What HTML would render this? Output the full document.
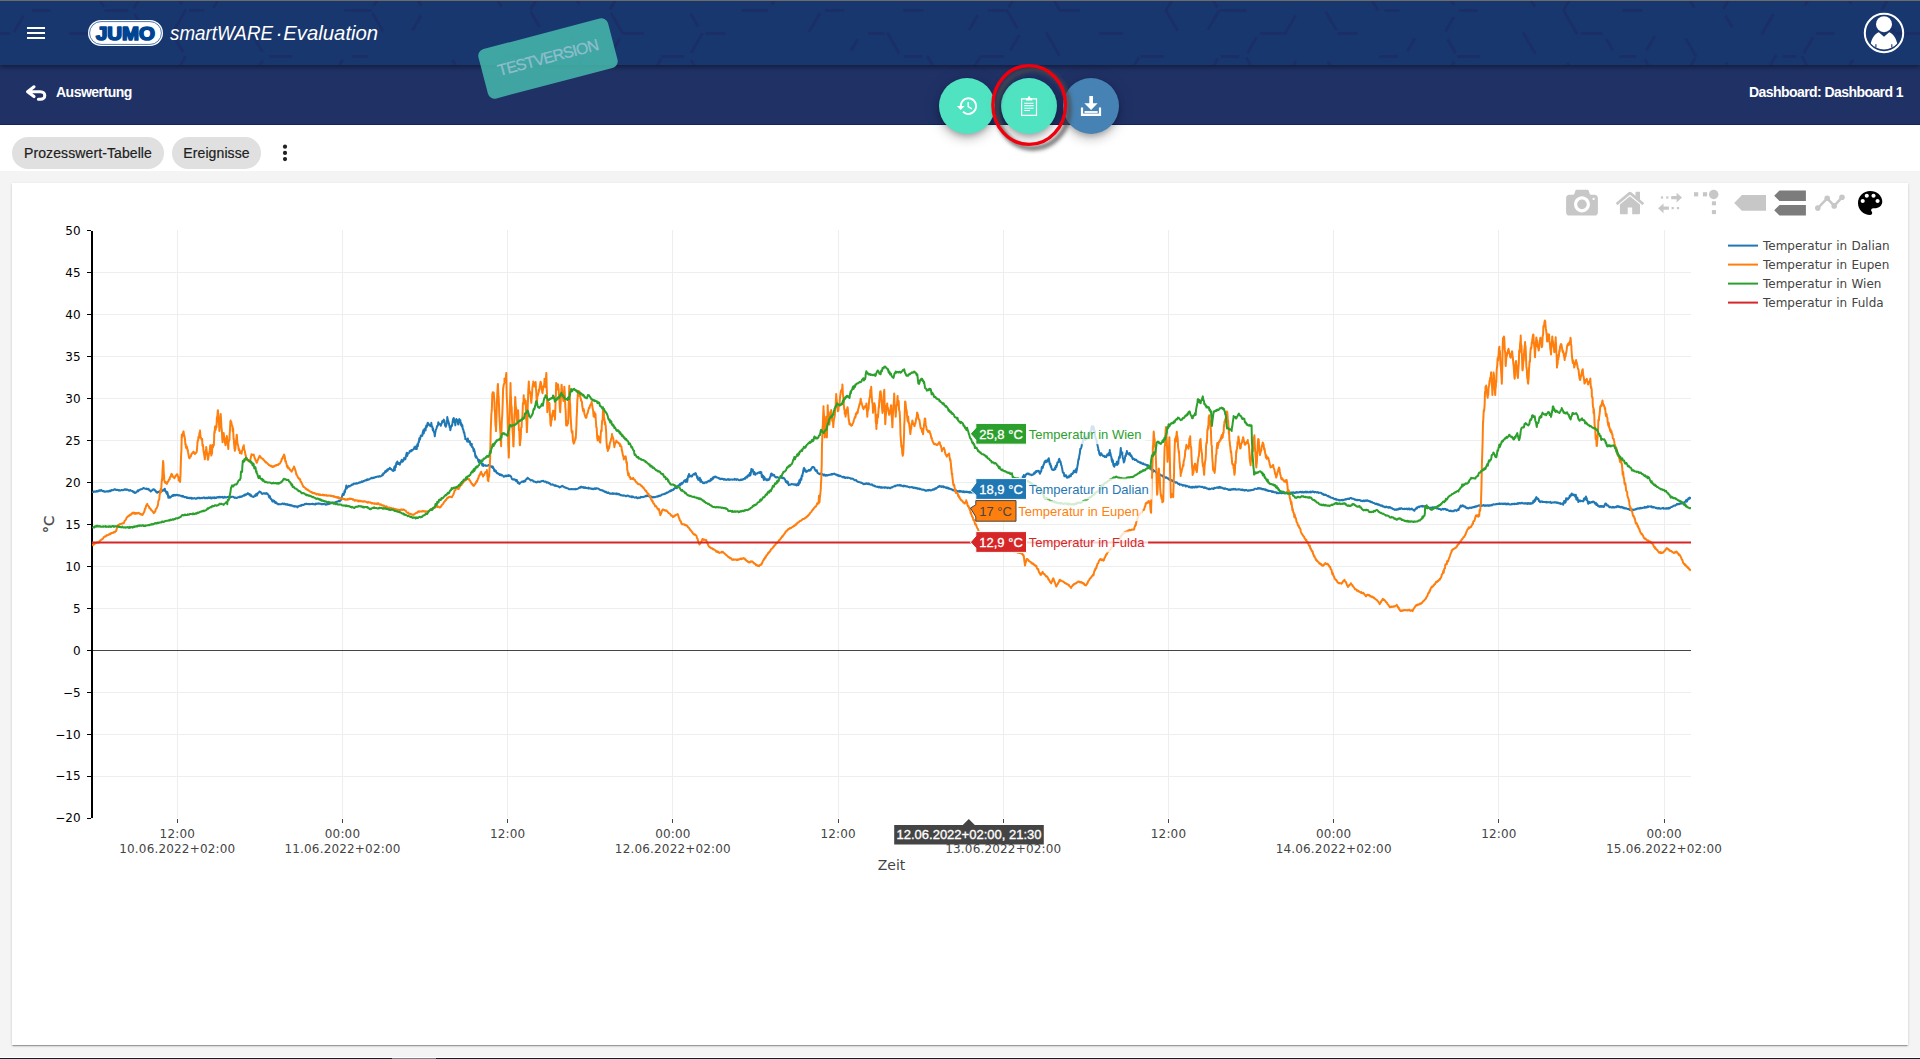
<!DOCTYPE html><html lang="de"><head><meta charset="utf-8"><title>JUMO smartWARE Evaluation</title><style>
*{box-sizing:border-box;margin:0;padding:0}
html,body{width:1920px;height:1059px;overflow:hidden;background:#f4f4f4;font-family:"Liberation Sans",sans-serif}
.abs{position:absolute}
#hdr{left:0;top:0;width:1920px;height:65px;background:#18376f;box-shadow:0 2px 5px rgba(0,0,0,.45);z-index:3}
#topline{left:0;top:0;width:1920px;height:1px;background:#6d6a6a;z-index:6}
#sub{left:0;top:65px;width:1920px;height:60px;background:#203166;border-bottom:1px solid #12255c;z-index:2}
#strip{left:0;top:125px;width:1920px;height:46px;background:#fff;z-index:1}
#card{left:12px;top:183px;width:1896px;height:862px;background:#fff;box-shadow:0 2px 1px -1px rgba(0,0,0,.2),0 1px 1px 0 rgba(0,0,0,.14),0 1px 3px 0 rgba(0,0,0,.12);z-index:1}
#bottom{left:0;top:1057px;width:1920px;height:2px;background:linear-gradient(#fff 0 1px,#0b1f2e 1px 2px);z-index:5}
#bseg{left:392px;top:1058px;width:44px;height:1px;background:#6f8288;z-index:6}
.chip{top:137px;height:32px;border-radius:16px;background:#e0e0e0;color:#212121;font-size:14px;line-height:32px;text-align:center;z-index:2;white-space:nowrap;letter-spacing:.1px;-webkit-text-stroke:.2px #212121}
.chart{position:absolute;left:0;top:0;z-index:2}
.ui{position:absolute;left:0;top:0;z-index:7}
.fab{width:56px;height:56px;border-radius:50%;top:78px;z-index:4;box-shadow:0 3px 5px -1px rgba(0,0,0,.2),0 6px 10px 0 rgba(0,0,0,.14),0 1px 18px 0 rgba(0,0,0,.12)}
#stamp{left:480.6px;top:33.2px;width:134px;height:51px;border-radius:7px;background:rgba(72,190,176,.82);transform:rotate(-14.7deg);z-index:5;color:rgba(186,204,224,.6);-webkit-text-stroke:.3px rgba(186,204,224,.6);font-size:16px;letter-spacing:-.9px;text-align:center;line-height:50px}
.t{position:absolute;color:#fff;white-space:nowrap;z-index:7}
</style></head><body>
<div class="abs" id="hdr"></div><svg class="abs" style="left:0;top:1px;z-index:3" width="1920" height="64" viewBox="0 1 1920 64"><path d="M-51.6,-35.4L-29.7,-35.4M-24.0,-31.1L-16.2,-17.5M-15.6,-8.4L-22.0,2.8M-52.4,10.5L-34.9,10.5M-22.7,17.1L-17.3,26.4M-16.2,38.5L-26.3,56.0M-22.0,64.2L-17.7,71.7M-51.7,102.3L-34.7,102.3M-22.7,108.9L-17.0,118.7M15.8,-53.9L22.2,-42.9M25.5,-33.7L14.7,-15.0M-10.3,-12.4L9.4,-12.4M22.8,16.9L14.6,31.0M-7.9,33.4L8.8,33.4M-4.2,79.3L5.1,79.3M16.8,85.4L22.6,95.5M32.7,-35.4L50.8,-35.4M32.9,10.5L49.2,10.5M56.3,107.9L64.6,122.4M94.5,-55.3L104.5,-38.1M103.9,-31.7L96.6,-19.1M66.8,-12.4L90.6,-12.4M93.9,-10.5L103.2,5.6M70.4,33.4L88.6,33.4M94.7,82.7L103.0,97.1M133.3,-34.0L142.2,-18.6M143.5,-8.6L134.4,7.2M106.0,10.5L127.1,10.5M135.1,15.0L145.5,33.1M114.3,102.3L130.5,102.3M149.5,-58.3L163.9,-58.3M185.2,-34.9L175.9,-18.8M148.9,-12.4L163.5,-12.4M173.0,-11.2L181.3,3.3M185.4,10.7L172.8,32.4M173.4,35.5L182.5,51.2M184.9,57.4L173.0,78.1M186.4,-35.4L205.9,-35.4M215.8,-28.7L221.4,-19.2M220.8,-4.8L214.2,6.7M190.5,10.5L203.0,10.5M223.5,82.3L215.9,95.6M227.3,-58.3L250.0,-58.3M230.1,33.4L245.8,33.4M251.9,33.7L261.7,50.6M261.8,62.0L252.0,79.0M233.9,79.3L251.6,79.3M264.0,104.1L255.3,119.0M266.9,-35.4L288.0,-35.4M271.1,56.4L290.7,56.4M295.2,108.6L301.7,119.9M333.1,-55.1L344.3,-35.8M305.9,-12.4L323.4,-12.4M312.4,33.4L331.1,33.4M342.0,60.8L335.3,72.4M313.8,79.3L328.0,79.3M352.6,-35.4L369.4,-35.4M372.2,-33.4L381.0,-18.1M381.5,-7.7L374.4,4.6M345.7,10.5L370.2,10.5M373.1,14.2L382.3,30.1M353.0,56.4L366.4,56.4M348.6,102.3L363.4,102.3M374.7,108.7L380.4,118.6M421.6,-31.2L412.8,-16.0M413.3,-7.9L420.5,4.5M420.4,16.7L413.0,29.5M389.9,79.3L406.2,79.3M453.1,60.9L463.5,78.9M425.1,102.3L445.3,102.3M451.6,104.2L459.5,117.8M500.2,-29.6L491.8,-15.2M471.9,-12.4L489.9,-12.4M494.7,-4.8L500.7,5.7M501.5,59.9L492.5,75.5M465.6,79.3L483.9,79.3M500.9,106.7L492.8,120.8M506.6,-35.4L526.5,-35.4M538.7,-4.5L531.0,8.8M531.2,12.6L538.8,25.7M504.7,56.4L524.6,56.4M504.9,102.3L529.3,102.3M543.8,-58.3L566.9,-58.3M570.1,-57.8L582.7,-35.9M573.7,-5.6L578.7,3.0M572.3,37.9L582.7,55.8M582.4,57.4L571.9,75.5M544.3,79.3L562.0,79.3M570.7,81.0L579.8,96.8M579.5,108.4L573.0,119.5M611.1,-32.6L618.2,-20.3M622.7,-12.3L610.7,8.4M611.7,14.3L622.4,32.9M619.0,40.0L612.1,51.8M620.4,83.4L610.9,99.8M613.4,109.0L621.4,122.9M626.0,-58.3L640.5,-58.3M649.6,-57.8L661.3,-37.5M661.7,-34.1L653.5,-19.8M625.0,33.4L642.7,33.4M660.4,60.0L652.7,73.4M671.5,-35.4L682.6,-35.4M689.0,-35.4L699.4,-17.4M691.3,14.6L697.6,25.5M701.8,34.2L691.8,51.6M662.7,56.4L682.5,56.4M691.7,61.1L700.1,75.6M705.3,-58.3L728.6,-58.3M732.1,-52.5L740.3,-38.3M738.1,-28.7L729.3,-13.3M707.1,33.4L724.2,33.4M781.6,-12.2L772.5,3.5M743.0,10.5L767.0,10.5M749.4,102.3L766.2,102.3M811.7,-52.4L818.0,-41.4M820.3,-33.3L809.5,-14.6M788.6,-12.4L808.0,-12.4M819.3,14.3L809.7,30.9M783.1,79.3L801.3,79.3M818.9,106.9L812.8,117.3M824.0,-35.4L845.0,-35.4M826.3,10.5L843.0,10.5M857.1,40.6L851.7,50.0M859.1,83.0L848.8,100.9M849.2,104.5L857.6,118.9M866.6,-58.3L879.8,-58.3M868.9,-12.4L883.2,-12.4M869.6,33.4L883.0,33.4M887.8,33.5L898.6,52.3M862.6,79.3L881.7,79.3M891.6,86.1L896.4,94.3M931.8,-28.0L939.4,-14.8M904.5,10.5L921.9,10.5M905.0,56.4L920.8,56.4M928.0,57.2L940.0,78.0M936.4,86.9L931.0,96.3M905.7,102.3L920.0,102.3M931.9,110.0L940.2,124.3M977.1,16.4L969.8,29.0M980.3,56.8L967.6,78.8M945.1,79.3L961.2,79.3M970.7,85.3L980.4,102.1M977.5,107.6L970.5,119.6M1007.8,-34.1L1016.4,-19.2M1016.0,-5.2L1009.3,6.5M988.9,10.5L1007.0,10.5M1007.6,11.6L1016.5,27.0M1018.7,36.2L1011.2,49.1M982.9,56.4L1003.0,56.4M984.3,102.3L1002.6,102.3M1008.6,105.0L1015.9,117.7M1015.8,133.0L1011.1,141.2M1022.8,-12.4L1039.8,-12.4M1048.8,-8.9L1059.8,10.1M1046.9,33.7L1058.7,54.1M1058.2,105.4L1047.1,124.7M1061.0,10.5L1078.7,10.5M1107.0,-58.3L1119.1,-58.3M1100.9,-12.4L1119.3,-12.4M1100.4,33.4L1121.8,33.4M1138.5,58.2L1128.1,76.1M1102.5,79.3L1121.2,79.3M1178.1,-10.5L1166.2,10.2M1166.1,10.7L1176.9,29.4M1141.9,56.4L1162.9,56.4M1179.1,79.6L1169.1,97.0M1145.8,102.3L1158.6,102.3M1210.2,-50.6L1215.8,-40.9M1181.3,-12.4L1203.5,-12.4M1210.2,-4.8L1216.7,6.4M1218.0,12.3L1208.5,28.8M1217.2,59.6L1209.4,73.0M1206.0,79.8L1214.6,94.7M1214.8,109.5L1206.3,124.3M1220.7,10.5L1244.9,10.5M1255.7,38.8L1248.4,51.4M1222.1,56.4L1237.8,56.4M1246.8,58.6L1255.7,74.1M1227.9,102.3L1238.1,102.3M1249.3,108.9L1257.9,123.8M1258.5,125.6L1247.9,144.0M1267.3,-58.3L1277.8,-58.3M1289.4,-51.1L1294.0,-43.2M1294.7,-28.9L1286.3,-14.3M1259.1,-12.4L1276.6,-12.4M1295.0,16.5L1285.7,32.6M1261.3,33.4L1284.9,33.4M1295.2,62.2L1288.4,73.9M1258.8,79.3L1283.0,79.3M1326.1,-33.5L1335.8,-16.7M1326.2,12.5L1335.6,28.9M1328.7,62.8L1337.0,77.2M1336.8,127.8L1328.0,143.1M1365.7,-56.8L1376.9,-37.4M1377.7,-34.9L1369.2,-20.2M1369.3,-4.6L1377.5,9.6M1339.0,33.4L1356.4,33.4M1340.4,79.3L1359.3,79.3M1385.8,10.5L1397.9,10.5M1414.3,39.4L1408.2,50.0M1380.3,56.4L1396.6,56.4M1381.7,102.3L1404.4,102.3M1414.0,131.7L1406.1,145.4M1446.5,-54.5L1456.7,-36.9M1445.6,-10.1L1453.4,3.4M1453.0,18.3L1446.2,30.1M1448.3,40.4L1454.9,52.0M1453.9,62.6L1444.5,78.9M1423.3,79.3L1440.7,79.3M1446.0,82.3L1453.5,95.4M1456.3,104.3L1446.1,122.0M1484.1,-35.3L1494.1,-17.9M1460.4,10.5L1476.6,10.5M1458.4,56.4L1478.4,56.4M1459.0,102.3L1481.2,102.3M1485.3,104.6L1494.0,119.7M1502.5,-58.3L1517.8,-58.3M1527.8,-51.4L1537.0,-35.4M1536.1,-33.8L1525.0,-14.6M1497.3,-12.4L1522.8,-12.4M1527.6,-5.9L1534.2,5.7M1523.8,33.6L1534.9,52.8M1526.6,84.3L1534.1,97.2M1539.6,-35.4L1559.1,-35.4M1574.5,-8.5L1564.4,8.9M1564.1,11.5L1576.5,33.0M1567.8,63.8L1573.9,74.4M1573.1,131.6L1567.1,141.9M1584.6,-58.3L1601.7,-58.3M1604.3,-56.6L1613.7,-40.2M1577.9,-12.4L1596.3,-12.4M1582.0,33.4L1601.0,33.4M1607.1,40.2L1612.4,49.3M1614.6,105.7L1605.2,121.9M1622.6,-35.4L1637.9,-35.4M1643.1,-35.2L1654.5,-15.5M1623.6,10.5L1641.0,10.5M1654.1,37.3L1647.1,49.2M1620.5,56.4L1634.6,56.4M1645.4,60.5L1651.8,71.6M1623.3,102.3L1640.9,102.3M1653.9,129.3L1645.9,143.2M1686.7,-51.5L1696.0,-35.4M1687.3,-4.6L1693.6,6.4M1686.4,39.8L1695.7,55.8M1694.4,59.2L1683.9,77.4M1664.6,79.3L1676.0,79.3M1693.7,106.3L1683.1,124.6M1698.4,-35.4L1717.9,-35.4M1722.7,-35.1L1732.0,-19.0M1731.4,-4.9L1724.0,7.9M1726.1,16.8L1731.6,26.3M1726.5,63.4L1733.7,75.8M1727.1,110.3L1734.0,122.3M1732.1,131.7L1725.9,142.3M1772.0,-29.3L1764.8,-16.9M1742.6,-12.4L1753.4,-12.4M1772.5,15.6L1762.3,33.3M1775.5,56.4L1766.7,71.6M1741.5,79.3L1757.0,79.3M1777.6,-35.4L1798.8,-35.4M1802.0,-35.4L1812.3,-17.6M1813.6,-9.6L1805.6,4.3M1812.4,38.5L1804.4,52.2M1784.2,56.4L1795.0,56.4M1802.4,57.2L1813.6,76.4M1803.2,104.4L1810.7,117.3M1844.7,-53.2L1852.4,-39.9M1845.9,-5.2L1850.6,2.8M1817.5,33.4L1833.0,33.4M1852.4,60.8L1842.0,78.9M1817.1,79.3L1838.1,79.3M1882.9,-32.9L1891.5,-18.1M1890.6,-5.3L1882.5,8.8M1885.4,17.3L1893.6,31.4M1894.3,80.2L1885.1,96.1M1858.1,102.3L1879.2,102.3M1923.8,-53.9L1931.9,-39.9M1924.2,-7.3L1934.3,10.2M1930.4,17.6L1925.8,25.5M1896.9,33.4L1918.9,33.4M1902.9,79.3L1915.0,79.3M1925.5,86.6L1932.8,99.3M1941.2,56.4L1957.0,56.4M1962.0,58.1L1972.5,76.3M1970.0,86.7L1965.0,95.4M1935.5,102.3L1960.3,102.3M1961.7,103.4L1969.7,117.4M1971.0,130.8L1962.7,145.3" stroke="#23215a" stroke-opacity="0.4" stroke-width="2.6" stroke-linecap="square" fill="none"/></svg><div class="abs" id="topline"></div><div class="abs" id="sub"></div><div class="abs" id="strip"></div>
<div class="abs" id="card"></div><div class="abs" id="bottom"></div><div class="abs" id="bseg"></div>
<div class="abs chip" style="left:12px;width:152px">Prozesswert-Tabelle</div>
<div class="abs chip" style="left:172px;width:89px">Ereignisse</div>
<div class="abs fab" style="left:938.6px;background:#50e3c2"></div>
<div class="abs fab" style="left:1001px;background:#50e3c2"></div>
<div class="abs fab" style="left:1062.6px;background:#4682b4"></div>
<div class="abs" id="stamp">TESTVERSION</div>
<div class="t" style="left:56px;top:84px;font-size:14px;font-weight:bold;letter-spacing:-.5px;line-height:16px">Auswertung</div>
<div class="t" style="right:17px;top:84px;font-size:14px;font-weight:bold;letter-spacing:-.57px;line-height:16px">Dashboard: Dashboard 1</div>
<svg class="chart" width="1920" height="1059" viewBox="0 0 1920 1059">
<defs><clipPath id="plotclip"><rect x="92" y="229" width="1599" height="590"/></clipPath></defs>
<path d="M177.5,230.4V818M342.5,230.4V818M507.5,230.4V818M672.5,230.4V818M838.5,230.4V818M1003.5,230.4V818M1168.5,230.4V818M1333.5,230.4V818M1498.5,230.4V818M1664.5,230.4V818M93,272.4H1691M93,314.4H1691M93,356.4H1691M93,398.4H1691M93,440.4H1691M93,482.4H1691M93,524.4H1691M93,566.4H1691M93,608.4H1691M93,692.4H1691M93,734.4H1691M93,776.4H1691" stroke="#eeeeee" stroke-width="1" fill="none" shape-rendering="crispEdges"/>
<path d="M93,650.4H1691" stroke="#444" stroke-width="1" fill="none" shape-rendering="crispEdges"/>
<path d="M92,231V818" stroke="#000" stroke-width="2" fill="none" shape-rendering="crispEdges"/>
<g clip-path="url(#plotclip)" fill="none" stroke-width="2" stroke-linejoin="round" stroke-linecap="butt">
<path d="M92.3,491.5L92.8,492.1L93.3,492.0L93.8,491.5L94.3,491.7L94.8,491.6L95.3,491.7L95.8,491.8L96.3,491.1L96.8,491.0L97.0,491.5L97.3,491.3L97.8,491.4L98.3,490.5L98.8,490.8L99.3,490.9L99.8,490.2L100.3,490.8L100.8,490.5L100.8,490.1L101.3,489.9L101.8,490.6L102.3,491.2L102.8,490.9L103.3,491.0L103.8,491.4L104.3,491.2L104.6,491.8L104.8,491.7L105.3,491.8L105.8,491.4L106.3,491.4L106.8,491.3L107.3,491.5L107.8,491.3L108.3,491.0L108.3,491.5L108.8,491.4L109.3,491.3L109.8,490.6L110.3,491.3L110.8,491.0L111.3,490.1L111.8,490.1L112.3,490.3L112.8,490.1L113.3,490.2L113.8,489.5L114.3,489.7L114.8,489.4L114.9,489.2L115.3,489.4L115.8,489.9L116.3,490.0L116.8,489.8L117.3,490.1L117.8,489.7L118.3,490.1L118.7,490.5L118.8,490.4L119.3,490.1L119.8,490.4L120.3,490.5L120.8,490.4L121.3,490.1L121.8,490.1L122.3,490.1L122.8,490.3L123.3,490.0L123.8,489.8L124.3,489.8L124.8,489.3L125.3,489.2L125.8,489.8L126.3,490.0L126.3,489.6L126.8,489.6L127.3,489.4L127.8,489.9L128.3,490.4L128.8,490.3L129.3,490.2L129.8,490.6L130.3,490.1L130.8,490.5L131.0,490.5L131.3,490.7L131.8,490.9L132.3,491.0L132.8,491.5L133.3,492.2L133.8,491.5L134.3,492.6L134.8,492.9L135.2,492.8L135.3,492.9L135.8,492.7L136.3,492.1L136.8,491.8L137.3,491.3L137.8,490.4L138.3,491.3L138.8,490.5L139.3,489.7L139.5,489.9L139.8,489.8L140.3,489.5L140.8,489.3L141.3,489.3L141.8,489.2L142.3,488.9L142.8,488.6L143.3,488.0L143.8,488.0L144.2,488.1L144.3,488.2L144.8,488.6L145.3,488.7L145.8,488.8L146.3,489.0L146.8,488.6L147.3,489.3L147.8,489.3L148.0,489.1L148.3,488.7L148.8,489.2L149.3,490.5L149.8,490.4L150.3,490.6L150.8,491.5L150.8,491.5L151.3,490.7L151.8,490.4L152.3,490.3L152.8,489.6L153.3,489.3L153.7,489.2L153.8,489.2L154.3,489.6L154.8,490.4L155.3,490.2L155.8,491.4L156.3,492.0L156.5,492.4L156.8,491.9L157.3,492.6L157.8,492.2L158.3,491.8L158.8,492.0L159.3,492.2L159.8,491.3L160.3,491.2L160.8,491.2L161.2,491.5L161.3,491.1L161.8,491.3L162.3,490.9L162.8,490.4L163.3,489.7L163.8,490.5L164.3,490.1L164.4,489.2L164.8,488.8L165.3,491.3L165.8,491.1L166.3,492.9L166.8,492.5L167.3,494.5L167.3,492.1L167.8,493.9L168.3,497.7L168.8,497.6L169.3,496.4L169.7,497.6L169.8,497.1L170.3,497.6L170.8,497.1L171.3,496.5L171.8,496.0L172.3,495.5L172.8,496.0L173.3,494.9L173.5,495.2L173.8,495.7L174.3,495.2L174.8,494.7L175.3,495.4L175.8,495.4L176.3,495.1L176.3,494.9L176.8,494.8L177.3,494.9L177.8,494.9L178.3,495.5L178.8,495.4L179.3,495.2L179.8,495.3L180.3,495.9L180.8,495.7L181.3,496.0L181.8,495.9L182.0,496.2L182.3,496.7L182.8,495.9L183.3,496.2L183.8,496.5L184.3,497.3L184.8,497.2L185.3,496.9L185.8,496.9L186.3,497.5L186.7,497.5L186.8,497.9L187.3,497.4L187.8,498.0L188.3,497.9L188.8,497.8L189.3,498.3L189.8,497.7L190.3,498.2L190.8,497.7L191.3,497.8L191.8,498.6L192.3,498.0L192.8,498.6L193.3,498.5L193.3,498.4L193.8,498.3L194.3,498.2L194.8,498.1L195.3,498.7L195.8,498.4L196.3,498.7L196.8,498.6L197.3,497.8L197.8,498.2L198.3,497.7L198.8,497.7L199.3,497.7L199.8,498.4L200.3,498.3L200.8,498.3L201.3,497.8L201.8,498.1L202.3,498.2L202.8,497.8L202.8,497.9L203.3,497.6L203.8,497.5L204.3,497.6L204.8,498.3L205.3,497.9L205.8,498.3L206.3,497.8L206.8,497.7L207.3,498.2L207.8,498.2L208.3,497.4L208.8,498.0L209.3,497.5L209.8,497.5L210.3,498.3L210.8,497.4L211.3,497.6L211.8,498.4L212.2,497.9L212.3,497.5L212.8,497.5L213.3,497.5L213.8,498.0L214.3,497.3L214.8,498.1L215.3,497.5L215.8,498.1L216.3,498.0L216.8,497.3L217.3,497.2L217.8,497.4L218.3,497.0L218.8,497.5L219.3,496.9L219.8,496.8L219.8,497.3L220.3,497.1L220.8,497.4L221.3,497.2L221.8,497.1L222.3,496.8L222.8,497.6L223.3,497.7L223.8,497.7L224.3,496.8L224.8,496.9L225.3,497.3L225.8,497.6L226.3,497.2L226.8,497.3L227.3,497.3L227.3,497.1L227.8,497.1L228.3,496.9L228.8,496.8L229.3,496.5L229.8,496.7L230.3,497.4L230.8,496.8L231.3,497.0L231.8,496.9L232.1,496.7L232.3,496.7L232.8,496.7L233.3,496.9L233.8,497.0L234.3,497.7L234.8,497.9L235.3,497.4L235.8,497.6L236.3,498.0L236.8,498.1L236.8,498.1L237.3,497.6L237.8,497.3L238.3,497.3L238.8,497.0L239.3,497.3L239.8,496.6L240.3,496.5L240.8,496.9L241.3,496.4L241.8,496.7L242.3,496.2L242.5,496.2L242.8,495.7L243.3,495.8L243.8,495.8L244.3,494.8L244.8,495.5L245.3,494.4L245.8,494.8L246.3,494.7L246.8,494.3L247.3,493.6L247.8,493.1L248.1,493.3L248.3,493.9L248.8,493.7L249.3,494.7L249.8,494.2L250.3,495.7L250.8,494.7L251.0,495.6L251.3,496.3L251.8,496.2L252.3,496.5L252.8,496.7L253.3,496.8L253.8,496.9L253.8,496.7L254.3,496.2L254.8,495.3L255.3,495.9L255.8,495.5L256.3,493.8L256.6,494.0L256.8,495.6L257.3,494.5L257.8,493.3L258.3,492.7L258.8,492.7L259.3,491.6L259.5,491.5L259.8,491.6L260.3,491.9L260.8,492.1L261.3,493.2L261.8,493.4L262.3,494.0L262.3,493.9L262.8,493.7L263.3,493.3L263.8,493.2L264.3,493.3L264.8,493.7L265.1,493.3L265.3,493.3L265.8,493.7L266.3,493.5L266.8,493.1L267.3,494.1L267.8,494.2L268.0,494.4L268.3,494.6L268.8,496.4L269.3,497.5L269.8,496.1L270.3,498.1L270.8,498.9L270.8,498.7L271.3,499.0L271.8,500.0L272.3,501.4L272.8,501.6L273.3,500.4L273.8,501.5L274.3,500.8L274.6,501.7L274.8,502.0L275.3,502.9L275.8,502.0L276.3,503.2L276.8,503.6L277.3,503.3L277.8,504.0L278.3,504.4L278.3,504.1L278.8,504.3L279.3,504.3L279.8,504.1L280.3,504.3L280.8,504.3L281.3,504.3L281.8,503.9L282.3,503.5L282.8,503.5L283.1,503.7L283.3,503.8L283.8,504.1L284.3,503.5L284.8,504.3L285.3,504.4L285.8,504.1L286.3,504.4L286.8,504.1L287.3,504.8L287.8,504.2L287.8,504.7L288.3,505.1L288.8,505.0L289.3,504.7L289.8,505.5L290.3,505.6L290.8,504.9L291.3,505.6L291.8,505.8L292.3,505.7L292.5,505.6L292.8,505.6L293.3,506.3L293.8,506.4L294.3,506.0L294.8,506.6L295.3,506.3L295.8,506.2L296.3,506.5L296.8,506.4L297.2,506.9L297.3,507.4L297.8,506.4L298.3,506.7L298.8,506.3L299.3,505.8L299.8,505.8L300.3,505.6L300.8,505.9L301.3,505.0L301.8,505.0L302.0,505.2L302.3,504.7L302.8,505.1L303.3,504.9L303.8,505.0L304.3,504.2L304.8,504.1L305.3,504.2L305.8,503.8L306.3,503.9L306.7,503.7L306.8,503.9L307.3,504.1L307.8,504.1L308.3,504.3L308.8,503.9L309.3,503.9L309.8,504.3L310.3,504.2L310.8,504.1L311.3,503.9L311.8,503.9L312.3,503.7L312.3,504.1L312.8,503.7L313.3,504.3L313.8,504.1L314.3,504.4L314.8,504.2L315.3,504.4L315.8,503.5L316.3,503.8L316.8,503.9L317.3,503.6L317.8,503.7L318.0,503.7L318.3,503.8L318.8,503.3L319.3,503.8L319.8,503.8L320.3,503.7L320.8,503.8L321.3,504.3L321.8,504.2L322.3,504.0L322.8,504.2L323.3,504.0L323.8,503.9L324.3,503.7L324.8,504.0L325.3,504.4L325.6,504.3L325.8,504.6L326.3,504.2L326.8,504.5L327.3,503.9L327.8,504.2L328.3,503.7L328.8,503.9L329.3,504.0L329.8,503.3L330.3,503.0L330.8,503.4L331.3,503.2L331.8,502.9L332.3,502.5L332.8,502.7L333.1,502.8L333.3,502.6L333.8,502.9L334.3,502.5L334.8,502.5L335.3,502.5L335.8,502.2L336.3,501.7L336.8,501.8L337.3,501.5L337.8,501.5L338.3,501.3L338.8,500.7L338.8,501.0L339.3,500.7L339.8,501.4L340.3,500.4L340.8,500.2L341.3,499.3L341.6,497.9L341.8,497.7L342.3,495.4L342.8,493.9L343.3,495.0L343.8,494.8L344.3,492.1L344.5,491.0L344.8,492.5L345.3,489.7L345.8,488.7L346.3,485.6L346.4,487.7L346.8,488.5L347.3,487.0L347.8,486.6L348.3,487.0L348.8,485.9L349.3,486.2L349.8,486.4L350.1,485.8L350.3,485.6L350.8,485.6L351.3,485.3L351.8,484.7L352.3,484.4L352.8,484.8L353.3,484.0L353.8,483.5L353.9,483.9L354.3,483.8L354.8,483.6L355.3,483.6L355.8,483.8L356.3,483.1L356.8,483.5L357.3,483.4L357.8,483.4L358.3,482.8L358.6,483.0L358.8,482.6L359.3,482.8L359.8,482.2L360.3,482.6L360.8,482.5L361.3,481.7L361.8,481.4L362.3,482.0L362.8,481.5L363.3,481.4L363.4,481.1L363.8,481.3L364.3,480.9L364.8,480.4L365.3,480.3L365.8,480.5L366.3,480.3L366.8,479.6L367.1,479.7L367.3,479.4L367.8,480.0L368.3,479.3L368.8,479.6L369.3,479.3L369.8,479.0L370.3,478.5L370.8,478.6L371.3,478.0L371.8,477.8L372.3,478.2L372.8,477.7L372.8,477.9L373.3,477.5L373.8,477.9L374.3,477.8L374.8,477.3L375.3,477.0L375.8,477.2L376.3,477.1L376.8,476.7L377.3,476.6L377.8,476.4L378.3,476.9L378.5,476.7L378.8,476.3L379.3,476.0L379.8,476.5L380.3,476.4L380.8,476.4L381.3,475.9L381.8,475.3L382.2,475.5L382.3,474.6L382.8,475.3L383.3,473.3L383.8,473.6L384.3,473.3L384.8,472.4L385.3,471.2L385.8,470.9L386.0,471.9L386.3,471.2L386.8,471.1L387.3,469.4L387.8,470.5L388.3,468.9L388.8,469.0L389.3,469.0L389.8,468.4L389.8,467.8L390.3,468.7L390.8,469.3L391.3,469.1L391.8,469.7L392.3,470.4L392.6,470.7L392.8,470.3L393.3,471.0L393.8,470.4L394.3,467.0L394.8,470.3L395.1,467.2L395.3,465.6L395.8,467.1L396.3,462.9L396.8,463.5L397.3,461.4L397.4,462.7L397.8,464.0L398.3,464.1L398.8,462.9L399.3,463.3L399.8,464.6L400.0,464.0L400.3,463.3L400.8,462.0L401.3,461.0L401.8,459.7L402.3,461.8L402.8,461.6L403.3,460.7L403.8,459.6L403.8,459.9L404.3,457.8L404.8,458.3L405.3,459.3L405.8,457.0L406.3,454.4L406.8,452.9L407.3,455.9L407.6,453.9L407.8,453.1L408.3,453.6L408.8,453.1L409.3,452.6L409.8,450.9L410.3,451.3L410.8,451.1L411.3,450.0L411.3,451.2L411.8,450.2L412.3,450.4L412.8,449.9L413.3,449.3L413.8,448.7L414.2,447.8L414.3,447.3L414.8,448.6L415.3,446.5L415.8,449.1L416.3,449.0L416.8,449.0L417.0,446.5L417.3,444.3L417.8,446.4L418.3,443.2L418.8,441.2L418.9,442.2L419.3,438.3L419.8,439.7L420.3,438.1L420.8,435.4L421.3,435.6L421.8,436.0L422.3,435.8L422.7,432.3L422.8,433.0L423.3,430.3L423.8,433.4L424.3,429.3L424.8,428.6L425.3,429.8L425.5,430.5L425.8,428.2L426.3,425.4L426.8,426.9L427.3,425.1L427.4,423.7L427.8,422.7L428.3,423.9L428.8,424.2L429.3,425.5L429.3,425.4L429.8,424.9L430.3,425.7L430.8,426.2L431.2,424.6L431.3,422.8L431.8,426.5L432.3,426.5L432.8,430.2L433.1,428.6L433.3,430.7L433.8,431.8L434.3,432.7L434.8,436.3L434.9,435.4L435.3,432.5L435.8,429.9L436.3,428.9L436.8,427.7L436.8,426.8L437.3,425.7L437.8,425.8L438.3,422.2L438.7,424.0L438.8,424.3L439.3,423.6L439.8,424.0L440.3,424.8L440.6,425.4L440.8,425.8L441.3,424.1L441.8,423.2L442.3,421.0L442.5,422.0L442.8,421.0L443.3,420.7L443.8,419.6L444.3,422.3L444.4,420.7L444.8,424.2L445.3,426.0L445.7,426.1L445.8,426.7L446.3,425.1L446.8,422.9L447.2,419.3L447.3,417.1L447.8,420.0L448.3,421.2L448.7,422.4L448.8,423.3L449.3,425.4L449.8,428.1L450.1,428.1L450.3,430.2L450.8,427.9L451.3,426.0L451.8,425.5L451.9,426.1L452.3,424.3L452.8,420.5L453.3,418.4L453.8,419.1L453.8,418.0L454.3,422.1L454.8,421.0L455.2,424.4L455.3,425.3L455.8,420.3L456.3,419.0L456.7,419.8L456.8,419.4L457.3,420.4L457.8,422.5L458.2,424.6L458.3,424.2L458.8,421.0L459.3,419.1L459.5,420.1L459.8,421.1L460.3,420.1L460.8,424.8L461.0,422.9L461.3,423.3L461.8,426.4L462.3,426.4L462.3,425.1L462.8,429.1L463.3,429.5L463.8,432.7L463.8,431.7L464.3,432.6L464.8,436.0L465.2,436.8L465.3,439.1L465.8,439.0L466.3,439.2L466.8,440.2L467.3,441.6L467.6,439.4L467.8,438.5L468.3,441.3L468.8,441.9L469.3,441.1L469.8,441.3L469.9,441.4L470.3,444.4L470.8,445.2L471.3,445.4L471.8,443.9L471.8,446.7L472.3,447.3L472.8,447.2L473.3,449.0L473.7,451.2L473.8,448.7L474.3,450.3L474.8,452.2L475.3,456.1L475.6,455.1L475.8,457.5L476.3,456.4L476.8,457.5L477.3,458.4L477.4,458.5L477.8,459.0L478.3,460.9L478.8,462.1L479.3,459.9L479.8,461.4L480.3,460.5L480.3,461.1L480.8,462.0L481.3,463.0L481.8,463.5L482.3,465.4L482.8,463.8L483.1,465.2L483.3,466.1L483.8,465.5L484.3,465.3L484.8,465.2L485.3,465.3L485.8,465.9L486.0,465.5L486.3,465.6L486.8,465.8L487.3,465.7L487.8,465.6L488.3,465.1L488.8,465.1L488.8,465.1L489.3,465.4L489.8,466.1L490.3,466.2L490.8,466.3L491.3,466.9L491.8,466.2L492.3,467.3L492.6,467.9L492.8,466.6L493.3,467.7L493.8,468.5L494.3,471.1L494.8,470.8L495.3,470.3L495.4,471.6L495.8,470.7L496.3,472.0L496.8,473.0L497.3,473.2L497.8,473.1L498.2,473.7L498.3,473.6L498.8,474.2L499.3,474.1L499.8,475.0L500.3,474.8L500.8,474.4L501.1,474.9L501.3,475.5L501.8,475.1L502.3,475.1L502.8,475.6L503.3,476.1L503.8,476.8L503.9,476.5L504.3,476.5L504.8,476.5L505.3,475.6L505.8,475.9L506.3,476.2L506.7,475.5L506.8,475.5L507.3,475.4L507.8,476.0L508.3,476.0L508.8,475.1L509.3,475.6L509.6,475.5L509.8,476.0L510.3,475.7L510.8,476.4L511.3,477.0L511.5,477.8L511.8,478.8L512.3,479.3L512.8,479.4L513.3,479.5L513.3,479.2L513.8,479.3L514.3,479.8L514.8,479.4L515.3,479.9L515.8,480.9L516.2,480.1L516.3,481.2L516.8,480.0L517.3,481.3L517.8,483.0L518.3,482.1L518.8,483.4L519.0,483.6L519.3,483.9L519.8,483.6L520.3,482.6L520.8,482.4L521.3,482.1L521.3,482.2L521.8,481.6L522.3,482.0L522.8,481.3L523.3,481.3L523.7,481.1L523.8,481.9L524.3,481.1L524.8,481.4L525.3,481.2L525.6,479.8L525.8,479.8L526.3,479.0L526.8,479.0L527.3,478.4L527.5,477.8L527.8,477.8L528.3,478.6L528.8,478.8L529.3,478.9L529.8,479.4L530.0,479.9L530.3,480.0L530.8,480.5L531.3,480.1L531.8,480.3L532.2,480.2L532.3,480.2L532.8,480.4L533.3,481.3L533.8,481.2L534.1,481.7L534.3,481.6L534.8,481.8L535.3,481.8L535.8,482.2L536.0,482.1L536.3,482.5L536.8,482.2L537.3,482.0L537.8,481.5L538.3,481.7L538.8,482.0L539.3,481.9L539.8,482.1L539.8,481.7L540.3,481.5L540.8,481.6L541.3,481.3L541.8,481.1L542.3,481.0L542.8,481.0L543.3,480.8L543.6,481.2L543.8,481.5L544.3,481.5L544.8,481.8L545.3,481.5L545.8,481.6L546.3,482.2L546.8,482.7L547.3,482.4L547.3,482.5L547.8,482.2L548.3,482.8L548.8,483.3L549.3,483.0L549.8,483.4L550.3,484.1L550.8,484.7L551.1,484.4L551.3,484.5L551.8,484.6L552.3,484.3L552.8,484.7L553.3,484.7L553.8,485.0L554.3,485.7L554.8,485.7L555.3,485.3L555.8,485.5L555.8,485.9L556.3,485.7L556.8,486.1L557.3,486.2L557.8,486.2L558.3,486.4L558.8,486.7L559.3,487.2L559.6,487.4L559.8,487.5L560.3,486.8L560.8,487.0L561.3,486.3L561.8,486.3L562.3,485.8L562.5,485.9L562.8,485.9L563.3,486.6L563.8,486.7L564.3,487.2L564.8,487.2L565.3,487.7L565.8,487.5L566.2,487.8L566.3,487.9L566.8,488.0L567.3,488.3L567.8,488.4L568.3,488.5L568.8,489.2L569.3,489.1L569.8,489.3L570.0,489.3L570.3,489.3L570.8,489.0L571.3,489.0L571.8,489.2L572.3,489.3L572.8,489.0L573.3,489.1L573.8,489.3L574.3,489.3L574.8,489.2L575.3,488.9L575.7,489.3L575.8,489.4L576.3,489.1L576.8,488.9L577.3,489.0L577.8,488.7L578.3,488.4L578.5,488.2L578.8,487.8L579.3,488.0L579.8,487.2L580.3,487.8L580.8,486.7L581.3,487.3L581.3,486.8L581.8,487.3L582.3,487.4L582.8,487.0L583.3,487.7L583.8,487.1L584.3,487.9L584.8,487.6L585.1,487.8L585.3,487.4L585.8,488.0L586.3,487.7L586.8,488.1L587.3,488.3L587.8,488.2L588.3,487.6L588.8,488.6L588.9,488.2L589.3,488.4L589.8,488.2L590.3,488.4L590.8,488.8L591.3,488.5L591.8,488.9L592.3,488.8L592.8,488.7L593.3,489.3L593.6,488.9L593.8,489.0L594.3,488.4L594.8,488.8L595.3,488.4L595.8,489.0L596.3,488.3L596.8,488.3L597.3,488.4L597.8,488.4L598.3,488.7L598.3,488.7L598.8,488.7L599.3,489.6L599.8,489.8L600.3,489.7L600.8,490.1L601.3,490.3L601.8,490.0L602.3,490.7L602.8,490.4L603.3,490.9L603.8,490.9L604.0,491.2L604.3,491.6L604.8,491.9L605.3,491.5L605.8,492.3L606.3,491.9L606.8,492.4L607.3,493.0L607.8,493.0L608.3,492.4L608.8,493.0L609.3,493.2L609.7,493.5L609.8,493.8L610.3,493.4L610.8,493.7L611.3,493.7L611.8,493.6L612.3,493.1L612.8,493.8L613.3,494.0L613.8,493.3L614.3,493.8L614.8,493.7L615.3,493.6L615.8,494.0L616.3,494.3L616.8,493.3L617.2,493.8L617.3,493.7L617.8,494.3L618.3,493.8L618.8,494.5L619.3,494.1L619.8,494.5L620.3,495.3L620.8,495.1L621.3,495.4L621.8,495.2L622.0,495.3L622.3,495.4L622.8,495.7L623.3,495.7L623.8,495.3L624.3,495.6L624.8,495.7L625.3,495.8L625.8,496.2L626.3,496.2L626.7,495.9L626.8,495.8L627.3,495.6L627.8,495.6L628.3,495.7L628.8,495.9L629.3,496.6L629.8,496.6L630.3,496.8L630.8,496.4L631.3,496.3L631.8,497.2L632.3,497.2L632.3,496.9L632.8,496.4L633.3,496.9L633.8,497.2L634.3,497.4L634.8,497.7L635.3,497.4L635.8,497.3L636.3,497.0L636.8,497.9L637.3,498.2L637.8,498.2L638.0,497.8L638.3,497.6L638.8,497.4L639.3,497.8L639.8,497.9L640.3,497.8L640.8,496.9L641.3,497.2L641.8,497.1L642.3,496.9L642.7,496.9L642.8,497.3L643.3,496.9L643.8,496.8L644.3,496.7L644.8,496.5L645.3,496.3L645.8,495.9L646.3,496.3L646.8,495.5L647.3,495.9L647.5,495.7L647.8,495.9L648.3,496.1L648.8,496.1L649.3,496.7L649.8,496.2L650.3,496.1L650.8,497.2L651.2,496.9L651.3,496.6L651.8,496.8L652.3,497.1L652.8,497.5L653.3,497.3L653.8,496.9L654.3,497.2L654.8,497.2L655.0,497.2L655.3,497.1L655.8,496.7L656.3,496.7L656.8,496.6L657.3,496.2L657.8,496.7L658.3,496.0L658.8,495.7L659.3,495.9L659.7,495.7L659.8,496.0L660.3,495.6L660.8,495.6L661.3,495.0L661.8,494.6L662.3,494.6L662.8,494.5L663.3,494.2L663.8,494.2L664.3,493.7L664.5,494.0L664.8,493.6L665.3,493.3L665.8,493.6L666.3,493.1L666.8,492.5L667.3,492.5L667.8,492.7L668.3,492.1L668.8,491.8L669.2,491.6L669.3,491.2L669.8,491.4L670.3,490.6L670.8,491.1L671.3,490.1L671.8,490.6L672.3,489.9L672.8,490.1L673.3,489.7L673.8,488.8L673.9,489.3L674.3,488.4L674.8,488.2L675.3,488.1L675.8,487.5L676.3,487.9L676.8,488.3L677.3,486.6L677.8,487.3L678.3,485.5L678.6,486.0L678.8,485.4L679.3,485.5L679.8,484.0L680.3,485.4L680.8,483.5L681.3,483.7L681.8,482.8L682.3,483.8L682.8,482.8L683.3,482.5L683.4,482.2L683.8,481.3L684.3,480.6L684.8,481.3L685.3,480.1L685.6,480.5L685.8,481.9L686.3,481.3L686.8,479.0L687.1,481.7L687.3,481.3L687.8,477.6L688.3,475.7L688.8,475.4L689.0,474.0L689.3,476.8L689.8,476.0L690.3,476.3L690.8,475.6L691.3,476.5L691.8,476.0L691.9,476.5L692.3,475.7L692.8,474.7L693.3,474.5L693.8,474.1L694.3,474.6L694.8,473.5L695.3,473.2L695.3,473.5L695.8,473.3L696.3,475.2L696.8,476.1L697.3,478.2L697.5,476.5L697.8,478.6L698.3,479.9L698.8,479.7L699.3,478.7L699.4,479.0L699.8,477.8L700.3,481.7L700.8,479.5L701.3,481.6L701.8,481.9L701.9,481.9L702.3,481.8L702.8,482.9L703.3,482.7L703.8,483.3L704.1,483.1L704.3,482.6L704.8,483.0L705.3,482.2L705.8,482.4L706.3,482.3L706.8,482.6L707.0,482.1L707.3,481.6L707.8,481.7L708.3,481.4L708.8,480.7L709.3,480.7L709.8,481.3L709.8,480.7L710.3,480.8L710.8,478.9L711.3,480.3L711.8,478.9L712.3,479.4L712.6,478.2L712.8,477.5L713.3,478.7L713.8,477.3L714.3,476.8L714.8,476.9L715.3,477.1L715.5,476.5L715.8,476.5L716.3,477.3L716.8,477.4L717.3,477.7L717.8,477.7L718.3,477.7L718.8,478.4L719.3,478.3L719.8,479.0L720.0,478.6L720.3,479.1L720.8,478.7L721.3,478.8L721.8,479.0L722.3,478.8L722.8,478.7L723.3,479.2L723.8,479.6L724.3,479.1L724.7,479.4L724.8,479.7L725.3,479.7L725.8,479.3L726.3,479.9L726.8,479.8L727.3,479.6L727.8,479.1L728.3,479.6L728.8,479.1L729.3,480.0L729.4,479.6L729.8,479.4L730.3,479.6L730.8,479.7L731.3,479.6L731.8,479.5L732.3,479.6L732.8,479.8L733.3,479.4L733.8,479.4L734.3,479.7L734.8,478.9L735.1,479.4L735.3,479.2L735.8,479.2L736.3,479.9L736.8,479.2L737.3,479.2L737.8,479.5L738.3,479.7L738.8,480.1L739.3,480.3L739.8,480.2L740.3,480.0L740.8,479.5L740.8,480.0L741.3,479.9L741.8,479.9L742.3,479.2L742.8,479.7L743.3,479.1L743.8,479.0L744.3,478.8L744.6,478.6L744.8,478.1L745.3,478.7L745.8,477.5L746.3,476.7L746.8,476.6L747.3,477.5L747.8,475.7L748.3,475.0L748.3,475.9L748.8,475.4L749.3,475.9L749.8,473.0L750.2,473.9L750.3,475.6L750.8,473.7L751.3,469.0L751.8,469.2L752.1,469.6L752.3,470.9L752.8,469.7L753.3,472.2L753.6,473.2L753.8,474.3L754.3,472.1L754.8,473.6L754.9,474.4L755.3,474.8L755.8,473.4L756.3,473.8L756.8,473.6L757.3,473.6L757.8,472.9L757.8,473.0L758.3,472.6L758.8,472.5L759.3,472.5L759.8,473.0L760.3,471.9L760.6,472.6L760.8,472.1L761.3,472.3L761.8,477.0L762.3,475.0L762.5,476.8L762.8,477.7L763.3,475.9L763.8,479.9L764.3,477.1L764.4,479.4L764.8,477.9L765.3,478.9L765.8,479.6L766.3,479.2L766.8,480.2L766.8,480.0L767.3,480.3L767.8,479.3L768.3,480.0L768.8,479.0L769.1,479.7L769.3,479.5L769.8,477.7L770.3,476.6L770.6,476.4L770.8,474.5L771.3,473.6L771.8,475.0L771.9,473.7L772.3,475.5L772.8,474.6L773.3,475.1L773.8,474.7L774.3,475.1L774.4,476.0L774.8,476.6L775.3,476.9L775.8,477.4L776.3,477.2L776.7,477.5L776.8,477.3L777.3,477.1L777.8,477.4L778.3,477.7L778.8,477.8L779.3,477.9L779.8,477.8L780.3,477.6L780.4,477.5L780.8,477.5L781.3,477.6L781.8,477.9L782.3,477.8L782.8,478.2L783.3,477.8L783.8,477.9L784.2,478.3L784.3,478.7L784.8,479.1L785.3,480.1L785.8,482.0L786.3,482.0L786.5,481.5L786.8,481.2L787.3,483.2L787.8,481.8L788.3,483.8L788.8,485.1L788.9,484.6L789.3,484.5L789.8,484.7L790.3,484.8L790.8,484.4L791.3,484.3L791.4,484.1L791.8,484.1L792.3,484.3L792.8,484.1L793.3,484.5L793.7,484.3L793.8,484.6L794.3,484.7L794.8,484.5L795.3,484.3L795.8,484.8L795.9,485.1L796.3,485.3L796.8,485.4L797.3,484.1L797.8,483.4L798.3,483.2L798.4,485.2L798.8,484.3L799.3,480.3L799.7,481.2L799.8,483.1L800.3,480.7L800.8,478.2L801.2,479.7L801.3,479.8L801.8,475.4L802.3,476.4L802.7,473.3L802.8,473.6L803.3,470.5L803.8,468.2L804.1,467.9L804.3,468.6L804.8,469.2L805.3,471.6L805.4,470.2L805.8,470.2L806.3,471.9L806.8,471.5L806.9,471.5L807.3,471.3L807.8,470.6L808.3,470.4L808.8,469.8L808.8,470.1L809.3,470.8L809.8,470.3L810.3,470.5L810.7,469.4L810.8,469.9L811.3,468.4L811.8,468.2L812.2,467.7L812.3,466.9L812.8,467.0L813.3,467.0L813.5,467.0L813.8,467.3L814.3,467.4L814.8,469.5L815.3,470.3L815.4,469.8L815.8,470.9L816.3,470.4L816.8,470.3L817.3,472.3L817.3,472.6L817.8,473.1L818.3,473.3L818.8,473.8L819.3,473.8L819.7,473.7L819.8,474.2L820.3,473.6L820.8,473.9L821.3,473.8L821.8,473.8L822.0,474.3L822.3,474.4L822.8,474.2L823.3,475.1L823.8,475.4L824.3,474.6L824.8,474.7L824.8,475.2L825.3,475.5L825.8,475.7L826.3,475.0L826.8,475.0L827.3,475.6L827.7,475.6L827.8,475.1L828.3,474.9L828.8,475.0L829.3,474.8L829.8,474.7L830.3,474.8L830.8,474.3L831.1,474.5L831.3,474.1L831.8,474.7L832.3,474.0L832.8,474.2L833.3,474.0L833.8,473.8L834.3,473.8L834.3,473.9L834.8,473.8L835.3,474.4L835.8,474.8L836.3,474.4L836.8,474.6L837.3,475.5L837.8,474.9L838.3,475.8L838.6,475.6L838.8,475.3L839.3,476.2L839.8,475.7L840.3,475.8L840.8,476.2L841.3,476.4L841.8,476.8L842.3,476.9L842.8,477.4L842.8,477.1L843.3,476.8L843.8,477.0L844.3,477.6L844.8,477.1L845.3,478.0L845.8,477.9L846.3,477.4L846.8,477.5L847.3,477.6L847.5,477.9L847.8,477.7L848.3,477.5L848.8,477.8L849.3,477.9L849.8,478.1L850.3,478.3L850.8,478.8L851.3,478.6L851.8,478.7L852.2,478.6L852.3,478.5L852.8,478.8L853.3,478.9L853.8,479.7L854.3,480.0L854.8,480.3L855.3,480.3L855.8,480.0L856.3,480.2L856.8,481.2L857.3,481.5L857.8,481.4L857.9,481.5L858.3,482.1L858.8,482.1L859.3,482.0L859.8,482.3L860.3,482.4L860.8,482.7L861.3,483.0L861.8,482.8L862.3,483.1L862.8,483.4L863.3,484.0L863.6,484.1L863.8,484.3L864.3,483.7L864.8,483.9L865.3,484.0L865.8,483.4L866.3,483.3L866.4,483.7L866.8,483.5L867.3,483.9L867.8,483.4L868.3,484.1L868.8,483.5L869.2,483.7L869.3,483.8L869.8,484.3L870.3,484.6L870.8,484.7L871.3,484.7L871.8,484.3L872.3,484.6L872.8,485.2L873.3,485.8L873.8,485.8L874.0,485.6L874.3,485.6L874.8,486.3L875.3,486.1L875.8,486.6L876.3,486.7L876.8,486.8L877.3,486.8L877.8,487.0L878.3,486.8L878.7,487.1L878.8,487.6L879.3,486.7L879.8,487.0L880.3,487.4L880.8,487.8L881.3,487.1L881.8,487.2L882.3,487.8L882.8,487.4L883.3,487.5L883.8,487.5L884.3,487.2L884.3,487.7L884.8,487.9L885.3,487.2L885.8,487.3L886.3,487.4L886.8,487.6L887.3,488.2L887.8,487.5L888.3,487.6L888.8,487.7L889.3,487.9L889.8,488.3L890.0,487.9L890.3,488.2L890.8,487.7L891.3,487.4L891.8,487.6L892.3,487.2L892.8,486.9L893.3,486.7L893.8,486.4L894.3,486.3L894.7,486.2L894.8,485.9L895.3,486.3L895.8,485.6L896.3,485.6L896.8,485.4L897.3,485.5L897.8,485.1L898.3,485.3L898.8,485.5L899.3,485.5L899.5,485.2L899.8,484.9L900.3,485.6L900.8,485.2L901.3,485.4L901.8,485.8L902.3,486.1L902.8,486.1L903.3,486.5L903.8,485.6L904.2,486.2L904.3,486.2L904.8,485.8L905.3,485.9L905.8,486.3L906.3,486.6L906.8,486.2L907.3,486.3L907.8,486.6L908.3,487.1L908.8,487.0L908.9,486.9L909.3,487.1L909.8,487.5L910.3,487.2L910.8,487.2L911.3,487.2L911.8,487.0L912.3,487.0L912.8,487.7L913.3,488.0L913.6,487.7L913.8,487.4L914.3,487.6L914.8,487.7L915.3,488.3L915.8,487.8L916.3,487.9L916.8,488.2L917.3,488.7L917.8,488.2L918.3,488.6L918.3,488.5L918.8,488.5L919.3,489.2L919.8,488.6L920.3,488.9L920.8,489.3L921.3,489.4L921.8,489.6L922.1,489.6L922.3,489.8L922.8,489.5L923.3,489.7L923.8,489.8L924.3,490.0L924.8,490.2L925.3,490.6L925.8,490.2L925.9,490.3L926.3,490.7L926.8,490.8L927.3,490.0L927.8,490.5L928.3,490.0L928.8,490.4L929.3,489.7L929.7,490.2L929.8,490.2L930.3,490.3L930.8,490.5L931.3,490.3L931.8,490.0L932.3,489.9L932.8,489.4L933.3,489.8L933.5,489.8L933.8,489.8L934.3,488.9L934.8,489.1L935.3,488.2L935.8,488.7L936.3,488.5L936.8,487.7L936.9,487.7L937.3,487.7L937.8,487.0L938.3,486.5L938.8,486.9L939.3,486.3L939.8,485.8L940.1,486.0L940.3,486.4L940.8,486.7L941.3,486.4L941.8,487.0L942.3,486.3L942.8,486.8L943.3,486.4L943.3,486.9L943.8,487.4L944.3,486.7L944.8,487.3L945.3,487.3L945.8,487.8L946.3,487.9L946.7,487.5L946.8,487.3L947.3,488.2L947.8,487.8L948.3,487.8L948.8,488.8L949.3,488.7L949.8,488.6L950.3,489.0L950.5,489.0L950.8,489.1L951.3,489.4L951.8,489.2L952.3,489.8L952.8,490.3L953.3,490.1L953.8,490.5L954.2,490.3L954.3,490.0L954.8,490.0L955.3,491.0L955.8,490.3L956.3,490.6L956.8,491.0L957.3,491.2L957.8,491.2L958.0,491.1L958.3,491.5L958.8,491.2L959.3,491.6L959.8,490.9L960.3,491.7L960.8,491.1L961.3,491.5L961.8,491.6L961.8,491.7L962.3,491.6L962.8,492.1L963.3,491.3L963.8,491.5L964.3,492.3L964.8,491.8L965.3,491.7L965.6,491.9L965.8,492.1L966.3,491.6L966.8,492.0L967.3,491.7L967.8,492.3L968.3,492.1L968.8,492.4L969.3,491.7L969.8,492.6L970.3,492.0L970.3,492.2L970.8,492.2L971.3,492.6L971.8,491.8L972.3,491.8L972.8,492.2L973.3,492.6L973.8,492.2L974.3,492.2L974.8,491.9L975.0,492.2L975.3,492.1L975.8,492.6L976.3,492.4L976.8,492.1L977.3,491.8L977.8,491.7L978.3,492.5L978.8,492.2L979.3,491.8L979.8,492.3L980.3,491.7L980.8,491.9L981.3,492.3L981.8,491.5L982.3,491.5L982.8,491.4L983.3,491.5L983.8,491.7L984.3,491.7L984.8,491.6L985.0,491.8L985.3,491.8L985.8,491.7L986.3,492.0L986.8,491.5L987.3,491.8L987.8,491.5L988.3,491.9L988.8,491.3L989.3,491.6L989.8,491.6L990.3,491.5L990.8,491.6L991.3,491.6L991.8,491.3L992.3,491.8L992.8,491.9L993.3,491.5L993.8,491.6L994.3,491.7L994.8,491.2L995.3,491.5L995.8,491.3L996.3,491.3L996.8,491.2L997.3,491.3L997.8,491.0L998.3,491.0L998.8,490.9L999.3,491.3L999.8,491.0L1000.0,491.2L1000.3,491.6L1000.8,491.4L1001.3,490.9L1001.8,491.5L1002.3,490.9L1002.8,490.9L1003.3,491.1L1003.8,491.1L1004.3,490.8L1004.8,491.2L1005.3,491.2L1005.8,490.6L1006.3,490.5L1006.8,490.6L1007.3,490.9L1007.8,490.8L1008.3,490.3L1008.8,490.5L1009.3,491.0L1009.8,491.0L1010.0,490.5L1010.3,490.7L1010.8,490.6L1011.3,489.8L1011.8,489.5L1012.3,489.9L1012.8,489.6L1013.3,489.7L1013.8,489.2L1014.3,489.1L1014.8,489.6L1015.0,488.9L1015.3,488.5L1015.8,487.4L1016.3,487.8L1016.8,488.1L1017.3,488.8L1017.8,487.4L1018.0,485.5L1018.3,485.3L1018.8,485.0L1019.3,484.8L1019.8,484.3L1020.0,483.7L1020.3,484.7L1020.8,480.2L1021.3,479.1L1021.8,482.2L1022.0,479.0L1022.3,481.4L1022.8,476.4L1023.3,477.9L1023.6,476.5L1023.8,475.1L1024.3,475.7L1024.8,477.0L1025.3,476.1L1025.8,474.5L1026.0,474.7L1026.3,474.3L1026.8,473.8L1027.3,473.6L1027.8,473.5L1027.8,473.5L1028.3,474.2L1028.8,473.6L1029.3,474.3L1029.8,474.6L1030.0,474.6L1030.3,474.5L1030.8,474.4L1031.3,475.2L1031.8,474.8L1032.0,475.0L1032.3,474.7L1032.8,474.4L1033.3,474.5L1033.8,473.9L1034.3,472.5L1034.8,473.6L1035.0,472.3L1035.3,472.7L1035.8,471.2L1036.3,472.1L1036.8,471.0L1037.3,471.3L1037.8,471.0L1037.8,470.7L1038.3,470.8L1038.8,471.6L1039.3,471.2L1039.8,473.7L1040.0,473.7L1040.3,472.5L1040.8,471.9L1041.3,470.8L1041.8,466.9L1041.9,468.2L1042.3,466.9L1042.8,467.9L1043.3,465.2L1043.8,464.4L1043.8,464.9L1044.3,462.6L1044.8,461.4L1045.3,461.8L1045.8,460.5L1046.0,462.3L1046.3,461.8L1046.8,461.8L1047.3,461.2L1047.8,459.4L1048.3,461.3L1048.5,460.3L1048.8,458.2L1049.3,461.3L1049.8,464.3L1050.3,463.6L1050.8,466.9L1051.0,465.8L1051.3,467.0L1051.8,469.3L1052.3,469.7L1052.8,469.8L1053.2,469.8L1053.3,470.0L1053.8,470.0L1054.3,469.0L1054.8,468.6L1055.1,467.6L1055.3,469.3L1055.8,465.8L1056.3,467.1L1056.8,465.5L1057.0,465.1L1057.3,462.6L1057.8,462.1L1058.3,461.8L1058.5,462.3L1058.8,459.5L1059.3,458.8L1059.8,461.5L1059.8,460.6L1060.3,461.1L1060.8,463.0L1061.3,465.5L1061.7,465.9L1061.8,466.9L1062.3,469.3L1062.8,472.4L1063.3,472.7L1063.6,473.2L1063.8,472.9L1064.3,476.2L1064.8,475.0L1065.3,475.5L1065.5,476.3L1065.8,476.0L1066.3,475.4L1066.8,477.4L1067.3,478.3L1067.4,477.8L1067.8,477.1L1068.3,476.7L1068.8,477.4L1069.3,475.6L1069.8,476.4L1069.8,475.7L1070.3,475.6L1070.8,476.3L1071.3,474.0L1071.8,473.8L1072.1,474.1L1072.3,474.1L1072.8,473.6L1073.3,472.5L1073.8,470.9L1074.3,472.2L1074.4,471.6L1074.8,472.0L1075.3,470.6L1075.8,469.2L1076.3,472.4L1076.8,468.5L1076.8,470.0L1077.3,466.8L1077.8,464.3L1078.3,460.2L1078.7,458.5L1078.8,459.7L1079.3,455.7L1079.8,453.6L1080.3,448.8L1080.6,448.6L1080.8,448.8L1081.3,447.5L1081.8,445.2L1081.9,443.7L1082.3,443.7L1082.8,441.7L1083.3,439.5L1083.4,439.3L1083.8,438.0L1084.3,436.6L1084.8,437.1L1085.3,440.1L1085.3,438.7L1085.8,439.1L1086.3,437.0L1086.8,438.9L1087.2,437.6L1087.3,437.3L1087.8,435.1L1088.3,433.2L1088.8,436.6L1089.3,435.6L1089.8,433.9L1090.1,431.5L1090.3,432.3L1090.8,432.2L1091.3,429.3L1091.8,426.2L1092.3,429.5L1092.8,426.3L1092.9,426.3L1093.3,428.0L1093.8,427.3L1094.3,431.2L1094.8,431.0L1094.8,433.1L1095.3,437.7L1095.8,438.4L1096.3,439.8L1096.7,440.5L1096.8,442.4L1097.3,444.2L1097.8,446.5L1098.2,447.9L1098.3,450.2L1098.8,450.3L1099.3,453.7L1099.5,454.3L1099.8,454.8L1100.3,455.5L1100.8,453.3L1101.3,453.3L1101.8,454.6L1102.3,455.1L1102.7,455.7L1102.8,455.6L1103.3,456.2L1103.8,455.8L1104.3,456.0L1104.8,456.9L1105.3,456.3L1105.8,456.7L1106.1,457.1L1106.3,457.0L1106.8,455.6L1107.3,454.4L1107.8,455.1L1108.0,454.4L1108.3,455.4L1108.8,452.9L1109.3,455.2L1109.8,450.1L1109.9,452.5L1110.3,452.6L1110.8,455.3L1111.3,456.9L1111.8,460.5L1111.8,458.5L1112.3,462.0L1112.8,460.1L1113.3,464.9L1113.7,466.0L1113.8,465.1L1114.3,466.8L1114.8,464.1L1115.3,464.0L1115.8,464.7L1115.9,463.9L1116.3,464.6L1116.8,461.7L1117.3,464.9L1117.8,461.6L1118.3,463.7L1118.4,461.5L1118.8,458.6L1119.3,456.5L1119.7,456.0L1119.8,457.8L1120.3,452.8L1120.8,447.9L1120.9,449.8L1121.3,453.1L1121.8,454.4L1122.3,452.4L1122.4,454.9L1122.8,457.9L1123.3,459.2L1123.8,462.4L1124.1,461.4L1124.3,461.6L1124.8,459.2L1125.3,455.9L1125.4,455.5L1125.8,456.2L1126.3,453.1L1126.8,453.6L1126.9,450.9L1127.3,453.6L1127.8,453.0L1128.3,454.2L1128.8,454.4L1129.3,454.0L1129.7,454.8L1129.8,453.1L1130.3,454.3L1130.8,456.3L1131.3,455.4L1131.8,456.6L1132.3,458.1L1132.6,458.1L1132.8,459.3L1133.3,458.3L1133.8,458.9L1134.3,459.0L1134.8,460.0L1135.3,460.0L1135.4,460.0L1135.8,459.5L1136.3,459.9L1136.8,460.5L1137.3,461.3L1137.8,461.7L1138.2,461.8L1138.3,461.5L1138.8,462.1L1139.3,462.0L1139.8,462.7L1140.3,462.2L1140.8,463.1L1141.3,462.7L1141.8,463.4L1142.0,463.3L1142.3,463.8L1142.8,464.0L1143.3,463.3L1143.8,464.1L1144.3,464.5L1144.8,464.5L1145.3,464.4L1145.8,464.9L1145.8,464.6L1146.3,465.2L1146.8,465.1L1147.3,466.1L1147.8,465.1L1148.1,466.0L1148.3,465.4L1148.8,467.0L1149.3,467.9L1149.8,467.0L1150.3,468.4L1150.5,467.2L1150.8,466.2L1151.3,469.6L1151.8,469.0L1151.8,469.0L1152.3,470.5L1152.8,471.9L1153.3,469.8L1153.3,471.3L1153.8,471.0L1154.3,470.7L1154.8,471.2L1155.3,471.5L1155.8,472.3L1156.3,472.5L1156.8,473.1L1157.3,473.4L1157.8,473.9L1158.1,473.7L1158.3,473.5L1158.8,474.2L1159.3,474.6L1159.8,474.3L1160.3,474.8L1160.8,475.5L1161.3,475.4L1161.8,475.7L1162.3,475.5L1162.8,476.4L1162.8,476.0L1163.3,476.0L1163.8,476.3L1164.3,476.2L1164.8,477.0L1165.3,477.7L1165.8,477.8L1166.3,477.4L1166.8,477.8L1167.3,477.9L1167.5,478.4L1167.8,478.2L1168.3,478.4L1168.8,479.1L1169.3,479.7L1169.8,479.9L1170.3,479.9L1170.8,479.8L1171.3,480.6L1171.8,480.2L1172.2,480.7L1172.3,480.4L1172.8,481.2L1173.3,481.4L1173.8,481.3L1174.3,481.4L1174.8,482.1L1175.3,482.2L1175.8,482.7L1176.0,482.6L1176.3,482.3L1176.8,482.5L1177.3,482.9L1177.8,483.5L1178.3,483.9L1178.8,484.0L1179.3,483.7L1179.8,484.9L1179.8,484.5L1180.3,484.6L1180.8,484.4L1181.3,484.6L1181.8,484.7L1182.3,485.2L1182.8,485.7L1183.3,485.1L1183.8,485.4L1184.3,485.4L1184.8,485.3L1185.3,485.4L1185.5,486.0L1185.8,486.5L1186.3,485.7L1186.8,485.8L1187.3,486.3L1187.8,486.3L1188.3,486.4L1188.8,487.1L1189.3,486.5L1189.8,486.7L1190.3,487.5L1190.8,487.3L1191.1,487.3L1191.3,487.4L1191.8,486.8L1192.3,487.7L1192.8,486.7L1193.3,486.9L1193.8,487.2L1194.3,487.5L1194.8,487.6L1195.3,486.6L1195.8,486.7L1195.8,487.1L1196.3,486.7L1196.8,487.4L1197.3,486.6L1197.8,487.0L1198.3,486.6L1198.8,486.4L1199.3,486.6L1199.8,486.5L1200.3,486.8L1200.6,486.7L1200.8,486.8L1201.3,486.9L1201.8,486.8L1202.3,486.8L1202.8,487.2L1203.3,487.3L1203.8,487.9L1204.3,487.3L1204.8,487.3L1205.3,487.4L1205.3,487.9L1205.8,487.7L1206.3,488.0L1206.8,488.6L1207.3,488.6L1207.8,488.6L1208.3,489.0L1208.8,489.2L1209.3,488.5L1209.8,489.3L1210.0,489.2L1210.3,489.0L1210.8,488.9L1211.3,488.7L1211.8,488.4L1212.3,488.4L1212.8,488.8L1213.3,489.0L1213.8,488.8L1214.3,487.8L1214.7,488.2L1214.8,487.9L1215.3,488.1L1215.8,488.1L1216.3,487.6L1216.8,487.4L1217.3,487.7L1217.8,487.2L1218.3,487.9L1218.8,487.8L1219.3,486.8L1219.5,487.3L1219.8,487.7L1220.3,487.0L1220.8,487.7L1221.3,487.7L1221.8,487.5L1222.3,488.3L1222.8,488.1L1223.3,488.5L1223.8,488.8L1224.2,488.4L1224.3,488.6L1224.8,488.9L1225.3,488.2L1225.8,488.6L1226.3,488.9L1226.8,489.1L1227.3,489.0L1227.8,489.6L1228.3,489.5L1228.8,489.9L1228.9,489.6L1229.3,490.0L1229.8,489.4L1230.3,490.0L1230.8,489.5L1231.3,489.3L1231.8,489.6L1232.3,489.0L1232.8,489.6L1233.3,489.5L1233.6,489.4L1233.8,488.9L1234.3,489.3L1234.8,489.4L1235.3,488.9L1235.8,489.5L1236.3,489.7L1236.8,489.4L1237.3,489.5L1237.8,489.6L1238.3,489.1L1238.3,489.2L1238.8,489.6L1239.3,489.5L1239.8,489.2L1240.3,489.6L1240.8,489.8L1241.3,490.0L1241.8,489.4L1242.3,489.5L1242.8,490.1L1243.1,489.9L1243.3,490.2L1243.8,490.0L1244.3,490.0L1244.8,490.7L1245.3,490.0L1245.8,490.1L1246.3,490.0L1246.8,490.1L1247.3,490.7L1247.8,490.8L1247.8,490.7L1248.3,490.8L1248.8,490.2L1249.3,490.3L1249.8,490.4L1250.3,490.5L1250.8,490.0L1251.3,490.3L1251.8,489.9L1252.3,490.0L1252.8,490.0L1253.3,489.7L1253.5,489.6L1253.8,489.9L1254.3,488.9L1254.8,488.8L1255.3,488.7L1255.8,488.8L1256.3,488.9L1256.8,488.9L1257.3,488.8L1257.8,488.1L1258.3,488.8L1258.8,488.0L1259.1,488.2L1259.3,488.1L1259.8,488.7L1260.3,488.7L1260.8,488.2L1261.3,488.8L1261.8,488.8L1262.3,489.5L1262.8,488.9L1262.9,489.2L1263.3,488.9L1263.8,488.9L1264.3,489.6L1264.8,489.8L1265.3,489.4L1265.8,490.2L1266.3,489.7L1266.7,490.1L1266.8,490.3L1267.3,490.7L1267.8,490.3L1268.3,490.9L1268.8,490.8L1269.3,491.0L1269.8,490.9L1270.3,491.1L1270.8,491.0L1271.3,491.2L1271.8,491.9L1272.3,491.2L1272.3,491.6L1272.8,492.0L1273.3,491.5L1273.8,491.9L1274.3,492.4L1274.8,492.2L1275.3,492.3L1275.8,492.4L1276.3,492.2L1276.8,493.2L1277.3,493.0L1277.8,492.7L1278.0,493.0L1278.3,493.2L1278.8,493.3L1279.3,493.0L1279.8,492.7L1280.3,492.8L1280.8,493.0L1281.3,493.3L1281.8,493.2L1282.3,492.7L1282.8,492.5L1283.3,493.1L1283.7,493.0L1283.8,493.3L1284.3,492.6L1284.8,493.4L1285.3,493.3L1285.8,492.7L1286.3,492.5L1286.8,493.3L1287.3,492.6L1287.8,492.6L1288.3,492.8L1288.8,492.6L1289.3,492.5L1289.4,493.0L1289.8,493.1L1290.3,493.2L1290.8,492.4L1291.3,492.4L1291.8,492.7L1292.3,493.0L1292.8,492.4L1293.3,492.8L1293.8,492.2L1294.3,493.0L1294.8,492.9L1295.3,492.9L1295.8,492.4L1296.3,492.0L1296.8,492.7L1296.9,492.4L1297.3,492.2L1297.8,492.3L1298.3,492.5L1298.8,492.5L1299.3,492.2L1299.8,492.0L1300.3,491.9L1300.8,491.7L1301.3,492.6L1301.8,492.6L1302.3,491.7L1302.8,492.2L1303.3,492.5L1303.8,492.1L1304.3,492.5L1304.5,492.0L1304.8,492.2L1305.3,492.3L1305.8,491.6L1306.3,491.7L1306.8,492.5L1307.3,491.7L1307.8,492.1L1308.3,492.4L1308.8,492.2L1309.3,492.3L1309.8,491.8L1310.3,492.4L1310.8,491.6L1311.1,492.0L1311.3,492.0L1311.8,492.2L1312.3,491.5L1312.8,491.6L1313.3,491.9L1313.8,491.7L1314.3,492.4L1314.8,492.0L1315.3,492.1L1315.8,491.9L1316.3,492.4L1316.8,492.4L1317.3,492.4L1317.7,492.0L1317.8,492.2L1318.3,492.5L1318.8,492.9L1319.3,492.7L1319.8,492.8L1320.3,492.7L1320.8,492.8L1321.3,493.0L1321.8,493.4L1322.3,494.1L1322.4,493.9L1322.8,494.1L1323.3,494.0L1323.8,494.9L1324.3,495.1L1324.8,494.6L1325.3,494.9L1325.8,494.8L1326.3,495.3L1326.8,495.4L1327.1,495.8L1327.3,495.7L1327.8,496.2L1328.3,495.8L1328.8,496.7L1329.3,496.8L1329.8,496.6L1330.3,497.3L1330.8,497.6L1331.3,497.8L1331.8,497.8L1331.9,497.7L1332.3,497.9L1332.8,498.3L1333.3,498.1L1333.8,498.8L1334.3,498.9L1334.8,499.0L1335.3,499.3L1335.8,498.8L1336.3,499.8L1336.6,499.6L1336.8,499.8L1337.3,499.8L1337.8,499.6L1338.3,500.0L1338.8,500.2L1339.3,500.4L1339.4,499.9L1339.8,500.4L1340.3,500.3L1340.8,500.1L1341.3,500.3L1341.8,499.9L1342.2,500.1L1342.3,499.7L1342.8,500.4L1343.3,500.2L1343.8,499.8L1344.3,499.8L1344.8,499.8L1345.3,499.1L1345.8,499.4L1346.3,499.4L1346.8,499.1L1347.0,499.0L1347.3,498.7L1347.8,499.0L1348.3,499.0L1348.8,498.5L1349.3,499.0L1349.8,498.3L1350.3,498.0L1350.8,497.9L1351.3,498.0L1351.7,498.1L1351.8,498.5L1352.3,498.7L1352.8,498.7L1353.3,498.7L1353.8,499.0L1354.3,499.2L1354.8,499.8L1355.3,499.4L1355.8,499.6L1355.8,499.8L1356.3,500.1L1356.8,500.2L1357.3,499.7L1357.8,500.3L1358.3,500.0L1358.8,500.1L1359.3,500.2L1359.8,500.1L1360.3,500.3L1360.8,500.9L1361.3,501.1L1361.8,500.6L1362.2,501.0L1362.3,501.0L1362.8,501.3L1363.3,500.5L1363.8,500.5L1364.3,501.2L1364.8,500.5L1365.0,500.9L1365.3,501.0L1365.8,500.3L1366.3,500.6L1366.8,500.9L1367.3,500.2L1367.8,500.8L1367.8,500.5L1368.3,501.1L1368.8,501.0L1369.3,501.4L1369.8,501.0L1370.3,501.6L1370.8,502.1L1371.3,502.3L1371.8,501.8L1372.1,502.3L1372.3,502.3L1372.8,502.6L1373.3,503.1L1373.8,503.1L1374.3,503.0L1374.8,503.7L1375.3,504.0L1375.8,504.1L1376.3,503.5L1376.3,504.0L1376.8,504.2L1377.3,503.9L1377.8,504.1L1378.3,505.0L1378.8,504.4L1379.3,504.8L1379.8,505.0L1380.3,505.7L1380.6,505.4L1380.8,505.8L1381.3,505.6L1381.8,505.4L1382.3,506.4L1382.8,505.9L1383.3,506.5L1383.8,506.8L1384.3,506.7L1384.8,507.2L1384.8,506.8L1385.3,506.8L1385.8,507.2L1386.3,506.6L1386.8,507.1L1387.3,507.4L1387.7,507.3L1387.8,507.1L1388.3,507.6L1388.8,507.1L1389.3,507.8L1389.8,507.1L1390.3,507.2L1390.5,507.5L1390.8,507.4L1391.3,508.3L1391.8,508.2L1392.3,508.2L1392.6,508.8L1392.8,508.8L1393.3,509.3L1393.8,509.0L1394.3,509.3L1394.8,510.0L1394.8,510.0L1395.3,509.5L1395.8,509.4L1396.3,509.9L1396.8,509.2L1397.3,509.2L1397.6,509.2L1397.8,509.7L1398.3,509.3L1398.8,508.6L1399.3,509.1L1399.8,508.3L1400.3,508.9L1400.4,508.5L1400.8,508.3L1401.3,508.5L1401.8,508.3L1402.3,508.9L1402.8,509.0L1403.3,508.9L1403.8,509.1L1404.0,508.8L1404.3,508.6L1404.8,509.2L1405.3,508.7L1405.8,509.1L1406.3,509.0L1406.8,508.6L1407.3,508.7L1407.5,509.0L1407.8,509.4L1408.3,509.1L1408.8,508.5L1409.3,508.5L1409.8,509.4L1410.3,509.3L1410.8,509.2L1411.3,508.7L1411.8,509.0L1411.8,508.5L1412.3,509.4L1412.8,509.7L1413.2,509.7L1413.3,510.0L1413.8,509.7L1414.3,510.8L1414.6,510.4L1414.8,509.9L1415.3,509.2L1415.7,509.0L1415.8,508.6L1416.3,508.3L1416.7,507.6L1416.8,508.5L1417.3,507.9L1417.8,506.9L1418.3,506.9L1418.8,506.5L1419.1,506.8L1419.3,507.1L1419.8,506.4L1420.3,506.5L1420.8,506.2L1421.3,506.0L1421.7,506.1L1421.8,506.2L1422.3,506.6L1422.8,505.8L1423.3,506.4L1423.8,506.4L1424.3,506.2L1424.8,506.5L1425.3,506.1L1425.8,506.2L1425.9,506.1L1426.3,505.9L1426.8,506.6L1427.3,507.1L1427.8,507.0L1428.1,507.1L1428.3,507.2L1428.8,507.3L1429.3,507.9L1429.8,508.2L1430.2,508.0L1430.3,508.1L1430.8,507.6L1431.3,507.7L1431.8,507.9L1432.3,507.3L1432.8,507.5L1433.0,507.7L1433.3,507.4L1433.8,507.8L1434.3,507.4L1434.8,507.2L1435.3,507.4L1435.8,507.4L1435.8,507.5L1436.3,507.5L1436.8,508.4L1437.3,508.3L1437.8,508.4L1438.3,508.4L1438.4,508.7L1438.8,509.1L1439.3,508.9L1439.8,508.9L1440.3,509.3L1440.8,509.8L1440.8,509.7L1441.3,509.9L1441.8,509.4L1442.3,509.0L1442.6,509.2L1442.8,508.8L1443.3,509.2L1443.8,509.5L1444.3,508.8L1444.3,509.0L1444.8,508.9L1445.3,509.3L1445.8,509.1L1446.3,509.9L1446.8,510.1L1447.2,510.1L1447.3,509.6L1447.8,510.0L1448.3,510.3L1448.8,510.6L1449.3,511.0L1449.8,511.0L1450.0,511.1L1450.3,510.6L1450.8,511.0L1451.3,510.7L1451.8,511.3L1452.3,511.2L1452.8,511.2L1453.3,510.9L1453.6,510.8L1453.8,511.1L1454.3,510.5L1454.8,510.3L1455.3,510.1L1455.8,510.4L1456.3,510.9L1456.8,510.6L1457.1,510.4L1457.3,510.0L1457.8,509.5L1458.3,510.1L1458.8,509.9L1458.8,508.4L1459.3,508.3L1459.8,507.4L1460.3,506.1L1460.6,506.6L1460.8,505.6L1461.3,506.7L1461.8,505.8L1462.3,505.8L1462.8,505.4L1462.8,505.2L1463.3,506.2L1463.8,506.6L1464.3,506.4L1464.8,506.2L1464.9,506.9L1465.3,507.3L1465.8,507.1L1466.3,508.0L1466.8,507.9L1467.0,508.3L1467.3,507.8L1467.8,508.3L1468.3,508.4L1468.8,508.3L1469.1,508.1L1469.3,507.9L1469.8,507.6L1470.3,507.7L1470.8,507.8L1471.3,508.0L1471.3,507.5L1471.8,507.7L1472.3,507.2L1472.8,507.5L1473.3,506.9L1473.8,507.1L1474.1,507.1L1474.3,506.7L1474.8,507.1L1475.3,506.3L1475.8,506.8L1476.3,506.5L1476.8,506.3L1476.9,506.1L1477.3,506.3L1477.8,505.7L1478.3,505.8L1478.8,505.4L1479.3,505.3L1479.8,505.7L1479.8,505.8L1480.3,506.1L1480.8,506.0L1481.3,505.2L1481.8,506.0L1482.3,505.5L1482.8,505.5L1483.3,505.2L1483.8,505.1L1483.9,505.5L1484.3,505.6L1484.8,505.9L1485.3,505.7L1485.8,505.2L1486.3,505.6L1486.8,505.8L1487.3,505.3L1487.8,505.3L1488.3,505.3L1488.8,506.0L1489.3,505.2L1489.6,505.5L1489.8,505.3L1490.3,505.6L1490.8,505.3L1491.3,504.9L1491.8,505.4L1492.3,505.0L1492.8,504.4L1493.3,504.5L1493.8,504.3L1494.3,504.4L1494.3,504.6L1494.8,504.6L1495.3,504.5L1495.8,504.2L1496.3,503.9L1496.8,504.2L1497.3,503.8L1497.8,504.1L1498.3,504.1L1498.8,503.9L1499.0,503.6L1499.3,503.4L1499.8,504.0L1500.3,503.6L1500.8,504.1L1501.3,503.9L1501.8,503.6L1502.3,503.6L1502.8,504.2L1503.3,503.9L1503.8,503.5L1504.3,504.0L1504.8,503.6L1505.3,503.5L1505.6,504.0L1505.8,504.3L1506.3,503.7L1506.8,504.4L1507.3,503.6L1507.8,503.9L1508.3,503.6L1508.8,504.3L1509.3,504.2L1509.8,504.4L1510.3,504.5L1510.8,504.6L1511.3,504.1L1511.8,504.0L1512.2,504.2L1512.3,504.2L1512.8,503.8L1513.3,504.0L1513.8,503.9L1514.3,504.3L1514.8,503.5L1515.3,504.1L1515.8,504.0L1516.3,504.1L1516.8,503.7L1517.0,503.6L1517.3,503.2L1517.8,503.9L1518.3,503.0L1518.8,503.5L1519.3,503.0L1519.8,503.0L1520.3,503.4L1520.8,503.0L1521.3,503.3L1521.7,503.1L1521.8,502.7L1522.3,503.0L1522.8,503.2L1523.3,503.5L1523.8,503.6L1524.3,503.1L1524.8,503.7L1525.3,503.4L1525.8,503.1L1526.3,503.4L1526.4,503.4L1526.8,503.7L1527.3,503.1L1527.8,504.0L1528.3,503.6L1528.8,503.0L1529.3,503.3L1529.8,503.9L1530.3,503.1L1530.8,503.4L1531.1,503.6L1531.3,503.2L1531.8,503.4L1532.3,503.0L1532.6,502.6L1532.8,503.3L1533.3,500.9L1533.8,500.7L1534.0,502.0L1534.3,501.7L1534.8,499.6L1535.3,499.8L1535.3,500.9L1535.8,498.1L1536.3,497.1L1536.4,498.0L1536.8,497.7L1537.3,499.0L1537.8,498.6L1538.3,498.8L1538.7,499.9L1538.8,501.0L1539.3,500.5L1539.8,501.7L1540.3,502.1L1540.6,501.7L1540.8,501.8L1541.3,501.7L1541.8,501.4L1542.3,501.9L1542.8,501.6L1543.3,502.0L1543.8,501.9L1544.3,502.1L1544.8,502.1L1545.3,502.2L1545.3,502.1L1545.8,502.2L1546.3,501.8L1546.8,502.6L1547.3,502.4L1547.8,502.1L1548.3,502.2L1548.8,502.3L1549.3,502.2L1549.8,502.5L1550.0,502.3L1550.3,501.9L1550.8,502.8L1551.3,502.9L1551.8,502.8L1552.3,502.4L1552.8,502.6L1553.3,502.4L1553.8,502.4L1553.8,502.5L1554.3,502.2L1554.8,502.5L1555.3,502.3L1555.8,502.3L1556.3,502.7L1556.8,502.4L1557.3,503.0L1557.6,502.7L1557.8,502.5L1558.3,502.8L1558.8,502.8L1559.3,503.6L1559.8,503.4L1560.3,503.1L1560.4,503.6L1560.8,503.9L1561.3,503.7L1561.8,503.9L1562.3,503.8L1562.8,503.2L1563.2,504.8L1563.3,503.9L1563.8,502.5L1564.3,500.9L1564.7,501.7L1564.8,502.7L1565.3,502.7L1565.8,501.6L1566.1,498.3L1566.3,498.8L1566.8,498.6L1567.3,498.7L1567.4,498.5L1567.8,499.6L1568.3,498.4L1568.8,497.8L1568.9,498.2L1569.3,497.5L1569.8,495.4L1570.3,496.6L1570.4,496.3L1570.8,495.9L1571.3,494.1L1571.7,494.3L1571.8,493.4L1572.3,494.9L1572.8,494.3L1573.3,495.3L1573.6,495.1L1573.8,494.6L1574.3,494.8L1574.8,495.7L1575.3,496.7L1575.5,496.1L1575.8,494.7L1576.3,499.3L1576.8,499.7L1576.8,498.4L1577.3,497.5L1577.8,499.6L1578.3,502.0L1578.3,501.0L1578.8,500.2L1579.3,500.5L1579.8,501.3L1580.3,500.6L1580.6,500.8L1580.8,501.2L1581.3,501.1L1581.8,501.1L1582.3,500.9L1582.8,501.3L1583.1,500.7L1583.3,501.4L1583.8,499.1L1584.3,498.2L1584.4,499.0L1584.8,499.7L1585.3,498.9L1585.8,497.7L1585.9,496.6L1586.3,498.3L1586.8,498.3L1586.8,499.9L1587.3,500.8L1587.8,501.1L1587.8,502.7L1588.3,503.8L1588.8,503.2L1589.3,501.9L1589.8,502.9L1590.3,502.8L1590.6,502.3L1590.8,502.7L1591.3,501.9L1591.8,502.0L1592.3,502.3L1592.8,501.5L1593.3,501.7L1593.5,501.7L1593.8,501.7L1594.3,502.3L1594.8,503.5L1595.3,503.6L1595.8,502.7L1596.3,505.0L1596.3,504.3L1596.8,504.1L1597.3,504.3L1597.8,505.8L1598.3,506.3L1598.8,505.9L1599.1,506.5L1599.3,506.3L1599.8,506.9L1600.3,506.0L1600.8,506.0L1601.3,506.1L1601.4,506.5L1601.8,506.9L1602.3,506.0L1602.8,506.8L1603.3,506.5L1603.8,507.0L1603.8,506.5L1604.3,506.1L1604.8,504.6L1604.8,505.0L1605.3,503.6L1605.7,503.7L1605.8,503.5L1606.3,503.8L1606.8,505.4L1607.3,505.2L1607.6,505.5L1607.8,505.2L1608.3,506.0L1608.8,506.2L1609.3,507.2L1609.5,507.4L1609.8,507.1L1610.3,506.8L1610.8,506.9L1611.3,507.5L1611.8,507.4L1612.3,507.6L1612.8,506.8L1613.3,507.5L1613.8,507.4L1613.9,507.0L1614.3,507.4L1614.8,507.4L1615.3,507.2L1615.8,506.8L1616.3,507.1L1616.8,506.3L1617.3,506.2L1617.8,506.1L1618.0,506.5L1618.3,507.0L1618.8,506.3L1619.3,506.4L1619.8,507.3L1620.3,507.4L1620.8,506.8L1621.3,506.8L1621.8,507.2L1621.8,507.4L1622.3,507.0L1622.8,507.3L1623.3,508.1L1623.8,507.5L1624.3,508.0L1624.8,508.4L1625.3,508.5L1625.6,508.3L1625.8,508.0L1626.3,508.5L1626.8,508.6L1627.3,508.9L1627.8,508.9L1628.3,509.2L1628.4,509.3L1628.8,508.9L1629.3,509.3L1629.8,510.0L1630.3,509.8L1630.8,510.2L1631.2,510.0L1631.3,510.5L1631.8,509.4L1632.3,510.1L1632.8,509.5L1633.3,509.9L1633.8,509.8L1634.3,509.7L1634.8,509.8L1635.3,509.0L1635.8,509.5L1636.3,509.2L1636.8,508.6L1637.3,508.6L1637.8,508.3L1637.9,508.7L1638.3,508.5L1638.8,508.4L1639.3,508.1L1639.8,508.6L1640.3,508.3L1640.8,507.8L1641.3,508.3L1641.8,508.0L1642.3,508.1L1642.8,507.9L1643.3,507.6L1643.8,507.4L1644.3,507.8L1644.5,507.4L1644.8,506.9L1645.3,507.6L1645.8,507.3L1646.3,507.5L1646.8,507.1L1647.3,507.3L1647.3,506.8L1647.8,506.3L1648.3,506.9L1648.8,506.4L1649.3,506.5L1649.8,506.4L1650.1,506.5L1650.3,506.5L1650.8,506.7L1651.3,506.3L1651.8,507.3L1652.3,506.8L1652.8,507.4L1653.3,507.1L1653.8,507.0L1653.9,507.4L1654.3,507.2L1654.8,507.4L1655.3,507.9L1655.8,508.0L1656.3,507.7L1656.8,508.3L1657.3,508.4L1657.7,508.3L1657.8,508.4L1658.3,507.9L1658.8,508.5L1659.3,508.1L1659.8,508.4L1660.3,508.8L1660.8,508.6L1661.3,508.4L1661.8,508.4L1662.3,508.1L1662.8,508.3L1663.3,507.9L1663.4,508.3L1663.8,508.8L1664.3,508.4L1664.8,508.6L1665.3,508.7L1665.8,508.4L1666.3,508.0L1666.8,508.8L1667.3,508.4L1667.8,508.3L1668.3,507.9L1668.8,508.6L1669.0,508.3L1669.3,508.2L1669.8,507.7L1670.3,507.9L1670.8,507.2L1671.3,507.1L1671.8,506.7L1672.3,506.7L1672.8,506.6L1672.8,506.5L1673.3,505.9L1673.8,505.7L1674.3,505.4L1674.8,505.5L1675.3,505.7L1675.8,505.1L1676.3,505.1L1676.6,504.6L1676.8,504.0L1677.3,504.4L1677.8,504.0L1678.3,504.0L1678.8,504.2L1679.3,503.5L1679.8,504.1L1680.3,503.6L1680.4,503.6L1680.8,503.1L1681.3,503.0L1681.8,503.4L1682.3,502.7L1682.8,503.2L1683.3,502.7L1683.8,502.6L1684.1,502.7L1684.3,503.0L1684.8,501.8L1685.3,501.5L1685.8,500.9L1686.3,499.9L1686.8,501.7L1687.3,500.5L1687.5,500.0L1687.8,499.4L1688.3,498.4L1688.8,499.1L1689.3,497.8L1689.8,498.5L1690.3,497.9L1690.7,497.0" stroke="#1f77b4"/>
<path d="M92.3,545.7L92.7,545.4L93.2,544.2L93.6,544.0L94.1,544.4L94.5,544.0L95.0,543.7L95.1,543.4L95.4,543.4L95.9,543.2L96.3,543.1L96.8,542.5L97.2,542.6L97.7,542.4L98.1,542.6L98.6,542.7L98.9,542.1L99.0,542.0L99.5,541.5L99.9,540.9L100.4,540.3L100.8,539.9L101.3,539.9L101.7,539.3L102.2,539.0L102.6,539.1L102.7,538.7L103.1,538.4L103.5,537.6L104.0,537.0L104.4,536.9L104.9,536.3L105.3,536.3L105.8,536.4L106.2,535.6L106.4,535.3L106.7,535.6L107.1,535.3L107.6,535.1L108.0,535.1L108.5,534.7L108.9,534.6L109.4,534.0L109.8,534.4L110.3,534.2L110.7,533.2L111.2,533.4L111.2,533.6L111.6,533.1L112.1,533.0L112.5,532.7L113.0,532.9L113.4,532.3L113.9,532.4L114.3,531.7L114.8,532.0L115.2,532.0L115.7,531.2L115.9,531.1L116.1,531.0L116.6,529.4L117.0,527.7L117.5,526.0L117.8,525.5L117.9,525.7L118.4,524.7L118.8,525.3L119.3,524.4L119.7,524.8L120.2,524.0L120.6,523.9L120.6,524.1L121.1,523.8L121.5,523.7L122.0,523.7L122.4,523.5L122.9,523.2L123.3,522.9L123.4,523.2L123.8,523.1L124.2,522.0L124.7,520.7L125.1,520.8L125.6,520.0L126.0,519.5L126.5,517.8L126.9,517.7L127.2,517.0L127.4,517.0L127.8,516.3L128.3,516.0L128.7,516.3L129.2,515.3L129.6,515.4L130.1,515.1L130.1,514.8L130.5,514.4L131.0,514.7L131.4,513.9L131.9,513.8L132.3,512.8L132.8,512.8L132.9,512.8L133.2,513.1L133.7,512.6L134.1,513.6L134.6,512.8L135.0,513.6L135.5,513.0L135.7,513.6L135.9,513.8L136.4,513.1L136.8,513.1L137.3,513.5L137.7,513.2L138.2,512.8L138.6,513.2L138.6,512.9L139.1,513.0L139.5,513.5L140.0,514.0L140.4,514.4L140.9,513.9L141.3,514.4L141.8,514.3L142.2,515.0L142.3,515.1L142.7,514.6L143.1,514.0L143.6,512.9L144.0,512.3L144.5,511.1L144.6,510.3L144.9,508.8L145.4,508.7L145.8,506.9L146.3,505.4L146.7,504.9L147.1,504.1L147.2,503.9L147.6,505.1L148.1,505.6L148.5,506.4L149.0,506.7L149.4,508.3L149.9,508.1L149.9,508.5L150.3,508.9L150.8,509.0L151.2,510.2L151.7,510.3L152.1,510.8L152.6,511.3L153.0,512.0L153.5,512.5L153.7,513.2L153.9,512.8L154.4,512.5L154.8,511.9L155.3,511.5L155.7,509.1L156.2,508.8L156.5,508.5L156.6,508.3L157.1,507.0L157.5,506.2L158.0,504.5L158.4,500.8L158.9,500.1L159.3,499.2L159.3,499.0L159.8,493.1L160.2,493.7L160.7,488.8L161.1,492.1L161.2,489.6L161.6,482.5L162.0,478.7L162.2,480.1L162.5,471.3L162.9,464.9L163.1,460.9L163.4,463.5L163.8,473.6L164.1,476.3L164.3,479.9L164.7,482.2L165.2,482.6L165.4,482.0L165.6,482.4L166.1,483.2L166.5,482.7L166.9,483.9L167.0,483.8L167.4,482.5L167.9,481.4L168.3,481.5L168.8,479.9L169.2,479.3L169.7,479.2L169.7,478.2L170.1,477.0L170.6,477.1L171.0,475.2L171.5,473.9L171.6,474.1L171.9,474.2L172.4,475.2L172.8,476.5L173.3,477.1L173.5,477.3L173.7,477.5L174.2,477.9L174.5,478.2L174.6,477.6L175.1,477.1L175.5,475.8L176.0,475.4L176.0,475.3L176.4,475.5L176.9,474.3L177.3,474.5L177.3,474.2L177.8,476.0L178.2,476.7L178.6,478.2L178.7,480.5L179.1,478.6L179.6,477.3L180.0,478.4L180.1,482.0L180.5,475.1L180.9,460.6L181.1,455.6L181.4,450.3L181.8,434.4L182.0,434.8L182.3,436.7L182.7,435.2L183.2,432.1L183.5,431.4L183.6,431.7L184.1,435.6L184.5,435.8L184.8,438.6L185.0,439.3L185.4,444.6L185.8,444.2L185.9,447.2L186.3,448.2L186.8,446.5L187.2,447.8L187.7,450.8L187.7,449.7L188.1,452.4L188.6,455.0L189.0,457.4L189.5,458.3L189.6,458.4L189.9,456.9L190.4,456.6L190.8,456.5L191.3,454.5L191.5,454.6L191.7,453.7L192.2,453.1L192.6,453.2L193.1,452.7L193.3,451.8L193.5,451.6L194.0,452.4L194.4,452.9L194.9,453.7L194.9,454.0L195.3,453.2L195.8,453.1L196.2,452.7L196.2,452.6L196.7,451.8L197.1,448.0L197.6,441.0L198.0,440.8L198.1,440.4L198.5,436.8L198.9,438.2L199.4,433.4L199.8,432.0L200.0,430.6L200.3,434.6L200.7,436.7L201.2,438.4L201.3,438.6L201.6,439.9L202.1,438.9L202.5,445.6L202.8,446.1L203.0,445.1L203.4,450.4L203.9,453.1L204.3,455.7L204.7,458.4L204.8,459.3L205.2,454.9L205.7,450.8L206.1,448.9L206.2,447.1L206.6,450.3L207.0,453.0L207.5,456.2L207.9,459.7L208.1,459.3L208.4,457.9L208.8,454.3L209.3,452.4L209.7,450.7L210.2,446.7L210.3,445.2L210.6,448.2L211.1,454.0L211.3,455.6L211.5,454.6L212.0,453.4L212.4,444.9L212.8,446.1L212.9,447.6L213.3,444.7L213.8,445.4L214.1,440.4L214.2,434.2L214.5,431.0L214.7,432.9L215.1,426.4L215.6,430.0L216.0,427.2L216.4,425.3L216.5,427.1L216.9,417.6L217.4,416.1L217.8,410.5L217.9,410.2L218.3,415.8L218.7,421.5L219.2,426.1L219.4,431.0L219.6,425.2L220.1,417.9L220.5,416.5L220.7,414.0L221.0,419.0L221.4,426.5L221.9,431.1L222.3,439.4L222.6,442.3L222.8,439.4L223.2,438.9L223.7,433.0L223.9,434.8L224.1,437.3L224.6,438.3L225.0,442.8L225.5,445.2L225.5,444.7L225.9,442.8L226.4,440.3L226.8,436.7L226.8,436.0L227.3,439.3L227.7,443.6L228.2,447.8L228.3,448.9L228.6,441.3L229.1,440.9L229.5,439.5L229.6,434.8L230.0,429.6L230.4,421.5L230.6,420.6L230.9,424.5L231.3,421.9L231.8,425.5L232.2,425.8L232.6,427.2L232.7,431.3L233.1,428.5L233.6,439.3L233.8,438.6L234.0,442.5L234.5,448.4L234.9,450.8L234.9,449.9L235.4,448.8L235.8,441.1L236.3,439.7L236.7,434.8L236.8,434.8L237.2,440.2L237.6,444.5L237.7,444.2L238.1,445.4L238.5,447.7L238.7,449.9L239.0,448.9L239.4,449.9L239.9,453.0L240.3,451.4L240.8,453.1L241.2,453.1L241.5,453.7L241.7,452.7L242.1,450.6L242.6,449.6L243.0,447.2L243.5,446.1L243.8,445.2L243.9,447.5L244.4,450.1L244.8,450.9L245.3,454.2L245.3,453.7L245.7,455.6L246.2,457.4L246.2,459.3L246.6,458.5L247.1,460.2L247.5,459.7L248.0,460.0L248.4,460.7L248.9,460.4L249.3,461.3L249.8,461.3L250.0,461.2L250.2,460.7L250.7,457.9L251.1,456.6L251.5,454.2L251.6,454.3L252.0,454.6L252.5,455.0L252.9,454.7L253.4,454.8L253.8,454.6L253.8,455.4L254.3,456.6L254.7,458.4L255.2,458.6L255.3,459.3L255.6,460.5L256.1,461.1L256.5,462.3L256.6,462.7L257.0,462.5L257.4,460.7L257.9,459.8L258.3,459.2L258.8,457.3L259.2,457.2L259.5,456.1L259.7,455.8L260.1,456.5L260.6,456.9L261.0,457.8L261.5,458.1L261.9,458.4L262.3,458.4L262.4,458.5L262.8,458.7L263.3,459.8L263.7,459.9L264.2,460.3L264.6,461.2L265.1,461.2L265.1,461.6L265.5,462.4L266.0,462.0L266.4,462.4L266.9,462.9L267.3,463.3L267.8,463.9L268.2,464.2L268.7,464.6L268.9,465.0L269.1,464.9L269.6,465.5L270.0,465.4L270.5,465.7L270.9,466.3L271.4,465.8L271.8,466.1L272.3,467.0L272.7,466.9L272.7,467.1L273.2,466.3L273.6,466.4L274.1,466.5L274.5,465.7L275.0,465.9L275.4,465.5L275.5,465.4L275.9,465.8L276.3,465.1L276.8,465.0L277.2,465.0L277.7,464.6L278.1,465.0L278.3,464.6L278.6,464.4L279.0,463.8L279.5,463.8L279.9,463.3L280.4,462.7L280.8,461.6L281.2,461.2L281.3,461.0L281.7,459.1L282.2,458.2L282.6,458.6L283.1,456.3L283.5,456.5L284.0,455.1L284.0,454.6L284.4,455.3L284.9,457.8L285.3,461.3L285.5,461.2L285.8,460.9L286.2,463.2L286.7,464.3L286.8,466.0L287.1,466.8L287.6,465.8L288.0,468.2L288.5,468.1L288.9,467.8L289.3,468.8L289.4,468.6L289.8,469.4L290.3,470.1L290.7,470.2L291.2,471.1L291.6,471.6L291.6,471.2L292.1,471.0L292.5,469.9L293.0,468.7L293.4,468.0L293.9,467.4L294.0,466.5L294.3,467.6L294.8,468.4L295.2,469.9L295.7,471.4L296.1,473.1L296.3,474.5L296.6,474.0L297.0,475.1L297.5,476.3L297.9,477.4L298.4,478.0L298.8,478.2L299.1,478.2L299.3,479.3L299.7,478.8L300.2,479.6L300.6,481.9L301.0,482.0L301.1,481.6L301.5,482.8L302.0,483.6L302.4,484.7L302.9,485.6L302.9,485.8L303.3,486.6L303.8,487.0L304.2,487.2L304.7,487.5L305.1,487.8L305.6,488.7L305.7,488.6L306.0,488.5L306.5,489.3L306.9,489.6L307.4,489.9L307.8,489.5L308.3,490.4L308.6,490.5L308.7,490.3L309.2,491.0L309.6,491.3L310.1,491.5L310.5,491.9L311.0,492.2L311.4,492.2L311.9,492.0L312.3,493.0L312.3,492.8L312.8,493.2L313.2,493.1L313.7,492.7L314.1,493.0L314.6,493.1L315.0,493.7L315.5,493.8L315.9,493.5L316.1,493.9L316.4,494.4L316.8,494.4L317.3,494.1L317.7,494.0L318.2,494.0L318.6,494.7L319.1,494.7L319.5,494.4L320.0,495.1L320.4,494.8L320.9,494.9L320.9,494.8L321.3,495.1L321.8,494.9L322.2,495.1L322.7,494.6L323.1,495.2L323.6,494.8L324.0,495.5L324.5,494.9L324.9,495.0L325.4,495.3L325.6,495.2L325.8,495.3L326.3,495.7L326.7,495.1L327.2,495.7L327.6,495.7L328.1,495.8L328.5,495.5L329.0,495.6L329.4,495.5L329.9,495.7L330.3,495.8L330.3,495.5L330.8,495.9L331.2,495.7L331.7,496.0L332.1,496.2L332.6,496.1L333.0,496.0L333.5,496.5L333.9,496.9L334.4,496.3L334.8,496.8L335.0,496.7L335.3,497.2L335.7,497.1L336.2,496.9L336.6,496.9L337.1,497.7L337.5,497.2L338.0,497.1L338.4,498.1L338.9,497.5L339.3,497.8L339.7,498.1L339.8,497.8L340.2,498.4L340.7,498.2L341.1,498.4L341.6,498.5L342.0,499.0L342.5,498.3L342.9,499.0L343.4,498.7L343.8,498.9L344.3,499.4L344.5,499.4L344.7,499.0L345.2,499.5L345.6,499.8L346.1,499.5L346.5,499.4L347.0,499.7L347.3,499.4L347.4,499.0L347.9,499.0L348.3,499.6L348.8,499.4L349.2,498.6L349.7,499.0L350.1,499.0L350.1,498.6L350.6,499.0L351.0,499.0L351.5,498.8L351.9,499.0L352.4,499.0L352.8,499.7L353.3,499.4L353.7,500.0L353.9,500.0L354.2,500.0L354.6,500.6L355.1,500.1L355.5,500.3L356.0,500.4L356.4,500.3L356.9,500.4L357.3,500.8L357.7,500.9L357.8,500.5L358.2,501.4L358.7,501.2L359.1,500.6L359.6,501.3L360.0,501.0L360.5,501.2L360.9,500.8L361.4,501.3L361.8,501.3L362.3,501.6L362.7,501.5L363.2,501.7L363.4,501.5L363.6,501.2L364.1,501.1L364.5,501.6L365.0,501.4L365.4,501.5L365.9,501.7L366.3,502.0L366.8,502.2L367.2,502.3L367.7,502.6L368.1,501.9L368.6,502.4L369.0,502.4L369.0,502.6L369.5,502.4L369.9,502.2L370.4,502.5L370.8,502.9L371.3,502.8L371.7,503.4L372.2,502.9L372.6,503.0L373.1,503.6L373.5,503.4L373.7,503.4L374.0,503.7L374.4,503.3L374.9,503.9L375.3,503.6L375.8,503.8L376.2,503.9L376.7,503.6L377.1,504.1L377.6,503.2L378.0,503.5L378.5,503.7L378.5,503.2L378.9,504.1L379.4,504.6L379.8,504.5L380.3,504.8L380.7,504.2L381.2,504.9L381.6,505.1L382.1,505.1L382.5,505.3L383.0,505.8L383.4,505.4L383.9,505.4L384.1,506.0L384.3,506.5L384.8,506.6L385.2,506.6L385.7,506.4L386.1,507.1L386.6,506.4L387.0,506.8L387.5,507.5L387.9,507.8L388.4,507.5L388.8,508.1L389.3,507.5L389.7,508.1L389.8,508.1L390.2,507.9L390.6,507.9L391.1,507.8L391.5,508.3L392.0,508.5L392.4,508.4L392.9,508.8L393.3,508.3L393.8,508.9L394.2,509.0L394.5,509.0L394.7,509.5L395.1,508.8L395.6,509.2L396.0,509.3L396.5,509.3L396.9,510.0L397.4,509.6L397.8,509.7L398.3,509.7L398.7,509.8L399.2,510.4L399.6,510.3L400.0,510.1L400.1,509.7L400.5,510.1L401.0,509.6L401.4,509.7L401.9,509.3L402.3,509.9L402.8,510.1L403.2,509.7L403.7,509.6L403.8,509.5L404.1,509.7L404.6,510.1L405.0,510.4L405.5,510.6L405.9,510.9L406.4,511.8L406.8,512.4L407.3,512.6L407.7,512.8L408.2,512.6L408.5,513.3L408.6,513.7L409.1,513.9L409.5,513.7L410.0,513.8L410.4,514.1L410.9,513.8L411.3,514.4L411.8,514.2L412.2,514.8L412.7,514.6L413.1,514.9L413.2,514.8L413.6,514.6L414.0,514.2L414.5,514.4L414.9,513.9L415.4,513.3L415.8,513.1L416.1,512.9L416.3,513.0L416.7,512.7L417.2,512.8L417.6,511.7L418.1,511.9L418.5,511.7L418.9,511.4L419.0,511.9L419.4,511.8L419.9,511.3L420.3,511.5L420.8,511.6L421.2,511.5L421.7,511.2L422.1,511.6L422.6,511.1L423.0,510.9L423.5,511.4L423.6,511.2L423.9,511.1L424.4,511.2L424.8,511.7L425.3,511.6L425.7,511.2L426.2,511.7L426.6,511.4L427.1,511.3L427.5,511.5L428.0,511.7L428.3,511.4L428.4,511.5L428.9,511.2L429.3,510.7L429.8,510.0L430.2,510.1L430.7,509.5L431.1,510.0L431.6,509.2L432.0,509.1L432.1,508.9L432.5,508.4L432.9,508.8L433.4,508.0L433.8,507.5L434.3,507.7L434.7,507.3L435.2,507.5L435.6,506.8L435.9,506.7L436.1,506.2L436.5,506.3L437.0,506.8L437.4,507.0L437.9,506.4L438.3,506.7L438.8,506.9L439.2,507.3L439.7,507.5L440.1,507.4L440.6,507.2L440.6,507.1L441.0,506.2L441.5,505.9L441.9,504.9L442.4,504.4L442.8,504.3L443.3,503.4L443.7,502.9L443.8,502.5L444.2,501.8L444.6,501.5L445.1,501.0L445.5,500.1L446.0,500.1L446.4,499.7L446.9,498.3L447.2,498.2L447.3,498.4L447.8,498.1L448.2,497.3L448.7,497.4L449.1,496.8L449.5,496.9L449.6,497.0L450.0,496.9L450.5,496.7L450.9,497.0L451.4,497.1L451.8,497.1L451.9,497.2L452.3,496.1L452.7,495.7L453.2,495.0L453.6,493.9L454.1,492.5L454.2,491.9L454.5,490.7L455.0,490.2L455.4,490.2L455.9,488.6L456.3,487.9L456.7,487.8L456.8,487.5L457.2,487.8L457.7,488.2L458.1,488.9L458.6,488.7L458.6,489.1L459.0,487.8L459.5,487.4L459.9,486.6L460.4,485.6L460.4,485.9L460.8,485.0L461.3,485.1L461.7,484.6L462.2,483.5L462.6,483.4L462.9,482.5L463.1,482.0L463.5,481.9L464.0,481.0L464.4,481.3L464.9,480.5L465.2,480.2L465.3,479.9L465.8,479.3L466.2,479.9L466.7,478.9L467.1,478.9L467.1,478.5L467.6,479.1L468.0,479.1L468.5,478.9L468.9,478.8L468.9,479.3L469.4,480.2L469.8,480.3L470.3,481.1L470.7,482.1L471.2,482.9L471.4,483.1L471.6,483.5L472.1,484.3L472.5,484.1L473.0,485.5L473.4,485.1L473.7,485.9L473.9,485.2L474.3,485.2L474.8,484.2L475.2,484.0L475.7,483.5L475.9,482.5L476.1,482.4L476.6,481.1L477.0,481.6L477.5,480.4L477.9,478.4L478.4,478.5L478.4,478.3L478.8,476.0L479.3,476.1L479.7,474.6L479.7,475.2L480.2,474.1L480.6,472.4L481.1,472.3L481.2,471.7L481.5,472.8L482.0,474.0L482.2,474.6L482.4,474.6L482.9,476.1L483.1,476.5L483.3,475.7L483.8,475.6L484.2,474.8L484.7,473.5L485.0,473.1L485.1,472.6L485.6,472.0L486.0,472.0L486.5,472.2L486.9,470.8L486.9,470.1L487.4,476.6L487.7,476.5L487.8,480.1L488.3,477.9L488.4,481.2L488.7,475.5L489.2,476.5L489.2,475.6L489.6,467.9L489.7,467.0L490.1,459.5L490.3,450.0L490.5,442.2L490.7,431.1L491.0,423.6L491.4,413.2L491.6,412.2L491.9,408.4L492.3,393.9L492.6,393.3L492.8,392.2L493.2,392.6L493.5,393.3L493.7,392.6L494.1,397.5L494.5,402.8L494.6,409.3L495.0,412.1L495.2,419.8L495.5,425.8L495.9,427.7L496.0,431.1L496.4,419.7L496.8,407.0L496.9,402.8L497.3,393.7L497.7,386.4L497.9,383.9L498.2,390.0L498.6,399.0L498.6,396.0L499.1,407.6L499.2,412.2L499.5,417.7L500.0,427.3L500.1,429.2L500.4,432.6L500.9,443.4L501.1,446.2L501.3,435.8L501.8,421.5L502.0,417.9L502.2,416.0L502.7,403.4L503.0,393.3L503.1,389.0L503.6,385.5L504.0,384.1L504.5,382.9L504.5,378.4L504.9,379.7L505.4,379.6L505.8,378.4L506.2,373.5L506.3,372.9L506.7,395.2L506.9,399.0L507.2,405.1L507.6,417.2L507.7,421.7L508.1,435.7L508.2,444.3L508.5,448.6L508.8,457.6L509.0,451.4L509.4,423.2L509.6,417.9L509.9,406.1L510.3,392.7L510.5,382.9L510.8,395.0L511.1,399.0L511.2,404.5L511.7,407.7L511.8,412.2L512.1,419.9L512.6,431.6L512.6,431.1L513.0,436.1L513.3,446.2L513.5,446.5L513.9,434.4L514.3,421.7L514.4,415.6L514.8,410.6L515.2,397.1L515.3,397.5L515.7,405.3L516.2,410.3L516.2,407.8L516.6,417.7L517.1,421.5L517.1,419.8L517.5,415.1L518.0,415.4L518.1,410.3L518.4,417.7L518.9,430.2L519.0,429.2L519.3,430.8L519.8,445.1L520.0,445.3L520.2,441.8L520.7,438.0L520.9,433.0L521.1,427.7L521.6,427.4L521.8,421.7L522.0,419.2L522.5,415.1L522.8,406.6L522.9,403.1L523.4,403.9L523.7,395.2L523.8,398.2L524.3,401.0L524.7,399.0L524.7,399.9L525.2,403.9L525.6,402.8L525.6,400.8L526.1,414.5L526.2,419.8L526.5,421.1L526.9,432.1L527.0,430.0L527.4,420.7L527.9,399.0L527.9,402.8L528.3,390.3L528.8,381.6L528.8,382.0L529.2,390.1L529.7,391.8L530.0,393.3L530.1,391.9L530.6,395.1L531.0,400.2L531.3,402.8L531.5,400.2L531.9,396.0L532.2,391.4L532.4,387.7L532.8,385.1L533.2,382.9L533.3,381.6L533.7,383.5L534.2,385.9L534.5,385.8L534.6,386.5L535.1,382.7L535.5,383.2L535.6,382.0L536.0,388.9L536.4,393.3L536.4,395.9L536.9,404.2L537.0,402.8L537.3,397.0L537.8,395.4L537.9,395.2L538.2,394.1L538.7,392.0L538.8,389.6L539.1,390.9L539.6,388.8L539.8,385.8L540.0,385.2L540.5,381.8L540.7,382.0L540.9,382.4L541.4,386.5L541.7,387.7L541.8,389.3L542.3,392.4L542.6,393.3L542.7,391.1L543.2,388.1L543.6,385.8L543.6,385.8L544.1,385.4L544.5,381.1L544.5,378.7L545.0,384.9L545.4,387.2L545.5,385.8L545.9,379.9L546.3,372.9L546.4,374.4L546.8,390.7L547.0,393.3L547.2,406.9L547.3,412.2L547.7,408.2L548.1,405.2L548.3,406.6L548.6,402.8L549.0,405.1L549.2,402.8L549.5,403.6L549.9,415.8L550.0,414.1L550.4,422.9L550.7,425.4L550.8,425.8L551.3,420.5L551.7,420.1L551.9,417.9L552.2,415.1L552.6,412.9L553.0,412.2L553.1,410.8L553.5,410.7L554.0,416.0L554.0,413.3L554.4,415.3L554.9,417.8L554.9,419.8L555.3,410.9L555.7,399.0L555.8,396.9L556.2,382.9L556.2,385.4L556.7,388.2L557.1,389.7L557.4,385.8L557.6,384.7L558.0,384.2L558.5,388.8L558.7,389.6L558.9,394.2L559.4,398.9L559.4,400.9L559.8,407.8L560.2,412.2L560.3,409.9L560.7,402.5L560.9,397.1L561.2,392.7L561.5,385.8L561.6,384.7L562.1,391.3L562.5,393.3L562.5,393.6L563.0,398.3L563.4,400.9L563.4,397.4L563.9,391.7L564.0,393.3L564.3,388.4L564.3,386.7L564.8,393.1L565.2,403.8L565.3,406.6L565.7,411.1L566.1,424.1L566.2,425.4L566.6,423.9L567.0,421.0L567.2,425.4L567.5,420.8L567.9,420.5L568.1,423.6L568.4,416.8L568.7,402.8L568.8,400.9L569.3,385.8L569.3,389.4L569.7,393.4L570.0,404.7L570.2,404.2L570.6,416.3L571.0,421.7L571.1,423.9L571.5,430.6L572.0,432.7L572.3,433.0L572.4,431.0L572.9,440.3L573.3,442.0L573.8,443.6L573.8,442.1L574.2,442.9L574.7,440.6L575.1,440.0L575.6,436.8L575.7,438.7L576.0,433.7L576.5,423.5L576.6,417.9L576.9,413.9L577.4,399.1L577.6,399.0L577.8,393.5L578.3,391.0L578.5,394.3L578.7,395.0L579.2,395.8L579.5,391.4L579.6,392.9L580.1,394.9L580.5,398.4L581.0,399.0L581.0,400.7L581.4,400.7L581.9,401.7L582.3,406.6L582.3,405.4L582.8,409.4L583.2,411.3L583.7,409.1L584.1,410.9L584.2,412.2L584.6,414.5L585.0,415.6L585.5,417.1L585.9,417.1L586.1,417.9L586.4,417.6L586.8,414.9L587.3,413.8L587.4,413.2L587.7,413.2L588.2,410.5L588.6,409.3L588.9,408.4L589.1,407.4L589.5,407.9L590.0,405.6L590.4,404.7L590.4,405.1L590.9,404.2L591.3,403.5L591.7,401.8L591.8,403.3L592.2,405.0L592.7,409.0L592.7,408.4L593.1,410.4L593.6,416.5L593.6,416.0L594.0,415.1L594.5,412.3L594.6,415.6L594.9,417.3L595.4,417.5L595.5,414.1L595.8,420.3L596.3,427.5L596.5,427.3L596.7,428.3L597.2,437.4L597.4,438.7L597.6,440.4L598.1,436.0L598.5,438.2L598.7,436.8L599.0,437.5L599.4,440.5L599.9,442.2L600.2,442.4L600.3,442.6L600.8,433.2L601.2,430.0L601.7,430.9L601.7,427.3L602.1,420.8L602.6,420.2L603.0,410.2L603.1,412.2L603.5,413.3L603.9,413.4L604.0,416.9L604.4,419.2L604.8,424.2L605.0,421.7L605.3,423.4L605.7,426.0L606.2,433.0L606.3,436.8L606.6,442.9L607.1,448.2L607.5,446.1L607.8,451.0L608.0,450.5L608.4,448.7L608.9,448.7L609.3,447.3L609.7,444.3L609.8,443.6L610.2,442.4L610.7,441.1L611.1,438.9L611.6,437.9L612.0,434.1L612.1,434.9L612.5,437.4L612.9,437.3L613.4,439.2L613.5,440.6L613.8,442.1L614.3,446.4L614.4,447.2L614.7,445.0L615.2,443.7L615.3,443.4L615.6,442.7L616.1,441.3L616.3,440.6L616.5,440.8L617.0,442.1L617.4,442.3L617.6,442.4L617.9,442.2L618.3,442.6L618.8,443.3L619.1,443.4L619.2,443.9L619.7,443.5L620.1,446.1L620.6,445.2L620.6,446.2L621.0,446.2L621.5,446.8L621.9,451.0L622.0,450.0L622.4,452.5L622.8,455.1L622.9,454.7L623.3,456.3L623.7,458.3L623.8,459.5L624.2,457.9L624.6,456.9L624.8,457.6L625.1,456.5L625.5,457.8L625.7,456.6L626.0,458.2L626.4,462.8L626.7,463.2L626.9,462.2L627.3,470.3L627.6,470.8L627.8,472.6L628.2,475.1L628.7,473.3L628.9,474.6L629.1,475.5L629.6,477.3L630.0,476.8L630.5,478.3L630.5,479.0L630.9,478.3L631.4,478.2L631.8,478.5L632.0,478.9L632.3,478.5L632.7,479.0L633.2,478.0L633.3,478.3L633.6,478.6L634.1,479.7L634.5,479.7L635.0,480.1L635.4,481.2L635.6,481.2L635.9,482.0L636.3,482.4L636.8,482.3L637.2,483.1L637.7,483.7L638.0,484.0L638.1,483.8L638.6,484.2L639.0,484.2L639.5,484.4L639.9,484.4L639.9,484.3L640.4,484.7L640.8,485.0L641.3,486.0L641.7,485.9L641.8,485.9L642.2,486.3L642.6,487.2L643.1,487.7L643.5,487.6L644.0,488.5L644.4,489.1L644.9,490.1L645.3,490.1L645.6,490.6L645.8,491.2L646.2,490.9L646.7,492.0L647.1,492.6L647.6,493.3L648.0,494.2L648.5,493.8L648.9,495.3L649.4,495.3L649.4,495.9L649.8,495.8L650.3,496.2L650.7,498.5L651.2,499.7L651.6,499.9L652.1,501.0L652.2,500.6L652.5,500.7L653.0,502.4L653.4,503.4L653.9,503.3L654.3,504.3L654.8,505.0L655.0,505.7L655.2,506.4L655.7,505.8L656.1,506.3L656.6,506.9L656.9,507.6L657.0,507.8L657.5,508.6L657.9,509.0L658.4,509.8L658.8,509.5L658.8,508.8L659.3,510.7L659.7,512.9L660.2,514.2L660.3,515.2L660.6,514.1L661.1,513.7L661.4,512.3L661.5,512.3L662.0,510.9L662.4,509.8L662.6,509.5L662.9,509.6L663.3,509.4L663.8,509.9L664.2,510.3L664.5,510.1L664.7,510.3L665.1,510.5L665.6,510.7L666.0,510.3L666.4,510.5L666.5,511.0L666.9,511.0L667.4,511.3L667.8,512.1L668.3,512.7L668.7,513.3L669.2,513.2L669.6,513.5L669.8,513.9L670.1,514.0L670.5,514.3L671.0,515.5L671.4,515.7L671.9,515.5L672.3,516.0L672.8,516.6L673.0,517.1L673.2,516.7L673.7,516.8L674.1,515.9L674.6,515.5L675.0,515.9L675.4,515.2L675.5,515.2L675.9,515.0L676.4,514.6L676.8,514.8L677.3,514.8L677.7,514.2L677.7,514.1L678.2,515.4L678.6,516.6L679.1,518.0L679.5,519.4L679.6,519.0L680.0,520.9L680.4,521.0L680.9,521.4L681.3,523.2L681.5,523.7L681.8,523.4L682.2,524.3L682.7,524.2L683.1,524.3L683.6,524.2L684.0,524.2L684.3,524.6L684.5,524.8L684.9,525.0L685.4,525.2L685.8,524.7L686.3,525.6L686.7,525.6L687.1,525.6L687.2,525.7L687.6,526.6L688.1,527.3L688.5,527.5L689.0,528.0L689.4,528.7L689.9,529.6L690.0,529.3L690.3,530.2L690.8,530.2L691.2,531.1L691.7,531.4L692.1,532.3L692.6,532.3L692.8,533.1L693.0,533.5L693.5,534.1L693.9,534.0L694.4,534.8L694.7,534.6L694.8,534.2L695.3,535.1L695.7,535.1L696.2,535.5L696.6,536.0L696.6,536.7L697.1,538.3L697.5,538.6L698.0,540.5L698.1,540.7L698.4,542.0L698.9,543.1L699.3,544.2L699.4,544.5L699.8,543.4L700.2,543.7L700.7,542.5L701.1,542.3L701.1,542.3L701.6,541.2L702.0,540.2L702.5,539.0L702.5,539.4L702.9,539.3L703.4,539.2L703.8,539.9L704.2,539.8L704.3,539.7L704.7,539.8L705.2,540.2L705.6,540.4L706.0,540.1L706.1,539.9L706.5,540.8L707.0,542.4L707.4,543.1L707.5,543.4L707.9,543.9L708.3,545.6L708.8,546.1L708.9,546.5L709.2,546.3L709.7,547.3L710.1,547.3L710.6,547.6L711.0,548.2L711.3,548.1L711.5,548.2L711.9,548.3L712.4,548.5L712.8,549.3L713.3,549.0L713.7,549.5L713.8,549.6L714.2,549.5L714.6,549.9L715.1,549.9L715.5,550.6L716.0,551.0L716.4,551.7L716.7,551.3L716.9,551.3L717.3,552.1L717.8,551.5L718.2,551.8L718.7,552.5L719.1,552.9L719.5,552.9L719.6,552.4L720.0,552.6L720.5,552.5L720.9,552.3L721.2,552.3L721.4,552.5L721.8,551.8L722.3,552.0L722.7,552.2L723.0,551.9L723.2,552.2L723.6,552.9L724.1,553.1L724.5,553.2L725.0,554.0L725.4,554.2L725.5,554.2L725.9,554.6L726.3,555.2L726.8,555.5L727.2,555.7L727.7,556.4L728.0,556.4L728.1,556.8L728.6,557.3L729.0,557.2L729.5,557.2L729.9,558.2L730.1,558.0L730.4,557.9L730.8,558.0L731.3,558.7L731.7,559.1L732.2,559.8L732.3,559.5L732.6,559.5L733.1,559.9L733.5,559.2L734.0,559.6L734.4,559.4L734.8,559.8L734.9,559.6L735.3,559.5L735.8,559.5L736.2,559.6L736.7,560.1L737.1,559.6L737.2,560.0L737.6,559.6L738.0,559.3L738.5,559.8L738.9,559.7L739.4,559.3L739.8,559.0L740.3,558.6L740.5,559.0L740.7,558.6L741.2,558.8L741.6,559.1L742.1,558.3L742.5,558.6L743.0,558.2L743.4,558.2L743.6,558.1L743.9,558.6L744.3,558.8L744.8,558.6L745.2,559.8L745.7,559.6L746.1,560.1L746.1,560.2L746.6,560.7L747.0,561.3L747.5,561.0L747.9,561.7L748.4,562.3L748.5,562.4L748.8,562.0L749.3,562.4L749.7,562.5L750.2,562.0L750.4,561.8L750.6,561.4L751.1,561.6L751.5,561.8L752.0,561.2L752.1,561.4L752.4,561.6L752.9,561.9L753.3,562.7L753.8,562.8L754.2,563.4L754.2,563.7L754.7,563.6L755.1,563.7L755.6,564.1L756.0,565.3L756.3,565.2L756.5,564.9L756.9,564.9L757.4,565.8L757.8,565.6L757.8,566.1L758.3,565.6L758.7,566.1L759.2,566.1L759.2,566.2L759.6,565.3L760.1,565.1L760.5,564.6L760.6,564.9L761.0,564.6L761.4,564.6L761.9,563.0L762.0,563.5L762.3,562.6L762.8,561.5L763.2,560.4L763.7,560.1L764.1,558.8L764.1,559.5L764.6,558.7L765.0,557.3L765.5,557.8L765.9,556.4L766.3,555.7L766.4,555.2L766.8,555.3L767.3,554.7L767.7,554.2L768.2,552.9L768.6,553.2L769.1,552.1L769.1,552.2L769.5,552.1L770.0,550.9L770.4,550.9L770.9,549.6L771.3,548.9L771.8,548.8L771.9,548.6L772.2,548.5L772.7,547.9L773.1,547.1L773.6,547.0L774.0,546.2L774.5,545.3L774.8,545.4L774.9,545.0L775.4,544.7L775.8,543.9L776.3,543.5L776.7,543.0L777.2,542.9L777.6,542.3L777.6,542.1L778.1,541.6L778.5,541.5L779.0,540.2L779.4,540.1L779.7,539.7L779.9,539.4L780.3,539.5L780.8,538.2L781.2,538.0L781.7,537.3L781.8,537.3L782.1,536.4L782.6,536.6L783.0,535.7L783.5,535.3L783.9,534.2L784.0,534.2L784.4,533.8L784.8,533.5L785.3,532.4L785.7,531.5L786.1,531.2L786.2,531.5L786.6,531.1L787.1,530.5L787.5,530.3L788.0,529.2L788.2,529.5L788.4,528.9L788.9,529.0L789.3,528.8L789.8,528.0L790.2,528.5L790.3,528.1L790.7,528.1L791.1,528.1L791.6,527.6L792.0,527.3L792.5,526.8L792.5,526.8L792.9,526.8L793.4,526.5L793.8,525.8L794.3,526.0L794.6,525.5L794.7,525.5L795.2,525.5L795.6,524.4L796.1,524.7L796.5,523.9L797.0,523.8L797.1,523.4L797.4,522.7L797.9,522.5L798.3,522.5L798.8,522.4L799.2,521.6L799.6,521.3L799.7,521.1L800.1,520.9L800.6,520.9L801.0,520.8L801.5,520.0L801.9,520.1L802.0,519.9L802.4,519.4L802.8,518.9L803.3,519.0L803.7,519.0L804.2,518.6L804.5,518.5L804.6,518.6L805.1,518.0L805.5,517.8L806.0,517.3L806.4,517.4L806.6,516.8L806.9,516.5L807.3,516.5L807.8,515.6L808.2,515.8L808.7,514.9L808.8,515.1L809.1,514.6L809.6,514.0L810.0,513.2L810.5,512.5L810.9,512.2L810.9,512.2L811.4,511.8L811.8,510.9L812.3,510.4L812.7,509.5L813.0,509.4L813.2,509.6L813.6,508.8L814.1,507.9L814.5,507.5L815.0,507.1L815.1,506.8L815.4,506.6L815.9,506.6L816.3,505.6L816.8,504.6L817.2,503.2L817.3,504.0L817.7,503.2L818.1,502.8L818.6,503.4L818.7,500.5L819.0,495.8L819.5,502.2L819.9,496.9L820.1,496.0L820.4,493.0L820.8,489.0L820.9,484.7L821.3,478.6L821.4,473.3L821.7,465.9L821.8,458.2L822.0,445.0L822.2,440.0L822.6,426.8L822.8,426.1L823.1,417.4L823.5,406.3L823.5,408.2L824.0,415.7L824.3,422.3L824.4,425.6L824.8,437.4L824.9,436.9L825.3,429.1L825.4,426.1L825.8,423.7L826.2,416.7L826.2,422.1L826.7,430.4L826.9,437.4L827.1,429.5L827.6,411.4L827.7,405.3L828.0,413.2L828.4,414.8L828.5,412.1L828.9,420.5L829.2,422.3L829.4,424.6L829.8,420.1L830.1,416.7L830.3,417.0L830.7,412.6L831.1,411.0L831.2,410.0L831.6,414.0L832.1,419.6L832.2,420.4L832.5,421.3L833.0,421.9L833.3,427.1L833.4,424.7L833.9,420.0L834.3,416.7L834.3,418.0L834.8,415.2L835.2,409.5L835.2,407.2L835.7,404.4L835.8,400.6L836.1,397.0L836.2,394.0L836.6,399.1L837.0,402.5L837.1,403.4L837.5,407.9L837.9,411.3L838.1,411.0L838.4,410.5L838.8,405.9L839.0,404.4L839.3,404.3L839.7,401.9L840.0,397.8L840.2,396.2L840.6,392.8L841.1,390.4L841.1,392.1L841.5,389.9L842.0,389.3L842.4,386.4L842.4,384.4L842.9,394.6L843.2,395.9L843.3,397.3L843.7,403.4L843.8,404.8L844.2,409.0L844.7,411.0L844.7,413.8L845.1,412.5L845.6,416.7L845.6,416.7L846.0,413.7L846.5,409.5L846.6,411.0L846.9,411.4L847.4,407.6L847.5,407.2L847.8,408.3L848.3,415.3L848.5,416.7L848.7,419.5L849.2,421.8L849.4,424.2L849.6,423.0L850.1,423.7L850.5,424.8L850.7,425.2L851.0,425.0L851.4,425.6L851.9,425.2L852.2,425.2L852.3,424.3L852.8,423.5L853.2,422.6L853.7,421.2L853.7,420.4L854.1,419.6L854.6,417.7L855.0,417.9L855.1,416.7L855.5,417.2L855.9,413.6L856.4,414.4L856.4,413.8L856.8,412.2L857.3,413.1L857.7,412.8L857.9,411.0L858.2,409.2L858.6,408.2L859.1,405.8L859.4,405.3L859.5,403.7L860.0,404.0L860.4,401.5L860.7,398.7L860.9,400.2L861.3,401.9L861.8,403.8L862.1,404.4L862.2,405.0L862.7,407.1L863.1,408.2L863.6,409.1L863.6,408.2L864.0,408.0L864.5,407.2L864.9,406.3L865.1,406.3L865.4,407.2L865.8,405.8L866.3,404.2L866.4,403.4L866.7,409.3L867.0,411.0L867.2,414.9L867.3,416.7L867.6,412.0L868.1,409.7L868.3,408.2L868.5,409.1L869.0,402.3L869.2,400.6L869.4,398.2L869.9,397.3L870.2,394.0L870.3,389.9L870.8,392.4L871.1,388.3L871.2,386.8L871.7,396.4L872.1,400.6L872.1,402.0L872.6,403.7L873.0,411.0L873.0,412.8L873.5,409.7L873.9,403.8L874.0,408.2L874.4,403.2L874.8,405.4L874.9,405.3L875.3,410.1L875.7,418.6L875.7,421.0L876.2,424.3L876.4,428.9L876.6,423.3L877.1,423.5L877.5,414.5L877.5,416.7L878.0,417.5L878.4,411.8L878.7,407.2L878.9,408.1L879.3,400.4L879.6,398.7L879.8,395.7L880.2,391.7L880.6,391.2L880.7,391.8L881.1,396.1L881.5,402.5L881.6,400.9L882.0,407.6L882.5,412.9L882.5,409.7L882.9,411.6L883.4,401.7L883.4,401.6L883.8,393.2L884.3,389.8L884.3,390.2L884.7,406.1L884.9,409.1L885.2,423.8L885.3,424.2L885.6,417.4L886.1,412.8L886.2,412.9L886.5,405.7L887.0,405.2L887.2,403.4L887.4,407.1L887.9,407.6L888.1,409.1L888.3,410.1L888.8,412.1L889.1,414.8L889.2,413.6L889.7,413.7L890.0,410.1L890.1,412.2L890.6,409.2L891.0,405.3L891.0,407.0L891.5,411.6L891.7,416.7L891.9,417.1L892.3,426.1L892.4,427.3L892.8,416.5L893.2,409.1L893.3,405.4L893.7,404.8L894.2,394.9L894.2,393.6L894.6,403.3L894.9,407.2L895.1,406.4L895.5,413.5L895.7,416.7L896.0,411.5L896.4,407.0L896.6,405.3L896.9,405.6L897.3,400.1L897.6,395.9L897.8,402.0L898.2,404.7L898.5,403.4L898.7,401.0L899.1,410.3L899.5,411.0L899.6,411.3L900.0,418.0L900.4,429.9L900.5,435.0L900.9,440.0L901.3,445.0L901.4,447.0L901.8,445.8L902.3,454.0L902.3,450.7L902.7,455.8L903.2,454.3L903.2,453.5L903.6,445.4L904.1,433.4L904.2,426.1L904.5,421.0L905.0,404.5L905.1,401.6L905.4,401.8L905.9,406.4L906.1,409.1L906.3,409.1L906.8,411.7L907.0,414.8L907.2,417.3L907.7,421.2L908.0,418.6L908.1,416.4L908.6,422.9L908.9,422.3L909.0,422.7L909.5,426.5L909.7,428.0L909.9,430.2L910.4,434.1L910.4,433.7L910.8,429.8L911.3,428.3L911.4,426.1L911.7,423.8L912.2,422.3L912.3,420.4L912.6,421.4L913.1,423.6L913.4,423.3L913.5,424.3L914.0,424.7L914.4,426.2L914.6,426.1L914.9,423.7L915.3,423.9L915.8,421.1L916.1,418.6L916.2,418.3L916.7,417.5L917.1,412.5L917.4,412.9L917.6,414.8L918.0,414.5L918.5,419.0L918.7,419.5L918.9,419.2L919.4,419.9L919.8,422.6L920.2,425.2L920.3,426.0L920.7,428.1L921.2,428.5L921.6,428.4L921.7,429.9L922.1,432.1L922.5,431.1L923.0,434.2L923.1,433.7L923.4,429.7L923.9,426.6L924.0,425.2L924.3,423.1L924.8,418.6L925.0,418.6L925.2,418.7L925.7,424.4L925.9,425.2L926.1,425.8L926.6,429.0L926.8,429.9L927.0,430.0L927.5,430.7L927.9,431.6L928.2,430.8L928.4,432.1L928.8,432.0L929.3,431.0L929.7,431.8L929.7,431.5L930.2,434.1L930.6,433.9L931.1,437.0L931.5,438.4L931.6,437.4L932.0,439.2L932.4,440.7L932.9,441.7L933.3,442.4L933.5,443.1L933.8,443.9L934.2,443.5L934.7,444.1L935.1,443.8L935.3,444.1L935.6,444.4L936.0,444.2L936.5,444.9L936.9,445.1L937.2,445.0L937.4,444.7L937.8,444.5L938.3,443.5L938.6,443.1L938.7,443.3L939.2,442.1L939.6,442.2L939.7,442.2L940.1,444.0L940.5,445.6L941.0,445.9L941.0,446.9L941.4,447.9L941.9,451.2L942.0,450.7L942.3,449.3L942.8,449.4L942.9,448.8L943.2,448.8L943.7,448.1L943.8,447.8L944.1,449.0L944.6,449.6L945.0,452.7L945.2,452.6L945.5,454.2L945.9,454.6L946.4,455.8L946.7,456.3L946.8,456.6L947.3,455.3L947.7,455.0L948.0,454.5L948.2,454.7L948.6,455.0L949.1,454.0L949.1,453.5L949.5,456.5L950.0,459.5L950.3,461.1L950.4,459.6L950.9,463.7L951.3,470.0L951.4,467.7L951.8,474.2L952.2,473.3L952.2,475.6L952.7,479.7L952.7,479.0L953.1,483.2L953.6,485.6L953.9,484.7L954.0,484.5L954.5,486.9L954.9,490.4L955.2,490.3L955.4,489.2L955.8,492.9L956.3,493.0L956.7,492.7L957.2,492.9L957.6,493.5L958.0,495.1L958.1,495.8L958.5,495.2L959.0,497.2L959.4,496.9L959.9,498.6L960.3,498.6L960.8,499.9L960.9,499.8L961.2,500.2L961.7,500.3L962.1,501.1L962.6,501.3L962.7,501.7L963.0,501.9L963.5,502.5L963.9,502.7L964.4,503.3L964.6,503.6L964.8,503.6L965.3,502.7L965.7,501.9L966.1,500.7L966.2,500.2L966.6,501.7L967.1,502.5L967.5,505.4L967.8,505.5L968.0,506.6L968.4,506.0L968.9,507.1L969.3,508.6L969.4,509.2L969.8,509.5L970.2,510.5L970.7,513.4L971.1,512.9L971.2,514.0L971.6,514.7L972.0,516.5L972.5,517.0L972.9,517.4L973.1,518.7L973.4,520.2L973.8,519.5L974.3,520.6L974.7,522.5L975.2,524.5L975.4,523.8L975.6,523.8L976.1,524.9L976.5,526.2L976.8,527.0L977.0,527.5L977.4,528.5L977.9,528.8L978.3,530.2L978.3,530.3L978.8,532.3L979.2,533.6L979.7,534.4L980.1,533.9L980.4,535.2L980.6,535.1L981.0,536.1L981.5,537.3L981.9,537.6L982.4,539.2L982.5,539.4L982.8,539.2L983.3,540.8L983.7,540.5L984.2,540.8L984.6,541.6L985.1,541.6L985.5,542.3L986.0,543.2L986.4,543.1L986.8,543.7L986.9,543.5L987.3,544.3L987.8,544.5L988.2,544.7L988.7,544.8L989.1,544.9L989.6,545.0L990.0,545.7L990.5,545.8L990.9,546.6L991.4,546.2L991.8,546.4L992.3,547.0L992.4,547.2L992.7,547.6L993.2,547.7L993.6,547.5L994.1,547.5L994.5,548.3L995.0,547.9L995.4,548.8L995.9,548.8L996.3,549.3L996.8,549.0L997.2,549.2L997.7,549.6L998.1,549.6L998.1,550.0L998.6,549.8L999.0,550.0L999.5,549.5L999.9,549.8L1000.4,549.7L1000.8,550.0L1001.3,550.1L1001.7,550.8L1002.2,550.4L1002.6,550.6L1003.1,550.5L1003.5,550.6L1003.8,550.8L1004.0,550.9L1004.4,550.8L1004.9,550.5L1005.3,551.1L1005.8,550.4L1006.2,551.2L1006.7,550.9L1007.1,551.2L1007.6,550.9L1008.0,550.6L1008.5,550.9L1008.9,550.7L1009.4,551.0L1009.8,550.5L1010.3,551.2L1010.7,551.3L1010.8,551.0L1011.2,550.9L1011.6,551.3L1012.1,551.1L1012.5,551.8L1013.0,551.8L1013.4,551.4L1013.9,551.8L1014.3,551.3L1014.8,552.1L1015.2,551.9L1015.7,551.3L1016.1,552.0L1016.5,551.9L1016.6,552.1L1017.0,551.7L1017.5,552.1L1017.9,552.8L1018.4,552.6L1018.8,552.7L1019.3,553.0L1019.7,552.6L1020.2,552.8L1020.6,553.2L1021.1,553.3L1021.5,553.6L1021.5,553.7L1022.0,553.1L1022.4,553.6L1022.6,554.3L1022.9,555.3L1023.3,555.2L1023.6,555.0L1023.8,557.0L1024.2,558.9L1024.3,560.7L1024.7,562.7L1025.0,565.6L1025.1,564.7L1025.6,562.8L1025.9,562.1L1026.0,561.3L1026.5,560.2L1026.7,559.0L1026.9,559.1L1027.4,559.1L1027.8,559.6L1028.3,559.9L1028.7,560.7L1028.7,561.1L1029.2,561.0L1029.6,561.4L1030.1,561.6L1030.5,562.2L1030.7,562.1L1031.0,562.2L1031.4,562.9L1031.9,562.8L1032.3,563.8L1032.8,563.6L1033.2,563.5L1033.5,564.2L1033.7,564.7L1034.1,564.4L1034.6,565.0L1035.0,565.4L1035.5,566.1L1035.9,565.5L1036.3,566.3L1036.4,565.9L1036.8,567.6L1037.3,568.9L1037.7,569.4L1038.2,569.1L1038.5,570.6L1038.6,570.9L1039.1,572.5L1039.5,572.6L1040.0,573.3L1040.4,574.8L1040.6,574.8L1040.9,575.0L1041.3,574.0L1041.7,573.4L1041.8,573.7L1042.2,572.5L1042.7,571.9L1042.7,572.3L1043.1,572.9L1043.6,573.7L1044.0,574.2L1044.5,574.0L1044.9,574.7L1045.1,575.1L1045.4,575.4L1045.8,576.1L1046.3,576.7L1046.7,576.2L1047.2,576.9L1047.6,577.1L1047.7,577.7L1048.1,578.2L1048.5,579.7L1049.0,579.5L1049.4,580.5L1049.4,580.5L1049.9,581.7L1050.3,582.2L1050.8,582.6L1051.2,583.3L1051.2,583.1L1051.7,581.8L1052.1,581.5L1052.2,580.8L1052.6,579.7L1053.0,578.6L1053.3,578.4L1053.5,578.9L1053.9,580.0L1054.4,581.3L1054.8,582.8L1054.9,582.6L1055.3,583.7L1055.7,584.8L1056.2,586.4L1056.5,586.5L1056.6,585.8L1057.1,584.8L1057.5,584.4L1058.0,583.5L1058.0,583.1L1058.4,582.7L1058.9,581.9L1059.3,580.4L1059.7,579.8L1059.8,580.3L1060.2,579.9L1060.7,580.9L1061.1,580.5L1061.6,580.9L1062.0,581.1L1062.1,581.2L1062.5,581.3L1062.9,581.3L1063.4,581.9L1063.8,581.8L1064.3,582.5L1064.7,582.6L1064.7,583.1L1065.2,583.2L1065.6,583.3L1066.1,583.7L1066.4,583.6L1066.5,584.0L1067.0,584.0L1067.4,584.4L1067.9,584.7L1068.2,584.5L1068.3,585.0L1068.8,584.7L1069.2,586.1L1069.6,586.2L1069.7,586.2L1070.1,586.5L1070.6,587.1L1071.0,587.9L1071.1,587.9L1071.5,586.8L1071.9,586.5L1072.4,585.7L1072.5,585.9L1072.8,585.0L1073.3,585.1L1073.7,584.5L1073.9,584.0L1074.2,584.1L1074.6,583.9L1075.1,583.5L1075.5,583.6L1076.0,583.3L1076.3,582.8L1076.4,583.2L1076.9,582.6L1077.3,582.2L1077.8,581.8L1078.2,581.9L1078.7,581.6L1078.8,581.5L1079.1,581.6L1079.6,581.8L1080.0,582.4L1080.5,581.9L1080.9,582.0L1081.0,582.5L1081.4,582.7L1081.8,582.4L1082.3,583.0L1082.7,582.8L1083.1,583.3L1083.2,583.7L1083.6,583.3L1084.1,583.8L1084.5,584.5L1084.5,584.8L1085.0,585.1L1085.4,585.1L1085.9,585.4L1085.9,585.5L1086.3,584.8L1086.8,584.3L1087.2,583.2L1087.3,583.1L1087.7,583.0L1088.1,581.2L1088.6,580.9L1088.8,580.5L1089.0,580.2L1089.5,579.4L1089.9,578.5L1090.4,578.5L1090.8,577.5L1091.3,577.5L1091.3,577.4L1091.7,576.2L1092.2,576.0L1092.6,575.5L1093.1,574.5L1093.5,575.4L1093.7,574.1L1094.0,572.4L1094.4,571.0L1094.9,569.8L1095.1,570.3L1095.3,568.5L1095.8,568.4L1096.2,568.5L1096.6,566.3L1096.7,566.7L1097.1,565.3L1097.6,563.5L1098.0,563.4L1098.4,562.8L1098.5,562.5L1098.9,561.1L1099.4,560.3L1099.8,559.8L1100.1,559.3L1100.3,559.0L1100.7,559.1L1101.2,559.4L1101.6,560.2L1101.8,559.8L1102.1,559.7L1102.5,559.5L1103.0,560.1L1103.4,560.6L1103.6,560.2L1103.9,560.2L1104.3,558.7L1104.8,557.5L1105.1,557.3L1105.2,556.6L1105.7,556.0L1106.1,554.6L1106.5,554.3L1106.6,554.6L1107.0,553.6L1107.5,552.3L1107.9,551.8L1108.3,551.9L1108.4,551.3L1108.8,551.0L1109.3,550.6L1109.7,550.3L1110.0,549.3L1110.2,549.4L1110.6,548.8L1111.1,548.6L1111.5,547.8L1112.0,547.1L1112.4,547.0L1112.8,546.5L1112.9,546.1L1113.3,546.1L1113.8,545.5L1114.2,545.0L1114.7,544.7L1115.1,544.1L1115.6,543.6L1115.7,543.7L1116.0,543.0L1116.5,542.5L1116.9,541.3L1117.4,541.0L1117.8,541.1L1118.3,540.0L1118.7,539.6L1119.2,539.3L1119.2,538.7L1119.6,538.7L1120.1,538.0L1120.5,536.5L1121.0,536.4L1121.4,535.1L1121.9,535.1L1122.3,534.8L1122.8,533.8L1122.8,534.1L1123.2,533.5L1123.7,533.5L1124.1,532.7L1124.6,532.4L1125.0,532.0L1125.5,531.8L1125.6,532.1L1125.9,531.5L1126.4,531.9L1126.8,531.2L1127.3,531.6L1127.7,531.5L1128.2,530.3L1128.4,530.6L1128.6,530.8L1129.1,530.5L1129.5,529.9L1130.0,530.3L1130.4,530.4L1130.9,530.2L1131.3,530.1L1131.3,530.1L1131.8,529.5L1132.2,529.6L1132.7,529.6L1133.1,529.7L1133.6,529.4L1134.0,529.1L1134.1,529.5L1134.5,527.4L1134.9,526.0L1135.2,526.0L1135.4,524.8L1135.8,525.1L1136.2,522.4L1136.3,522.2L1136.7,521.1L1137.2,518.6L1137.2,518.9L1137.6,519.0L1138.1,516.5L1138.3,515.3L1138.5,516.2L1139.0,513.8L1139.4,514.8L1139.9,514.5L1140.1,513.7L1140.3,513.7L1140.8,512.7L1141.2,512.5L1141.7,512.6L1142.0,511.8L1142.1,511.3L1142.6,510.7L1143.0,510.1L1143.5,509.8L1143.9,510.0L1143.9,510.1L1144.4,508.3L1144.8,507.4L1144.8,506.7L1145.3,506.1L1145.7,503.3L1145.8,503.3L1146.2,503.8L1146.6,502.6L1147.1,503.1L1147.5,502.3L1147.7,502.4L1148.0,502.1L1148.4,501.1L1148.9,501.4L1149.3,503.0L1149.6,501.5L1149.8,503.6L1150.2,502.5L1150.3,507.1L1150.7,511.2L1151.1,512.8L1151.1,508.9L1151.6,492.4L1151.8,488.2L1152.0,478.1L1152.4,465.6L1152.5,466.3L1152.9,445.7L1153.0,448.6L1153.4,438.8L1153.7,431.6L1153.8,432.1L1154.3,439.3L1154.7,439.1L1154.7,443.6L1155.2,447.0L1155.6,446.7L1155.6,451.6L1156.1,464.7L1156.4,471.2L1156.5,476.7L1157.0,492.4L1157.1,494.8L1157.4,493.4L1157.9,482.6L1158.1,482.6L1158.3,476.8L1158.8,468.5L1159.0,469.3L1159.2,473.3L1159.7,476.5L1160.0,482.6L1160.1,487.1L1160.6,493.7L1160.9,495.8L1161.0,494.4L1161.5,498.7L1161.9,496.2L1162.0,498.6L1162.4,502.3L1162.8,500.7L1163.2,501.5L1163.3,500.1L1163.7,479.9L1163.9,473.1L1164.2,462.0L1164.6,448.0L1164.7,446.7L1165.1,444.6L1165.4,437.2L1165.5,432.2L1166.0,427.1L1166.2,427.8L1166.4,431.7L1166.9,444.4L1166.9,444.8L1167.3,453.8L1167.5,461.8L1167.8,458.3L1168.2,452.5L1168.5,449.5L1168.7,447.0L1169.1,445.1L1169.4,437.2L1169.6,448.1L1170.0,465.6L1170.0,469.8L1170.5,483.3L1170.7,493.0L1170.9,497.5L1171.4,495.4L1171.8,496.1L1171.9,493.9L1172.3,495.9L1172.7,496.3L1173.2,494.8L1173.2,497.2L1173.6,484.6L1174.1,472.4L1174.1,467.4L1174.5,452.3L1175.0,439.0L1175.1,439.1L1175.4,438.3L1175.9,441.5L1176.0,436.8L1176.3,436.2L1176.8,431.8L1177.0,434.4L1177.2,435.7L1177.7,439.0L1177.9,442.9L1178.1,447.0L1178.6,450.4L1178.8,452.3L1179.0,451.3L1179.5,461.8L1179.8,463.7L1179.9,466.6L1180.4,469.8L1180.7,476.0L1180.8,472.1L1181.3,472.9L1181.7,470.8L1182.1,469.3L1182.2,468.7L1182.6,467.2L1183.1,464.6L1183.5,465.8L1183.6,461.8L1184.0,460.6L1184.4,458.7L1184.9,456.2L1185.1,453.3L1185.3,450.3L1185.8,449.8L1186.2,446.4L1186.4,444.8L1186.7,446.6L1187.1,446.0L1187.3,446.7L1187.6,447.0L1188.0,447.0L1188.3,448.6L1188.5,448.7L1188.9,445.6L1189.2,442.5L1189.4,438.5L1189.8,442.6L1190.2,436.3L1190.3,440.8L1190.7,446.6L1191.2,447.5L1191.5,456.1L1191.6,458.1L1192.1,466.7L1192.5,470.7L1192.6,475.0L1193.0,473.2L1193.4,472.8L1193.8,469.3L1193.9,467.4L1194.3,465.5L1194.8,464.5L1194.9,463.7L1195.2,463.9L1195.7,465.8L1195.8,467.8L1196.1,470.5L1196.6,470.6L1196.8,472.2L1197.0,470.6L1197.5,464.8L1197.9,461.0L1198.4,457.6L1198.7,456.1L1198.8,456.5L1199.3,451.2L1199.7,443.4L1200.2,439.7L1200.6,439.1L1200.6,439.7L1201.1,448.2L1201.5,450.4L1201.5,451.4L1202.0,453.9L1202.4,462.5L1202.5,461.8L1202.9,466.1L1203.3,464.1L1203.4,466.5L1203.8,471.4L1204.2,474.8L1204.3,471.2L1204.7,464.5L1205.1,461.4L1205.6,459.0L1205.9,453.3L1206.0,446.6L1206.5,442.4L1206.9,442.9L1207.2,435.3L1207.4,429.5L1207.8,429.7L1208.1,426.3L1208.3,428.5L1208.7,417.1L1209.1,417.4L1209.2,415.2L1209.6,422.8L1210.0,424.4L1210.1,420.6L1210.5,425.4L1211.0,431.6L1211.0,433.8L1211.4,444.4L1211.9,446.2L1211.9,448.6L1212.3,458.0L1212.8,464.0L1212.8,465.6L1213.2,470.1L1213.7,470.8L1213.8,469.0L1214.1,469.0L1214.6,473.0L1214.7,472.2L1215.0,469.7L1215.5,462.7L1215.7,460.3L1215.9,455.0L1216.4,454.2L1216.6,448.6L1216.8,447.3L1217.3,442.9L1217.7,448.1L1217.9,445.2L1218.2,445.5L1218.6,443.0L1219.1,441.5L1219.5,441.9L1219.5,441.8L1220.0,439.9L1220.4,440.5L1220.9,437.3L1221.3,438.9L1221.3,437.6L1221.8,435.0L1222.2,437.9L1222.7,437.1L1223.1,432.8L1223.2,433.4L1223.6,433.0L1224.0,425.0L1224.2,426.8L1224.5,421.4L1224.9,422.4L1225.1,420.2L1225.4,418.8L1225.8,418.3L1226.1,416.1L1226.3,414.3L1226.7,411.4L1227.0,411.7L1227.2,411.8L1227.6,416.2L1228.0,422.5L1228.1,420.4L1228.5,426.4L1228.9,433.4L1229.0,430.5L1229.4,440.2L1229.8,441.9L1229.9,444.7L1230.3,446.8L1230.8,452.3L1230.8,450.4L1231.2,452.2L1231.7,458.3L1231.7,457.1L1232.1,463.0L1232.6,464.8L1232.7,463.7L1233.0,464.3L1233.5,465.7L1233.6,468.4L1233.9,468.1L1234.4,474.7L1234.6,473.1L1234.8,473.1L1235.3,461.5L1235.5,462.7L1235.7,463.1L1236.2,451.6L1236.5,452.3L1236.6,450.1L1237.1,448.2L1237.4,445.2L1237.5,442.0L1238.0,443.6L1238.3,438.2L1238.4,436.5L1238.9,439.4L1239.3,443.3L1239.3,442.7L1239.8,445.5L1240.2,448.6L1240.2,448.6L1240.7,448.1L1241.1,444.1L1241.6,443.5L1241.7,442.9L1242.0,442.5L1242.5,439.7L1242.9,438.2L1243.1,437.2L1243.4,438.0L1243.8,440.8L1244.0,441.0L1244.3,442.1L1244.7,444.5L1245.0,444.8L1245.2,443.9L1245.6,444.3L1246.1,442.8L1246.3,442.5L1246.5,442.8L1247.0,441.5L1247.4,443.0L1247.8,440.1L1247.9,442.9L1248.3,443.1L1248.8,444.9L1249.2,449.4L1249.3,452.3L1249.7,458.7L1250.1,461.6L1250.6,465.2L1250.6,464.6L1251.0,460.4L1251.5,457.4L1251.6,457.6L1251.9,451.9L1252.4,449.3L1252.5,450.4L1252.8,451.4L1253.3,442.6L1253.5,442.9L1253.7,437.5L1254.2,438.6L1254.4,435.3L1254.6,439.8L1255.1,451.2L1255.3,451.4L1255.5,456.1L1256.0,463.6L1256.3,467.4L1256.4,465.4L1256.9,462.2L1257.2,453.3L1257.3,453.7L1257.8,443.0L1258.2,439.1L1258.2,443.2L1258.7,439.5L1259.1,446.7L1259.1,447.9L1259.6,451.6L1260.0,455.1L1260.1,454.2L1260.5,452.4L1260.9,451.4L1261.4,449.9L1261.4,448.6L1261.8,445.6L1262.3,446.2L1262.7,442.4L1262.9,442.9L1263.2,443.7L1263.6,444.4L1264.1,449.5L1264.4,449.5L1264.5,448.5L1265.0,452.3L1265.4,454.1L1265.7,456.1L1265.9,457.6L1266.3,455.2L1266.8,458.8L1267.1,457.6L1267.2,457.3L1267.7,457.3L1268.1,457.6L1268.6,458.9L1268.6,459.8L1269.0,460.6L1269.5,462.8L1269.5,463.3L1269.9,464.9L1270.4,466.4L1270.5,467.4L1270.8,467.0L1271.3,466.3L1271.7,466.9L1272.0,466.5L1272.2,466.6L1272.6,465.9L1273.1,464.8L1273.3,465.6L1273.5,467.2L1274.0,468.7L1274.4,469.4L1274.6,471.2L1274.9,472.3L1275.3,474.5L1275.8,474.4L1276.1,476.9L1276.2,477.5L1276.7,475.8L1277.1,474.1L1277.6,471.7L1277.6,472.2L1278.0,471.2L1278.5,468.6L1278.9,468.5L1279.0,467.4L1279.4,468.4L1279.8,471.7L1279.9,472.2L1280.3,474.6L1280.7,475.6L1280.9,476.9L1281.2,478.5L1281.6,479.2L1282.1,478.2L1282.5,478.9L1282.7,479.2L1283.0,479.7L1283.4,480.4L1283.9,480.5L1284.3,481.6L1284.6,481.6L1284.8,481.8L1285.2,481.7L1285.6,481.1L1285.7,480.2L1286.1,482.3L1286.5,480.7L1286.6,480.0L1287.0,482.1L1287.5,486.3L1287.5,486.2L1287.9,491.7L1288.4,489.9L1288.4,492.0L1288.8,490.6L1289.3,494.5L1289.7,497.7L1289.7,496.8L1290.2,499.5L1290.6,501.2L1290.6,499.9L1291.1,504.2L1291.5,501.9L1292.0,506.7L1292.4,510.3L1292.5,508.3L1292.9,509.9L1293.3,512.5L1293.8,512.8L1294.2,515.3L1294.2,516.9L1294.7,514.6L1295.1,516.6L1295.6,518.6L1296.0,518.3L1296.3,520.3L1296.5,521.8L1296.9,522.6L1297.4,522.9L1297.8,525.2L1298.3,525.8L1298.4,525.3L1298.7,525.6L1299.2,527.7L1299.6,527.6L1300.1,528.7L1300.5,529.3L1300.5,530.2L1301.0,532.0L1301.4,533.0L1301.9,534.1L1302.3,534.2L1302.7,535.2L1302.8,535.5L1303.2,535.6L1303.7,536.6L1304.1,536.7L1304.6,538.5L1305.0,539.0L1305.2,539.0L1305.5,539.6L1305.9,540.3L1306.4,539.9L1306.8,542.0L1307.3,542.6L1307.6,542.3L1307.7,542.2L1308.2,542.4L1308.6,544.8L1309.1,545.7L1309.5,545.5L1310.0,546.1L1310.0,547.2L1310.4,548.7L1310.9,548.4L1311.3,550.0L1311.8,551.1L1312.2,550.7L1312.6,552.2L1312.7,551.5L1313.1,554.2L1313.6,554.4L1314.0,556.5L1314.3,556.1L1314.5,556.3L1314.9,557.4L1315.4,558.3L1315.8,559.8L1316.1,560.0L1316.3,559.4L1316.7,560.8L1317.2,560.6L1317.5,561.4L1317.6,561.3L1318.1,561.9L1318.5,562.1L1319.0,562.8L1319.0,562.6L1319.4,563.6L1319.9,563.3L1320.3,563.4L1320.8,564.5L1320.8,564.2L1321.2,564.1L1321.7,565.1L1322.1,565.6L1322.5,565.6L1322.6,565.8L1323.0,565.8L1323.5,564.7L1323.9,564.6L1323.9,565.1L1324.4,564.1L1324.8,564.2L1325.3,563.1L1325.3,563.5L1325.7,563.7L1326.2,564.0L1326.6,563.9L1326.8,563.9L1327.1,563.6L1327.5,564.5L1328.0,564.2L1328.2,564.2L1328.4,564.9L1328.9,565.4L1329.3,566.7L1329.6,566.6L1329.8,566.5L1330.2,566.9L1330.7,569.2L1331.0,569.2L1331.1,569.1L1331.6,570.2L1332.0,572.4L1332.5,574.4L1332.7,573.7L1332.9,573.1L1333.4,575.4L1333.8,576.5L1334.3,577.0L1334.5,578.4L1334.7,578.7L1335.2,579.0L1335.6,579.8L1336.1,579.7L1336.4,580.5L1336.5,580.5L1337.0,581.1L1337.4,582.2L1337.9,582.5L1338.1,582.6L1338.3,583.0L1338.8,583.1L1339.2,583.4L1339.7,583.2L1339.8,583.1L1340.1,583.2L1340.6,583.2L1341.0,583.3L1341.5,583.8L1341.6,583.3L1341.9,583.2L1342.4,582.8L1342.8,581.4L1343.0,581.6L1343.3,581.3L1343.7,580.5L1344.2,580.6L1344.5,579.8L1344.6,580.5L1345.1,581.5L1345.5,581.6L1346.0,582.1L1346.3,583.3L1346.4,583.1L1346.9,585.1L1347.3,585.5L1347.8,586.1L1348.0,586.9L1348.2,586.6L1348.7,586.1L1349.1,585.1L1349.4,585.0L1349.6,585.2L1350.0,584.7L1350.5,584.1L1350.8,583.3L1350.9,583.2L1351.4,584.3L1351.8,584.6L1352.3,585.0L1352.7,586.1L1353.0,586.2L1353.2,586.2L1353.6,587.1L1354.1,587.6L1354.5,588.3L1355.0,589.1L1355.1,589.0L1355.4,589.0L1355.9,589.4L1356.3,589.6L1356.8,590.6L1357.2,590.4L1357.2,590.2L1357.7,590.6L1358.1,591.1L1358.6,590.9L1359.0,591.8L1359.3,591.8L1359.5,591.6L1359.9,591.8L1360.4,592.4L1360.8,592.8L1361.3,592.1L1361.5,592.6L1361.7,593.0L1362.2,593.0L1362.6,593.4L1363.1,592.8L1363.5,592.9L1363.6,593.3L1364.0,593.7L1364.4,594.5L1364.7,594.7L1364.9,595.0L1365.3,595.1L1365.7,596.1L1365.8,595.6L1366.2,596.1L1366.7,595.0L1366.7,595.4L1367.1,594.8L1367.6,595.0L1367.8,594.7L1368.0,595.1L1368.5,595.2L1368.9,595.5L1369.4,595.1L1369.8,595.6L1370.3,596.4L1370.7,596.1L1370.7,596.4L1371.2,596.4L1371.6,596.4L1372.1,597.2L1372.5,596.6L1373.0,597.4L1373.4,597.7L1373.5,597.5L1373.9,597.4L1374.3,598.3L1374.8,598.3L1375.2,599.0L1375.6,599.2L1375.7,599.2L1376.1,599.6L1376.6,599.8L1377.0,600.2L1377.5,601.0L1377.8,601.1L1377.9,601.2L1378.4,601.8L1378.8,602.5L1378.9,602.5L1379.3,603.2L1379.7,604.1L1379.9,603.9L1380.2,603.0L1380.6,602.6L1381.1,601.9L1381.3,601.5L1381.5,600.9L1382.0,600.1L1382.4,599.6L1382.7,599.2L1382.9,598.9L1383.3,599.8L1383.8,600.1L1384.1,600.1L1384.2,599.8L1384.7,600.3L1385.1,601.0L1385.5,601.1L1385.6,601.3L1386.0,602.2L1386.5,602.2L1386.9,602.8L1387.4,603.8L1387.7,604.2L1387.8,604.1L1388.3,604.6L1388.7,605.6L1389.2,606.2L1389.6,606.5L1389.8,607.1L1390.1,606.7L1390.5,607.2L1391.0,606.7L1391.4,606.5L1391.6,606.9L1391.9,606.7L1392.3,606.7L1392.8,606.9L1393.2,606.7L1393.3,606.7L1393.7,606.3L1394.1,606.5L1394.6,606.5L1395.0,606.4L1395.0,606.0L1395.5,606.0L1395.9,605.5L1396.4,605.6L1396.8,604.9L1396.9,605.3L1397.3,605.8L1397.7,606.9L1398.2,607.7L1398.6,607.6L1398.7,608.1L1399.1,609.2L1399.5,609.2L1400.0,610.4L1400.4,611.0L1400.4,610.5L1400.9,611.0L1401.3,610.6L1401.8,610.7L1402.2,610.3L1402.6,610.5L1402.7,610.9L1403.1,610.2L1403.6,610.3L1404.0,610.0L1404.5,610.2L1404.7,610.3L1404.9,610.1L1405.4,610.1L1405.8,610.2L1406.3,610.3L1406.7,610.2L1406.8,610.1L1407.2,610.1L1407.6,610.6L1408.1,610.4L1408.5,610.1L1408.9,610.0L1409.0,609.8L1409.4,609.7L1409.9,610.0L1410.3,610.9L1410.6,610.5L1410.8,610.6L1411.2,610.5L1411.7,610.3L1412.1,610.9L1412.5,611.0L1412.6,611.1L1413.0,610.2L1413.5,609.0L1413.9,608.4L1414.3,608.1L1414.4,607.7L1414.8,607.1L1415.3,606.4L1415.7,605.7L1416.0,605.3L1416.2,605.7L1416.6,605.0L1417.1,605.4L1417.5,604.5L1418.0,604.8L1418.4,604.8L1418.8,604.3L1418.9,604.5L1419.3,603.9L1419.8,604.1L1420.2,603.4L1420.7,603.9L1421.1,603.8L1421.6,603.0L1421.7,603.2L1422.0,603.0L1422.5,602.0L1422.9,601.8L1423.4,601.0L1423.8,600.6L1423.8,600.7L1424.3,600.5L1424.7,599.6L1425.2,599.2L1425.6,599.0L1425.9,598.2L1426.1,598.3L1426.5,597.0L1427.0,596.5L1427.4,595.9L1427.9,594.0L1428.3,593.0L1428.8,593.0L1428.8,592.4L1429.2,592.6L1429.7,590.3L1430.1,590.7L1430.6,588.7L1431.0,587.9L1431.5,587.3L1431.6,587.6L1431.9,586.6L1432.4,586.8L1432.8,586.6L1433.3,585.7L1433.7,585.0L1433.7,585.4L1434.2,585.0L1434.6,583.9L1435.1,584.0L1435.5,583.1L1435.8,582.6L1436.0,582.0L1436.4,581.8L1436.9,582.2L1437.3,581.0L1437.8,581.3L1438.0,580.8L1438.2,581.0L1438.7,580.4L1439.1,579.6L1439.6,579.8L1440.0,578.5L1440.1,579.1L1440.5,578.1L1440.9,577.9L1441.4,576.4L1441.5,576.3L1441.8,574.7L1442.3,573.8L1442.7,573.5L1442.9,573.4L1443.2,571.1L1443.6,572.7L1444.1,569.9L1444.1,569.1L1444.5,568.6L1445.0,568.2L1445.1,566.3L1445.4,564.3L1445.9,564.0L1446.3,564.1L1446.8,564.2L1446.9,562.8L1447.2,561.0L1447.7,561.7L1448.1,561.4L1448.6,559.8L1448.6,559.3L1449.0,558.3L1449.5,557.2L1449.9,556.1L1450.3,554.7L1450.4,554.6L1450.8,553.2L1451.3,552.7L1451.7,550.4L1452.1,550.0L1452.2,550.7L1452.6,549.6L1453.1,549.2L1453.5,548.9L1454.0,548.7L1454.0,548.9L1454.4,548.7L1454.9,548.1L1455.3,548.1L1455.7,547.9L1455.8,547.5L1456.2,547.1L1456.7,546.8L1457.1,545.9L1457.6,545.1L1457.8,545.1L1458.0,544.4L1458.5,544.3L1458.9,543.8L1459.4,542.7L1459.8,542.2L1459.9,542.3L1460.3,541.3L1460.7,541.3L1461.2,540.6L1461.6,539.7L1462.1,539.4L1462.1,538.9L1462.5,538.8L1463.0,538.0L1463.4,537.1L1463.9,536.9L1464.2,536.6L1464.3,536.9L1464.8,535.4L1465.2,535.1L1465.7,534.0L1466.1,532.7L1466.3,532.3L1466.6,531.4L1467.0,530.7L1467.5,529.4L1467.9,529.2L1468.4,528.2L1468.4,528.1L1468.8,527.4L1469.3,528.1L1469.7,527.6L1469.8,527.4L1470.2,527.0L1470.6,527.2L1471.1,526.4L1471.3,526.7L1471.5,525.6L1472.0,525.1L1472.4,523.7L1472.9,524.1L1473.3,521.4L1473.8,521.3L1473.8,521.0L1474.2,521.0L1474.7,519.9L1475.1,518.3L1475.6,516.3L1476.0,515.5L1476.2,515.3L1476.5,515.4L1476.9,516.3L1477.4,516.0L1477.4,515.3L1477.8,516.1L1478.3,516.7L1478.3,516.8L1478.7,514.8L1479.2,515.9L1479.5,511.8L1479.6,510.1L1480.1,510.8L1480.5,506.8L1480.5,505.6L1481.0,503.2L1481.1,498.9L1481.4,488.7L1481.6,480.0L1481.9,464.7L1482.0,461.1L1482.3,452.6L1482.6,442.2L1482.8,432.8L1483.0,423.3L1483.2,421.2L1483.7,411.0L1483.9,410.1L1484.1,411.1L1484.6,405.6L1484.8,398.8L1485.0,391.9L1485.4,391.2L1485.5,386.7L1485.9,390.9L1486.2,385.6L1486.4,389.2L1486.8,392.0L1486.9,392.2L1487.3,395.0L1487.7,397.8L1487.7,395.7L1488.2,395.1L1488.4,391.2L1488.6,387.8L1489.1,385.2L1489.2,384.6L1489.5,381.3L1490.0,379.2L1490.1,378.0L1490.4,378.8L1490.9,375.3L1491.1,372.3L1491.3,378.7L1491.8,383.3L1491.8,383.7L1492.2,389.1L1492.4,395.0L1492.7,388.4L1493.0,383.7L1493.1,383.9L1493.6,372.5L1493.7,373.3L1494.0,375.6L1494.5,384.6L1494.5,384.7L1494.9,391.0L1495.2,395.0L1495.4,390.0L1495.8,386.7L1496.2,380.8L1496.3,382.2L1496.7,370.0L1497.1,366.7L1497.2,366.0L1497.6,358.2L1498.1,360.5L1498.3,356.3L1498.5,356.0L1499.0,348.0L1499.4,346.8L1499.4,351.6L1499.9,350.8L1500.3,359.6L1500.5,364.8L1500.8,366.3L1501.2,372.6L1501.7,380.4L1501.8,383.7L1502.1,376.3L1502.4,362.9L1502.6,351.1L1502.8,343.1L1503.0,338.1L1503.5,341.8L1503.5,340.2L1503.9,336.5L1504.3,338.3L1504.4,341.3L1504.8,349.9L1505.1,351.6L1505.3,353.2L1505.6,364.8L1505.7,366.0L1506.2,358.9L1506.6,354.9L1506.9,356.3L1507.1,352.9L1507.5,353.1L1508.0,350.5L1508.4,349.1L1508.5,348.7L1508.9,351.0L1509.3,353.5L1509.4,353.4L1509.8,354.2L1510.2,357.0L1510.3,357.2L1510.7,357.7L1511.1,353.9L1511.3,354.4L1511.6,353.5L1512.0,351.3L1512.2,351.6L1512.5,355.2L1512.9,358.1L1513.4,364.8L1513.4,362.2L1513.8,367.3L1514.3,375.6L1514.5,378.0L1514.7,378.7L1515.2,371.5L1515.3,369.5L1515.6,365.3L1516.0,361.0L1516.1,361.2L1516.5,365.7L1517.0,369.5L1517.0,366.1L1517.4,375.6L1517.9,377.7L1517.9,378.0L1518.3,370.2L1518.7,364.8L1518.8,364.3L1519.2,350.4L1519.4,351.6L1519.7,352.0L1520.1,343.8L1520.2,343.1L1520.6,339.6L1520.7,335.5L1521.0,344.8L1521.5,345.4L1521.7,353.4L1521.9,353.8L1522.4,369.6L1522.6,370.4L1522.8,368.6L1523.3,361.6L1523.7,360.5L1523.9,356.3L1524.2,350.5L1524.6,348.1L1525.1,342.1L1525.1,344.6L1525.5,345.8L1526.0,355.9L1526.0,358.2L1526.4,367.2L1526.9,370.1L1527.0,374.2L1527.3,378.6L1527.7,377.6L1527.8,382.2L1528.2,383.7L1528.3,380.8L1528.7,377.4L1529.1,367.3L1529.2,367.6L1529.6,361.4L1530.0,361.7L1530.2,355.3L1530.5,350.3L1530.9,347.7L1531.1,348.7L1531.4,347.1L1531.8,342.3L1532.1,343.1L1532.3,339.5L1532.6,338.3L1532.7,336.5L1533.2,334.5L1533.4,334.6L1533.6,339.5L1534.1,344.5L1534.1,344.9L1534.5,348.3L1534.9,355.3L1535.0,357.3L1535.4,347.7L1535.7,346.8L1535.9,343.5L1536.3,337.4L1536.4,338.3L1536.8,340.7L1537.2,340.6L1537.5,344.4L1537.7,346.6L1538.1,347.2L1538.6,349.9L1538.7,350.6L1539.0,348.4L1539.4,344.4L1539.5,343.9L1539.9,341.3L1540.2,338.3L1540.4,337.7L1540.8,339.5L1541.1,342.1L1541.3,341.1L1541.7,347.2L1542.1,345.9L1542.2,346.2L1542.6,336.9L1542.8,335.5L1543.1,334.8L1543.4,326.1L1543.5,326.7L1544.0,326.8L1544.3,323.6L1544.4,322.3L1544.9,320.4L1545.3,321.7L1545.3,323.0L1545.8,328.2L1546.2,331.0L1546.2,330.8L1546.7,335.1L1547.1,341.5L1547.2,340.2L1547.6,341.4L1548.0,334.3L1548.1,337.4L1548.5,336.3L1548.9,335.8L1549.1,334.6L1549.4,340.4L1549.8,343.7L1550.0,344.4L1550.3,349.0L1550.7,351.3L1551.0,354.4L1551.2,349.5L1551.5,344.9L1551.6,345.1L1552.1,339.1L1552.3,336.4L1552.5,339.8L1553.0,341.7L1553.2,344.0L1553.4,345.7L1553.9,348.2L1554.2,351.6L1554.3,352.2L1554.8,344.7L1554.9,345.5L1555.2,345.9L1555.7,337.3L1555.7,339.3L1556.1,345.5L1556.4,353.4L1556.6,354.1L1557.0,367.6L1557.0,364.1L1557.5,364.7L1557.8,361.4L1557.9,358.2L1558.4,359.1L1558.5,355.3L1558.8,356.9L1559.3,350.5L1559.7,351.7L1559.8,349.7L1560.2,346.1L1560.6,345.3L1561.0,344.0L1561.1,344.7L1561.5,344.7L1561.9,347.4L1562.0,347.6L1562.4,350.8L1562.9,350.6L1562.9,352.5L1563.3,352.0L1563.8,353.8L1563.8,355.0L1564.2,356.7L1564.7,360.1L1564.7,359.1L1565.1,356.5L1565.6,356.3L1565.9,353.1L1566.0,353.9L1566.5,351.5L1566.9,347.8L1567.0,346.8L1567.4,345.0L1567.8,344.0L1568.0,345.5L1568.3,343.5L1568.7,345.1L1568.9,344.0L1569.2,344.5L1569.6,341.8L1569.8,342.1L1570.1,341.8L1570.5,337.8L1570.8,340.2L1571.0,343.4L1571.4,345.9L1571.5,349.7L1571.9,356.0L1572.3,359.1L1572.3,359.6L1572.8,362.8L1573.2,360.5L1573.2,363.3L1573.7,362.4L1574.1,365.1L1574.2,367.6L1574.6,365.8L1575.0,364.5L1575.1,363.8L1575.5,363.2L1575.9,360.4L1576.1,360.1L1576.4,362.7L1576.8,362.6L1577.0,364.4L1577.3,365.0L1577.7,367.7L1578.0,368.6L1578.2,369.3L1578.6,370.1L1579.1,375.5L1579.1,374.2L1579.5,378.1L1580.0,379.9L1580.2,379.9L1580.4,378.7L1580.9,376.3L1581.3,375.5L1581.4,374.6L1581.8,372.4L1582.2,371.1L1582.5,369.5L1582.7,369.2L1583.1,374.2L1583.4,376.1L1583.6,376.6L1584.0,379.0L1584.4,382.7L1584.5,383.6L1584.9,383.0L1585.4,380.6L1585.5,380.8L1585.8,379.7L1586.3,380.2L1586.7,379.1L1586.8,378.9L1587.2,381.0L1587.4,381.8L1587.6,382.3L1588.1,384.6L1588.2,384.6L1588.5,383.2L1589.0,381.9L1589.3,382.2L1589.4,381.7L1589.9,380.1L1590.2,379.9L1590.3,378.6L1590.8,386.8L1591.2,388.4L1591.2,387.0L1591.7,389.6L1591.9,396.9L1592.1,396.6L1592.6,397.6L1592.7,402.6L1593.0,407.0L1593.5,408.2L1593.5,412.9L1593.9,409.5L1594.4,417.7L1594.4,419.6L1594.8,428.1L1595.3,427.4L1595.3,430.9L1595.7,439.1L1596.1,438.5L1596.2,435.8L1596.6,445.9L1596.9,446.0L1597.1,442.4L1597.5,438.5L1597.6,435.6L1598.0,432.2L1598.2,425.2L1598.4,419.8L1598.9,420.4L1599.1,416.7L1599.3,416.2L1599.8,412.2L1600.1,408.2L1600.2,406.7L1600.7,405.6L1601.1,406.2L1601.4,404.5L1601.6,405.9L1602.0,402.3L1602.5,400.5L1602.5,400.7L1602.9,402.7L1603.4,404.8L1603.7,404.8L1603.8,404.9L1604.3,407.1L1604.7,407.1L1604.8,409.2L1605.2,408.2L1605.6,413.8L1606.1,416.3L1606.3,415.4L1606.5,414.1L1607.0,417.0L1607.4,418.0L1607.6,421.5L1607.9,423.0L1608.3,425.7L1608.8,423.1L1609.2,427.6L1609.5,427.1L1609.7,428.3L1610.1,430.8L1610.6,429.4L1611.0,432.5L1611.4,432.8L1611.5,431.2L1611.9,434.0L1612.4,434.3L1612.8,438.2L1613.3,438.8L1613.7,438.8L1613.9,440.3L1614.2,441.2L1614.6,444.4L1615.1,445.1L1615.5,447.5L1616.0,447.2L1616.1,447.9L1616.4,448.1L1616.9,452.8L1617.3,451.5L1617.8,455.3L1618.0,454.5L1618.2,455.6L1618.7,456.4L1619.1,457.4L1619.6,459.7L1619.9,461.1L1620.0,461.9L1620.5,462.0L1620.9,460.5L1621.2,461.2L1621.4,463.6L1621.8,463.3L1622.2,467.8L1622.3,468.9L1622.7,474.6L1623.1,474.5L1623.2,472.1L1623.6,477.7L1624.1,478.2L1624.5,483.7L1624.6,482.0L1625.0,484.5L1625.4,483.4L1625.9,488.0L1626.0,489.6L1626.3,491.0L1626.8,491.4L1627.2,492.1L1627.3,495.2L1627.7,496.5L1628.1,497.9L1628.6,498.8L1628.8,500.9L1629.0,500.5L1629.5,504.7L1629.9,506.7L1630.4,507.8L1630.7,507.5L1630.8,510.0L1631.3,509.8L1631.7,510.6L1632.2,511.3L1632.6,514.1L1632.6,513.9L1633.1,515.9L1633.5,515.5L1634.0,517.3L1634.4,517.3L1634.5,518.8L1634.9,518.8L1635.3,521.0L1635.8,523.5L1636.2,523.8L1636.3,523.6L1636.7,523.2L1637.1,524.1L1637.6,526.4L1638.0,525.8L1638.2,527.3L1638.5,527.3L1638.9,529.0L1639.4,529.0L1639.8,531.0L1640.1,531.1L1640.3,532.2L1640.7,532.8L1641.2,533.1L1641.6,534.4L1642.0,534.5L1642.1,533.9L1642.5,534.7L1643.0,535.6L1643.4,536.8L1643.9,537.7L1643.9,537.7L1644.3,538.4L1644.8,538.9L1645.2,538.5L1645.7,538.7L1645.8,539.2L1646.1,539.4L1646.6,539.9L1647.0,540.5L1647.5,540.7L1647.7,540.6L1647.9,540.2L1648.4,541.2L1648.8,540.7L1649.3,541.7L1649.6,541.5L1649.7,541.4L1650.2,541.7L1650.6,542.5L1651.1,542.1L1651.5,542.5L1651.5,543.1L1652.0,542.8L1652.4,543.9L1652.9,544.1L1653.3,544.8L1653.3,545.3L1653.8,546.6L1654.2,547.0L1654.7,546.7L1655.1,548.5L1655.2,548.1L1655.6,548.0L1656.0,549.1L1656.5,549.4L1656.9,550.1L1657.1,550.2L1657.4,550.1L1657.8,550.8L1658.3,551.5L1658.7,552.2L1659.0,552.3L1659.2,552.7L1659.6,552.3L1660.1,552.0L1660.5,553.1L1660.9,552.7L1661.0,552.3L1661.4,552.8L1661.9,553.0L1662.3,552.6L1662.8,552.6L1662.8,552.8L1663.2,552.5L1663.7,551.8L1664.1,551.4L1664.6,551.0L1664.9,550.4L1665.0,550.7L1665.5,550.0L1665.9,549.2L1666.4,548.3L1666.8,548.1L1666.9,548.1L1667.3,548.5L1667.7,548.5L1668.2,549.5L1668.6,549.2L1668.6,549.6L1669.1,549.7L1669.5,550.7L1670.0,550.8L1670.3,551.0L1670.4,550.7L1670.9,551.0L1671.3,551.0L1671.8,551.6L1672.2,551.9L1672.2,551.9L1672.7,552.0L1673.1,552.5L1673.6,552.9L1674.0,553.1L1674.1,552.8L1674.5,552.5L1674.9,552.1L1675.3,552.1L1675.4,552.5L1675.8,551.9L1676.3,551.7L1676.4,551.5L1676.7,551.8L1677.2,552.8L1677.6,553.2L1678.1,553.8L1678.5,554.0L1678.5,553.6L1679.0,555.1L1679.4,554.6L1679.9,555.2L1680.3,556.0L1680.7,556.6L1680.8,556.9L1681.2,557.8L1681.7,559.3L1682.1,559.8L1682.1,559.4L1682.6,560.6L1683.0,562.5L1683.5,563.1L1683.6,563.2L1683.9,563.9L1684.4,563.8L1684.8,564.9L1685.3,564.6L1685.5,565.1L1685.7,565.7L1686.2,565.5L1686.6,566.7L1687.1,566.8L1687.3,567.0L1687.5,566.8L1688.0,568.0L1688.4,567.7L1688.9,568.8L1689.0,568.9L1689.3,569.4L1689.8,569.3L1690.2,570.2L1690.7,570.6L1690.7,570.8" stroke="#ff7f0e"/>
<path d="M92.3,527.1L92.9,527.4L93.5,527.2L94.1,527.5L94.2,527.3L94.7,526.6L95.3,526.2L95.9,526.8L96.5,525.8L97.0,525.8L97.1,526.4L97.7,525.9L98.3,526.5L98.9,526.2L99.5,526.5L100.1,526.1L100.7,526.7L100.8,526.6L101.3,526.6L101.9,526.8L102.5,526.7L103.1,526.1L103.7,526.8L104.3,526.6L104.9,526.3L105.5,526.0L106.1,526.9L106.7,526.4L107.3,526.7L107.9,526.8L108.3,526.4L108.5,526.9L109.1,526.3L109.7,526.7L110.3,526.3L110.9,526.9L111.5,526.8L112.1,526.0L112.7,526.0L113.3,526.1L113.9,526.9L114.5,526.3L115.1,526.5L115.7,526.2L116.3,526.4L116.9,526.3L117.5,526.2L117.8,526.4L118.1,526.5L118.7,527.0L119.3,526.8L119.9,527.1L120.5,527.1L121.1,527.4L121.7,527.1L122.3,526.6L122.9,527.4L123.5,527.6L124.1,527.6L124.7,527.3L125.3,527.6L125.3,527.3L125.9,527.7L126.5,527.4L127.1,527.1L127.7,526.9L128.3,527.7L128.9,527.9L129.5,526.9L130.1,527.7L130.7,527.2L131.3,527.0L131.9,527.1L132.5,527.6L132.9,527.3L133.1,526.8L133.7,527.2L134.3,526.4L134.9,526.9L135.5,526.3L136.1,526.6L136.7,526.0L136.7,526.0L137.3,526.5L137.9,525.7L138.5,525.4L139.1,526.0L139.7,525.3L140.3,525.5L140.9,525.7L141.5,525.9L142.1,525.3L142.7,525.2L143.3,526.0L143.9,525.4L144.5,526.1L145.1,526.0L145.7,525.3L146.1,525.5L146.3,525.4L146.9,525.5L147.5,525.3L148.1,525.1L148.7,525.1L149.3,525.3L149.9,524.7L150.5,524.5L151.1,524.7L151.7,524.1L152.3,524.0L152.9,524.6L153.5,524.0L154.1,523.9L154.7,523.2L155.3,523.5L155.6,523.6L155.9,523.0L156.5,523.5L157.1,523.3L157.7,522.6L158.3,523.1L158.9,522.7L159.5,522.8L160.1,522.3L160.7,522.6L161.3,522.5L161.9,521.5L162.5,521.4L163.1,522.0L163.7,522.1L164.3,521.2L164.9,521.3L165.0,521.3L165.5,521.0L166.1,520.9L166.7,520.7L167.3,520.7L167.9,520.8L168.5,520.3L169.1,520.3L169.7,520.6L170.3,519.6L170.9,520.1L171.5,520.1L172.1,519.5L172.7,519.3L173.3,519.8L173.9,519.1L174.5,519.2L174.5,519.1L175.1,519.2L175.7,518.3L176.3,518.4L176.9,518.2L177.5,518.5L178.1,517.8L178.7,518.1L179.2,517.5L179.3,517.3L179.9,517.2L180.5,517.1L181.1,516.2L181.7,515.6L182.3,515.1L182.9,515.1L183.0,515.1L183.5,515.4L184.1,515.3L184.7,514.6L185.3,514.6L185.9,515.2L186.5,514.9L187.1,515.1L187.7,514.7L187.7,514.3L188.3,514.4L188.9,514.8L189.5,514.1L190.1,514.1L190.7,514.1L191.3,514.0L191.9,513.9L192.5,514.3L193.1,513.4L193.3,513.7L193.7,514.2L194.3,514.0L194.9,514.0L195.5,513.2L196.1,513.7L196.7,513.5L197.3,512.6L197.9,513.1L198.1,512.8L198.5,512.8L199.1,512.5L199.7,512.0L200.3,511.9L200.9,511.6L201.5,511.2L202.1,511.6L202.7,511.1L202.8,511.3L203.3,510.5L203.9,511.2L204.5,510.7L205.1,510.6L205.7,510.3L206.3,510.0L206.9,509.3L207.5,508.4L208.1,508.9L208.5,508.5L208.7,508.1L209.3,508.1L209.9,507.6L210.5,507.1L211.1,507.4L211.7,506.6L212.2,506.2L212.3,505.9L212.9,506.5L213.5,505.9L214.1,506.1L214.7,505.5L215.3,505.2L215.9,505.5L216.5,505.7L217.0,505.2L217.1,505.5L217.7,505.4L218.3,505.0L218.9,504.8L219.5,503.7L220.1,504.1L220.7,504.2L220.7,503.7L221.3,503.7L221.9,503.9L222.5,504.3L223.1,504.4L223.6,504.7L223.7,504.9L224.3,503.7L224.9,503.4L225.5,503.0L226.1,502.4L226.7,501.8L227.3,504.3L227.3,502.7L227.9,499.8L228.5,500.4L229.1,498.6L229.2,498.9L229.7,495.8L230.2,493.5L230.3,493.1L230.9,488.6L231.1,487.4L231.5,486.7L232.1,485.4L232.7,486.6L233.3,486.5L233.9,485.3L234.0,485.4L234.5,484.6L235.1,484.4L235.7,484.5L236.3,484.5L236.8,483.5L236.9,484.1L237.5,482.9L238.1,481.5L238.7,480.4L239.3,480.0L239.9,480.0L240.5,478.0L240.6,478.4L240.9,472.5L241.1,471.5L241.7,472.1L242.1,471.8L242.3,467.2L242.8,461.2L242.9,460.9L243.5,461.9L244.1,461.4L244.3,459.2L244.7,460.6L245.3,458.9L245.9,457.8L245.9,457.8L246.5,457.9L247.1,459.3L247.7,459.6L248.1,459.8L248.3,460.5L248.9,460.8L249.5,461.6L250.0,461.6L250.1,460.7L250.7,462.6L251.3,461.8L251.9,462.7L252.5,465.4L253.1,463.5L253.7,464.2L253.8,465.6L254.3,468.4L254.9,466.9L255.5,467.5L256.1,471.9L256.6,471.3L256.7,473.1L257.3,473.9L257.9,476.1L258.5,478.0L258.5,476.4L259.1,478.0L259.7,475.9L260.3,478.6L260.9,478.5L261.5,479.4L262.1,478.8L262.3,479.8L262.7,480.8L263.3,479.9L263.9,480.8L264.5,481.6L265.1,482.3L265.1,482.0L265.7,481.7L266.3,481.9L266.9,482.4L267.5,482.7L268.1,482.4L268.7,482.5L269.3,482.6L269.9,482.6L270.5,482.8L270.8,483.0L271.1,483.0L271.7,483.5L272.3,482.9L272.9,483.2L273.5,482.6L274.1,483.2L274.7,483.2L275.3,483.1L275.5,483.0L275.9,483.0L276.5,483.3L277.1,483.7L277.7,483.0L278.3,483.1L278.3,483.5L278.9,483.7L279.5,483.0L280.1,482.7L280.7,482.8L281.3,481.6L281.7,482.0L281.9,481.3L282.5,481.1L283.1,479.8L283.7,478.9L284.0,478.8L284.3,479.4L284.9,478.9L285.5,479.5L286.1,479.4L286.7,480.1L287.3,480.1L287.8,480.1L287.9,479.8L288.5,480.0L289.1,481.6L289.7,482.1L290.3,482.2L290.6,483.4L290.9,483.3L291.5,485.2L292.1,484.3L292.7,487.0L293.3,486.5L293.5,486.8L293.9,487.0L294.5,488.1L295.1,488.5L295.7,488.5L296.3,488.8L296.9,489.6L297.2,489.6L297.5,489.6L298.1,490.6L298.7,491.3L299.3,491.0L299.9,491.2L300.5,491.7L301.0,492.4L301.1,492.6L301.7,493.2L302.3,493.3L302.9,492.9L303.5,493.1L304.1,493.5L304.7,493.7L305.3,494.5L305.7,494.5L305.9,495.0L306.5,494.5L307.1,495.4L307.7,495.0L308.3,495.3L308.9,495.9L309.5,495.4L310.1,495.6L310.5,496.2L310.7,496.0L311.3,496.3L311.9,496.8L312.5,497.2L313.1,496.7L313.7,497.3L314.3,497.6L314.9,497.9L315.2,498.1L315.5,498.3L316.1,498.9L316.7,498.4L317.3,498.8L317.9,498.5L318.5,498.9L319.1,499.5L319.7,499.1L319.9,499.6L320.3,500.1L320.9,499.5L321.5,500.6L322.1,500.2L322.7,500.8L323.3,501.0L323.9,500.7L324.5,501.3L325.1,501.5L325.6,501.5L325.7,501.2L326.3,501.9L326.9,502.3L327.5,502.1L328.1,502.1L328.7,501.8L329.3,502.3L329.9,502.3L330.5,502.8L331.1,502.9L331.2,502.8L331.7,502.5L332.3,503.2L332.9,503.3L333.5,502.9L334.1,503.9L334.7,503.7L335.3,503.3L335.9,504.3L336.5,503.6L337.1,503.9L337.7,504.5L337.9,504.3L338.3,504.4L338.9,504.7L339.5,504.6L340.1,504.5L340.7,504.5L341.3,504.5L341.9,505.3L342.5,505.5L343.1,505.4L343.7,505.7L344.3,505.4L344.5,505.6L344.9,505.5L345.5,506.2L346.1,505.3L346.7,505.9L347.3,505.7L347.9,506.3L348.5,505.9L349.1,506.0L349.2,506.2L349.7,506.4L350.3,506.9L350.9,506.7L351.5,507.5L352.1,506.9L352.7,507.3L353.3,507.4L353.9,507.6L353.9,508.1L354.5,508.0L355.1,507.1L355.7,506.8L356.3,506.7L356.7,506.6L356.9,506.9L357.5,506.7L358.1,506.5L358.7,505.9L359.3,506.1L359.6,506.2L359.9,506.3L360.5,506.5L361.1,506.2L361.7,506.4L362.3,507.2L362.9,506.5L363.4,507.1L363.5,507.6L364.1,507.6L364.7,506.9L365.3,507.1L365.9,507.1L366.5,507.1L367.1,507.5L367.1,506.9L367.7,507.2L368.3,508.3L368.9,508.3L369.5,508.9L370.0,509.2L370.1,508.6L370.7,509.2L371.3,508.8L371.9,508.3L372.5,508.1L372.8,507.9L373.1,507.6L373.7,507.9L374.3,507.4L374.9,508.0L375.5,508.1L376.1,507.9L376.7,508.1L377.3,508.5L377.9,508.5L378.5,508.1L378.5,508.4L379.1,508.2L379.7,507.6L380.3,508.0L380.9,507.9L381.5,507.8L382.1,508.3L382.7,508.8L383.3,508.1L383.9,508.8L384.5,508.6L385.1,508.0L385.7,508.8L386.0,508.5L386.3,509.0L386.9,508.9L387.5,509.2L388.1,508.9L388.7,509.6L389.3,509.9L389.8,509.6L389.9,509.5L390.5,510.0L391.1,509.8L391.7,509.5L392.3,509.6L392.9,509.7L393.5,510.0L393.6,510.3L394.1,510.5L394.7,510.9L395.3,510.9L395.9,511.0L396.5,511.4L397.1,511.2L397.7,511.6L398.3,512.1L398.9,511.9L399.5,511.8L400.0,512.3L400.1,512.6L400.7,512.5L401.3,512.8L401.9,513.3L402.5,513.7L403.1,513.6L403.7,513.6L403.8,514.2L404.3,514.8L404.9,514.4L405.5,515.0L406.1,515.0L406.7,515.4L407.3,515.6L407.6,516.1L407.9,515.9L408.5,515.9L409.1,516.2L409.7,516.4L410.3,517.0L410.9,516.7L411.5,516.9L412.1,517.5L412.3,517.6L412.7,517.9L413.3,517.2L413.9,517.7L414.5,517.7L415.1,517.3L415.7,518.4L416.3,517.6L416.9,517.6L417.0,518.0L417.5,517.5L418.1,517.9L418.7,517.4L419.3,517.0L419.9,516.8L420.5,517.4L420.8,517.1L421.1,517.2L421.7,516.6L422.3,516.8L422.9,515.8L423.5,515.4L424.1,515.2L424.6,515.2L424.7,515.2L425.3,514.4L425.9,513.6L426.5,514.0L427.1,514.1L427.7,513.0L428.3,511.5L428.3,512.2L428.9,511.1L429.5,510.7L430.1,509.9L430.7,509.3L431.3,510.0L431.9,510.1L432.1,508.8L432.5,509.7L433.1,507.8L433.7,508.0L434.3,507.7L434.9,507.1L435.5,503.9L435.9,504.7L436.1,504.9L436.7,505.1L437.3,501.8L437.9,501.7L438.5,502.5L439.1,499.8L439.7,500.0L439.7,499.7L440.3,500.0L440.9,500.0L441.5,498.0L442.1,498.6L442.7,498.1L443.3,497.7L443.9,496.8L444.4,496.4L444.5,496.0L445.1,495.6L445.7,494.8L446.3,495.3L446.9,494.3L447.5,493.3L448.1,492.5L448.7,493.4L449.1,492.6L449.3,492.8L449.9,491.0L450.5,490.3L450.6,489.9L451.1,490.1L451.7,488.0L451.9,488.7L452.3,489.0L452.9,488.6L453.5,487.7L454.1,487.6L454.7,488.0L455.2,487.4L455.3,487.8L455.9,487.5L456.5,486.8L457.1,487.0L457.7,486.6L458.3,485.8L458.6,485.9L458.9,484.9L459.5,484.8L460.1,485.3L460.7,482.9L461.3,483.3L461.9,481.7L462.3,482.0L462.5,482.3L463.1,480.8L463.7,479.7L464.3,479.4L464.9,479.9L465.5,479.2L466.1,477.3L466.1,478.2L466.7,478.9L467.3,476.5L467.9,476.7L468.5,475.8L469.1,476.0L469.7,475.0L470.3,474.9L470.8,473.6L470.9,472.8L471.5,472.1L472.1,471.2L472.7,472.4L473.3,470.0L473.9,469.1L474.5,470.9L475.1,468.2L475.6,468.7L475.7,467.3L476.3,467.6L476.9,466.3L477.5,467.2L478.1,465.9L478.7,465.3L479.3,465.0L479.3,464.4L479.9,463.0L480.5,463.1L481.1,461.8L481.7,460.2L482.3,461.3L482.9,460.0L483.1,459.6L483.5,458.6L484.1,458.9L484.7,458.4L485.3,458.3L485.9,457.1L486.0,457.6L486.5,457.2L487.1,455.9L487.7,456.6L488.3,456.8L488.8,455.6L488.9,456.0L489.5,454.3L490.1,451.3L490.7,450.8L490.7,452.9L491.3,448.8L491.9,447.7L492.5,444.8L492.6,446.0L493.1,444.0L493.7,445.9L494.3,444.0L494.5,443.1L494.9,443.9L495.5,441.9L496.1,441.9L496.3,440.6L496.7,440.2L497.3,440.7L497.9,440.4L498.2,439.7L498.5,439.5L499.1,439.7L499.7,438.7L500.1,439.0L500.3,439.7L500.9,436.6L501.5,437.4L501.6,435.7L502.1,433.7L502.7,434.2L503.0,432.9L503.3,433.2L503.9,433.8L504.5,433.4L505.1,434.6L505.4,434.5L505.7,434.5L506.3,434.4L506.9,435.5L507.5,435.8L507.7,434.7L508.1,431.8L508.7,430.3L509.2,429.2L509.3,427.2L509.9,425.4L510.5,425.6L510.5,424.7L511.1,426.5L511.7,426.1L512.3,425.8L512.4,425.4L512.9,425.1L513.5,425.2L514.1,425.4L514.3,425.4L514.7,425.1L515.3,424.3L515.9,424.4L516.2,423.5L516.5,423.2L517.1,423.3L517.7,422.5L518.1,421.6L518.3,421.2L518.9,421.7L519.5,420.5L520.0,420.9L520.1,420.9L520.7,420.5L521.3,419.4L521.8,419.6L521.9,419.0L522.5,419.6L523.1,417.8L523.7,418.7L523.7,417.2L524.3,417.9L524.9,413.5L525.5,413.3L525.6,413.8L526.1,413.2L526.7,412.2L527.3,410.5L527.5,411.3L527.9,410.9L528.5,413.1L529.0,414.9L529.1,416.2L529.7,416.2L530.3,417.1L530.3,417.7L530.9,416.5L531.5,415.9L532.1,414.8L532.2,414.1L532.7,413.9L533.3,410.3L533.9,408.5L534.1,409.6L534.5,409.1L535.1,405.6L535.1,406.9L535.7,403.4L536.0,401.7L536.3,401.1L536.9,402.1L537.5,405.3L537.5,405.2L538.1,407.2L538.7,407.1L538.8,407.6L539.3,407.9L539.9,407.1L540.5,406.5L540.7,406.1L541.1,406.0L541.7,404.1L542.3,403.7L542.6,404.8L542.9,405.7L543.5,401.8L543.9,399.9L544.1,398.9L544.7,397.5L545.3,397.0L545.5,395.2L545.9,397.6L546.5,396.4L547.0,398.0L547.1,398.3L547.7,398.9L548.3,400.6L548.3,400.0L548.9,400.1L549.5,399.5L550.1,398.5L550.2,399.0L550.7,398.8L551.3,398.4L551.9,397.8L552.1,398.1L552.5,398.3L553.1,395.4L553.4,395.9L553.7,396.5L554.3,398.8L554.9,401.8L554.9,401.1L555.5,400.7L556.1,399.1L556.7,399.9L556.8,398.9L557.3,398.2L557.9,398.8L558.5,396.8L558.7,397.0L559.1,397.9L559.7,397.0L560.2,395.2L560.3,394.9L560.9,393.9L561.5,392.7L561.5,393.3L562.1,395.6L562.7,394.9L562.8,396.1L563.3,396.0L563.9,396.4L564.3,398.1L564.5,398.6L565.1,398.8L565.7,398.8L566.3,399.2L566.6,399.0L566.9,398.8L567.5,399.9L568.1,397.5L568.7,398.1L569.1,399.0L569.3,397.0L569.9,395.1L570.0,393.9L570.5,391.4L571.0,390.9L571.1,389.0L571.7,391.6L572.3,389.4L572.3,391.1L572.9,389.6L573.5,389.3L573.8,389.0L574.1,388.7L574.7,389.9L575.3,389.8L575.9,390.2L576.1,390.7L576.5,391.5L577.1,390.8L577.7,392.4L578.3,392.3L578.5,392.4L578.9,392.1L579.5,392.7L580.1,393.8L580.4,393.3L580.7,393.1L581.3,393.6L581.9,394.0L582.3,394.8L582.5,395.6L583.1,394.7L583.7,395.3L584.2,396.2L584.3,397.0L584.9,397.4L585.5,397.2L585.5,397.5L586.1,398.2L586.7,397.9L587.0,398.1L587.3,397.1L587.9,394.9L588.0,395.2L588.5,395.5L588.9,395.2L589.1,395.6L589.7,396.3L590.3,397.4L590.4,397.5L590.9,398.1L591.5,399.5L591.7,398.9L592.1,399.4L592.7,400.3L593.3,400.4L593.9,399.9L594.5,401.1L594.9,400.9L595.1,400.6L595.7,401.0L596.3,401.3L596.9,401.3L597.5,403.1L598.1,402.5L598.3,402.9L598.7,402.4L599.3,402.8L599.9,405.7L600.5,406.3L600.6,405.9L601.1,406.8L601.7,407.1L602.3,408.7L602.9,407.2L603.1,408.9L603.5,409.2L604.1,409.0L604.7,411.4L605.3,411.2L605.5,412.2L605.9,412.3L606.5,413.1L607.1,414.3L607.7,416.2L607.8,416.4L608.3,418.7L608.9,419.6L609.5,420.7L609.7,419.6L610.1,422.4L610.7,420.9L611.3,421.5L611.6,423.6L611.9,424.8L612.5,424.1L613.1,425.9L613.7,425.4L614.3,428.1L614.4,426.9L614.9,427.4L615.5,428.3L616.1,429.8L616.7,430.8L617.2,430.2L617.3,430.1L617.9,431.1L618.5,430.4L619.1,431.8L619.7,433.4L620.1,433.1L620.3,432.2L620.9,434.6L621.5,434.1L622.1,436.2L622.7,435.3L622.9,435.7L623.3,436.4L623.9,437.9L624.5,437.4L625.1,439.3L625.7,439.6L625.7,439.0L626.3,439.1L626.9,440.4L627.5,440.8L628.1,441.4L628.6,442.6L628.7,444.1L629.3,444.1L629.9,443.4L630.5,444.8L631.1,446.5L631.4,447.6L631.7,446.7L632.3,447.5L632.9,449.6L633.5,450.6L634.1,450.7L634.2,452.9L634.7,455.0L635.3,454.3L635.9,455.7L636.1,455.5L636.5,456.6L637.1,457.4L637.7,457.0L638.0,457.6L638.3,457.0L638.9,458.6L639.5,458.2L640.1,458.7L640.7,459.5L641.3,459.1L641.8,459.6L641.9,460.0L642.5,460.1L643.1,459.9L643.7,460.2L644.3,460.8L644.9,460.7L645.5,462.1L645.6,461.7L646.1,461.8L646.7,462.4L647.3,463.1L647.9,463.4L648.5,464.3L649.1,464.8L649.4,464.7L649.7,464.3L650.3,466.4L650.9,466.4L651.5,465.8L652.1,467.0L652.7,468.0L653.1,468.0L653.3,467.4L653.9,467.7L654.5,468.8L655.1,469.1L655.7,470.1L656.3,470.4L656.9,470.2L656.9,470.4L657.5,470.8L658.1,471.5L658.7,471.1L659.3,471.7L659.9,471.6L660.5,472.8L660.7,472.6L661.1,473.8L661.7,473.7L662.3,474.4L662.9,473.9L663.5,474.9L663.5,475.5L664.1,476.9L664.7,476.8L665.3,476.7L665.9,479.3L666.4,478.4L666.5,478.6L667.1,478.5L667.7,479.7L668.2,481.4L668.3,480.1L668.9,482.1L669.5,483.1L670.1,483.3L670.1,483.7L670.7,484.6L671.3,484.6L671.9,484.7L672.5,484.4L673.1,484.5L673.7,485.2L673.9,485.3L674.3,485.1L674.9,486.1L675.5,485.6L676.1,486.6L676.7,486.9L677.3,486.3L677.7,486.9L677.9,486.9L678.5,487.1L679.1,487.6L679.7,487.8L680.3,489.1L680.5,489.3L680.9,490.2L681.5,490.7L682.1,489.8L682.7,490.9L683.3,491.3L683.4,491.5L683.9,491.6L684.5,492.1L685.1,493.3L685.6,493.4L685.7,492.8L686.3,493.5L686.9,494.3L687.5,495.0L688.1,495.3L688.1,495.6L688.7,495.2L689.3,495.9L689.9,496.0L690.5,495.7L691.1,496.5L691.3,496.3L691.7,496.4L692.3,496.7L692.9,496.9L693.5,496.8L694.1,496.6L694.7,497.5L694.7,497.2L695.3,497.4L695.9,497.6L696.5,497.5L697.1,498.3L697.5,498.0L697.7,497.7L698.3,498.5L698.9,498.9L699.5,498.3L700.1,499.2L700.4,498.7L700.7,498.6L701.3,499.6L701.9,499.6L702.5,500.5L703.1,500.8L703.7,500.5L704.1,501.4L704.3,501.9L704.9,501.8L705.5,502.3L706.1,503.1L706.7,503.0L707.3,503.4L707.9,503.9L707.9,503.8L708.5,503.8L709.1,504.0L709.7,505.1L710.3,505.2L710.9,505.3L711.3,505.7L711.5,506.2L712.1,506.1L712.7,506.8L713.3,506.9L713.9,507.1L714.5,506.8L714.5,507.1L715.1,507.3L715.7,507.4L716.3,507.0L716.9,507.2L717.5,507.3L718.1,507.0L718.7,507.5L719.3,507.4L719.9,507.2L720.0,507.3L720.5,507.5L721.1,507.4L721.7,508.0L722.3,507.5L722.9,507.9L723.4,508.1L723.5,508.0L724.1,508.3L724.7,508.0L725.3,508.1L725.9,508.7L726.5,508.5L726.6,508.9L727.1,509.0L727.7,509.5L727.9,510.2L728.3,510.9L728.9,511.2L729.4,511.1L729.5,511.0L730.1,510.7L730.7,511.0L731.3,511.1L731.9,511.8L732.5,510.9L733.1,511.9L733.7,511.4L734.2,511.5L734.3,511.2L734.9,512.0L735.5,511.2L736.1,511.7L736.7,511.6L737.3,511.3L737.9,511.3L738.5,512.2L738.9,511.7L739.1,511.9L739.7,512.0L740.3,511.0L740.9,511.5L741.5,511.4L742.1,510.7L742.7,510.9L743.3,511.3L743.6,510.7L743.9,511.0L744.5,510.2L745.1,510.6L745.7,510.0L746.3,510.1L746.9,509.8L747.5,510.2L748.1,509.9L748.3,509.6L748.7,509.6L749.3,508.9L749.9,508.9L750.5,507.9L751.1,507.8L751.7,507.5L752.3,506.8L752.9,505.8L753.1,506.4L753.5,506.3L754.1,505.1L754.7,505.5L755.3,504.6L755.9,504.9L756.5,504.3L757.1,503.6L757.7,502.5L757.8,502.5L758.3,502.3L758.9,502.1L759.5,501.9L760.1,500.0L760.7,499.4L761.3,500.5L761.9,499.5L762.5,498.5L762.5,498.5L763.1,497.2L763.7,497.5L764.3,497.2L764.9,496.5L765.5,495.0L766.1,494.3L766.7,494.9L767.2,494.3L767.3,493.2L767.9,492.1L768.5,491.5L769.1,492.7L769.7,490.9L770.3,490.3L770.9,491.2L771.5,489.3L771.9,488.3L772.1,488.9L772.7,486.1L773.3,486.2L773.9,486.7L774.5,484.4L775.1,483.3L775.7,484.0L776.3,482.7L776.7,483.1L776.9,481.2L777.5,482.6L778.1,480.3L778.7,481.0L779.3,478.8L779.5,478.8L779.9,477.4L780.5,476.1L781.1,476.0L781.7,476.3L782.3,473.9L782.3,474.1L782.9,473.4L783.5,471.7L784.1,471.7L784.7,471.7L785.3,470.9L785.9,470.4L786.5,468.8L787.1,467.3L787.6,467.8L787.7,467.5L788.3,466.4L788.9,466.8L789.5,465.2L790.1,465.9L790.7,464.8L791.3,464.4L791.9,463.9L792.5,462.4L792.7,461.9L793.1,460.1L793.3,459.8L793.7,459.4L793.7,459.2L794.3,457.0L794.9,459.4L795.5,457.4L796.1,456.8L796.7,455.6L797.3,454.2L797.9,455.8L798.4,453.7L798.5,453.4L799.1,454.4L799.7,451.5L800.3,451.8L800.9,451.1L801.5,449.9L802.1,451.0L802.7,449.0L803.1,448.6L803.3,448.6L803.9,446.8L804.5,447.9L805.1,447.7L805.7,447.2L806.0,445.8L806.3,446.0L806.9,444.6L807.5,444.4L808.1,443.4L808.7,442.9L808.8,443.0L809.3,443.0L809.9,441.8L810.5,442.6L811.1,441.6L811.1,442.2L811.7,440.4L812.3,439.7L812.9,441.3L813.5,440.4L813.5,440.4L814.1,437.5L814.1,437.7L814.5,436.4L814.7,437.1L815.3,437.3L815.9,438.5L816.0,437.8L816.5,437.6L817.1,438.5L817.3,438.4L817.7,437.7L818.3,437.8L818.6,436.6L818.9,435.7L819.5,435.3L820.1,435.1L820.1,434.2L820.7,430.7L820.7,431.6L821.1,429.7L821.3,430.1L821.9,430.4L822.4,431.7L822.5,432.2L823.1,432.5L823.7,433.1L823.9,432.7L824.3,431.8L824.9,431.0L825.4,430.5L825.5,429.7L826.1,430.2L826.7,429.5L826.7,428.7L827.3,425.7L827.9,423.3L828.1,424.0L828.5,422.6L829.1,419.4L829.6,418.9L829.7,418.7L830.3,417.1L830.9,416.7L831.5,415.9L831.5,417.2L832.1,416.5L832.7,414.2L833.3,414.8L833.3,413.6L833.9,410.9L834.3,410.4L834.5,408.7L835.1,408.2L835.2,407.3L835.7,407.2L836.2,405.0L836.3,406.2L836.9,403.9L837.1,403.4L837.5,403.8L838.1,404.2L838.6,404.8L838.7,404.7L839.3,405.2L839.9,405.5L840.0,405.3L840.5,404.2L841.1,404.8L841.7,404.1L841.8,403.2L842.3,404.1L842.9,400.4L843.5,402.0L843.7,400.9L844.1,398.5L844.7,399.2L845.1,398.4L845.3,397.2L845.9,397.8L846.5,396.8L846.6,395.9L847.1,395.8L847.7,396.2L848.1,396.9L848.3,396.7L848.9,396.4L849.4,396.8L849.5,398.1L850.1,393.9L850.7,391.3L850.7,393.4L851.3,390.9L851.9,389.7L852.2,389.7L852.5,388.1L853.1,386.6L853.7,388.9L854.1,386.7L854.3,385.8L854.9,387.0L855.5,384.6L856.0,384.7L856.1,384.2L856.7,383.7L857.3,383.2L857.9,383.4L858.5,383.0L858.8,382.7L859.1,382.5L859.7,381.8L860.3,382.2L860.9,382.0L861.5,381.4L861.7,380.8L862.1,379.6L862.7,379.3L863.3,378.2L863.6,378.6L863.9,380.4L864.5,379.6L865.1,379.0L865.5,377.0L865.7,374.0L865.8,374.1L866.3,371.3L866.4,372.5L866.9,372.1L867.5,372.8L867.7,373.8L868.1,373.3L868.7,374.4L869.2,374.2L869.3,374.4L869.9,373.9L870.5,375.0L871.1,374.6L871.7,374.7L872.3,375.2L872.6,375.1L872.9,374.8L873.5,374.7L874.1,375.2L874.7,374.4L875.3,375.9L875.8,375.1L875.9,374.3L876.5,372.8L876.8,372.2L877.1,371.3L877.7,370.6L877.7,370.4L878.3,371.0L878.9,372.2L879.1,372.8L879.5,373.8L880.1,373.6L880.6,374.3L880.7,373.7L881.3,370.5L881.5,370.7L881.9,371.3L882.5,368.5L882.5,368.0L883.1,368.0L883.7,368.3L884.0,367.1L884.3,366.8L884.9,366.6L885.3,366.6L885.5,366.9L886.1,367.6L886.6,368.3L886.7,368.2L887.3,368.7L887.9,370.1L888.1,369.2L888.5,372.2L889.1,371.4L889.1,373.1L889.7,372.1L890.0,374.4L890.3,373.6L890.9,373.6L891.5,375.7L891.9,376.1L892.1,376.7L892.7,377.2L893.3,378.0L893.8,376.8L893.9,376.4L894.5,373.5L894.7,373.7L895.1,372.6L895.7,372.0L895.7,371.5L896.3,372.8L896.9,371.9L897.5,372.2L898.1,372.0L898.5,372.1L898.7,372.5L899.3,371.7L899.9,371.7L900.5,372.6L901.1,372.0L901.3,372.3L901.7,371.4L902.3,370.9L902.9,370.6L902.9,369.9L903.5,370.1L904.1,370.7L904.2,369.3L904.7,371.5L905.3,373.4L905.5,373.3L905.9,374.8L906.5,375.7L907.0,375.8L907.1,375.2L907.7,375.6L908.3,375.7L908.9,374.4L908.9,374.7L909.5,373.8L910.1,374.2L910.7,373.3L910.8,373.2L911.3,373.2L911.9,372.4L912.5,372.8L912.7,372.5L913.1,372.7L913.7,371.8L914.3,371.5L914.6,371.7L914.9,372.6L915.5,372.6L916.1,373.2L916.1,373.6L916.7,375.1L917.3,374.3L917.4,375.0L917.9,380.1L918.0,380.1L918.3,383.4L918.5,381.7L919.1,383.9L919.7,382.0L919.9,380.9L920.3,379.9L920.9,380.3L921.2,378.9L921.5,378.8L922.1,378.7L922.5,380.3L922.7,380.9L923.3,380.6L923.9,383.3L924.0,381.8L924.5,384.2L924.6,385.1L925.0,387.5L925.1,388.0L925.7,388.3L926.3,389.2L926.3,389.1L926.9,390.6L927.5,389.7L927.8,390.2L928.1,389.9L928.7,390.3L929.3,388.7L929.3,389.7L929.9,389.3L930.5,389.9L930.6,389.1L931.1,390.8L931.2,391.9L931.6,394.0L931.7,394.4L932.3,392.7L932.9,393.9L933.5,394.7L934.1,397.0L934.4,396.4L934.7,396.8L935.3,396.8L935.9,397.9L936.5,398.7L937.1,398.9L937.2,398.6L937.7,399.0L938.3,399.6L938.9,399.3L939.5,401.2L940.1,401.1L940.1,400.8L940.7,401.9L941.3,402.3L941.9,402.6L942.5,403.9L942.9,403.5L943.1,403.3L943.7,403.3L944.3,405.2L944.9,405.4L945.5,406.6L945.7,406.8L946.1,405.9L946.7,406.7L947.3,407.7L947.9,408.2L948.5,410.8L948.6,410.1L949.1,409.9L949.7,411.7L950.3,412.1L950.9,411.4L951.5,413.5L952.1,412.9L952.3,414.0L952.7,413.3L953.3,414.3L953.9,414.8L954.5,416.8L955.1,417.3L955.7,417.3L956.1,417.5L956.3,417.6L956.9,418.8L957.5,417.9L958.1,420.5L958.7,421.0L959.3,421.8L959.9,421.8L959.9,421.4L960.5,423.1L961.1,422.0L961.7,422.7L962.3,422.8L962.9,423.5L963.5,425.8L963.7,425.0L964.1,426.4L964.7,426.2L965.3,428.4L965.6,427.8L965.9,428.7L966.5,430.1L967.1,427.7L967.5,429.7L967.7,429.9L968.3,431.7L968.9,434.1L969.4,434.9L969.5,435.9L970.1,438.1L970.7,438.7L971.2,439.2L971.3,439.4L971.9,441.6L972.5,443.0L973.1,442.5L973.1,443.0L973.7,444.7L974.3,444.4L974.9,448.1L975.0,446.5L975.5,447.9L976.1,448.0L976.7,447.8L977.3,449.5L977.9,449.9L977.9,451.0L978.5,451.4L979.1,451.2L979.7,452.3L980.3,452.9L980.7,452.5L980.9,453.2L981.5,453.6L982.1,454.2L982.7,454.2L983.3,454.2L983.5,454.4L983.9,454.9L984.5,454.7L985.1,455.9L985.7,456.0L986.3,456.9L986.4,456.3L986.9,456.5L987.5,458.3L988.1,458.4L988.7,458.4L989.2,459.2L989.3,459.1L989.9,460.2L990.5,460.5L991.1,460.7L991.7,462.4L992.0,462.1L992.3,462.5L992.9,462.2L993.5,462.4L993.9,463.0L994.1,463.4L994.7,463.4L995.3,463.0L995.8,463.5L995.9,463.6L996.5,464.1L997.1,465.2L997.7,465.5L998.3,466.7L998.6,466.8L998.9,468.2L999.5,466.7L1000.1,468.3L1000.7,469.6L1001.3,469.6L1001.5,469.6L1001.9,470.3L1002.5,469.5L1003.1,470.7L1003.7,470.9L1004.3,471.2L1004.3,471.1L1004.9,471.5L1005.5,471.2L1006.1,471.9L1006.7,471.9L1007.1,472.4L1007.3,472.8L1007.9,472.5L1008.5,473.0L1009.1,472.7L1009.6,473.0L1009.7,472.6L1010.3,474.0L1010.9,473.8L1011.5,473.9L1011.9,473.2L1012.1,475.0L1012.4,475.4L1012.7,477.4L1012.8,478.1L1013.3,476.9L1013.7,477.8L1013.9,478.8L1014.5,478.2L1015.1,477.9L1015.7,478.6L1016.3,478.2L1016.9,479.0L1017.5,478.5L1018.1,478.3L1018.7,479.4L1019.0,479.0L1019.3,478.8L1019.9,479.4L1020.5,478.8L1021.1,479.4L1021.7,479.8L1022.3,479.6L1022.9,479.5L1023.5,480.0L1024.1,480.2L1024.7,480.0L1025.0,480.0L1025.3,479.9L1025.9,480.3L1026.5,481.3L1027.1,481.6L1027.7,480.8L1028.3,481.3L1028.9,481.6L1029.5,482.6L1030.0,482.5L1030.1,482.2L1030.7,483.2L1031.3,482.9L1031.9,484.2L1032.5,483.9L1033.1,484.8L1033.7,485.1L1034.3,484.7L1034.9,485.8L1035.0,485.5L1035.5,485.5L1036.1,485.7L1036.7,487.0L1037.3,487.3L1037.9,487.2L1038.5,488.7L1039.0,488.3L1039.1,488.4L1039.7,488.2L1040.3,489.6L1040.9,492.2L1041.5,491.6L1042.1,491.0L1042.7,492.1L1043.0,493.6L1043.3,493.9L1043.8,497.0L1043.9,495.3L1044.5,498.3L1045.1,497.8L1045.7,498.5L1046.3,498.0L1046.9,498.0L1047.5,498.5L1048.1,499.3L1048.7,499.0L1049.3,499.4L1049.4,499.9L1049.9,500.5L1050.5,500.8L1051.1,501.0L1051.7,501.0L1052.3,501.6L1052.9,501.6L1053.5,501.8L1054.1,501.9L1054.7,501.7L1055.1,502.4L1055.3,502.1L1055.9,502.5L1056.5,502.2L1057.1,503.2L1057.7,502.8L1058.3,503.1L1058.9,503.4L1059.5,502.7L1060.1,503.5L1060.7,503.7L1061.3,503.0L1061.9,502.9L1062.5,503.8L1063.1,503.9L1063.7,503.9L1064.3,503.6L1064.6,503.7L1064.9,503.3L1065.5,503.5L1066.1,503.7L1066.7,504.1L1067.3,503.4L1067.9,504.4L1068.5,503.4L1069.1,504.5L1069.7,503.7L1070.3,504.4L1070.9,504.4L1071.5,504.6L1072.1,504.1L1072.7,504.4L1073.3,504.0L1073.9,504.6L1074.0,504.3L1074.5,504.6L1075.1,504.1L1075.7,503.3L1076.3,504.1L1076.9,503.3L1077.5,502.8L1078.1,502.9L1078.7,502.4L1079.3,502.5L1079.9,502.8L1080.5,503.0L1080.6,502.4L1081.1,502.6L1081.7,502.3L1082.3,501.9L1082.9,501.3L1083.5,500.9L1084.1,500.5L1084.7,500.7L1085.3,500.1L1085.9,500.4L1086.5,499.7L1087.1,499.7L1087.2,499.6L1087.7,499.4L1088.3,498.2L1088.9,497.9L1089.5,498.1L1090.1,496.8L1090.7,497.1L1091.3,497.1L1091.9,495.7L1091.9,495.9L1092.5,495.6L1093.1,495.6L1093.7,494.4L1094.3,494.4L1094.9,493.8L1095.5,492.4L1096.1,492.5L1096.7,492.0L1096.7,491.9L1097.3,491.7L1097.9,491.6L1098.5,490.8L1099.1,490.2L1099.7,487.8L1100.3,488.6L1100.4,487.9L1100.9,488.5L1101.5,485.3L1102.1,485.1L1102.7,486.5L1103.3,484.3L1103.9,484.3L1104.2,483.5L1104.5,483.1L1105.1,482.8L1105.7,482.6L1106.3,482.8L1106.9,481.8L1107.5,481.7L1108.1,480.7L1108.7,480.8L1109.3,480.3L1109.9,480.0L1109.9,479.7L1110.5,479.0L1111.1,479.6L1111.7,479.0L1112.3,478.3L1112.9,478.2L1113.5,477.5L1114.1,477.3L1114.7,477.7L1115.3,477.3L1115.6,476.9L1115.9,476.6L1116.5,476.7L1117.1,477.1L1117.7,477.4L1118.3,477.8L1118.9,477.5L1119.3,477.8L1119.5,478.0L1120.1,477.8L1120.7,478.5L1121.3,477.9L1121.9,478.6L1122.5,478.3L1123.1,478.3L1123.1,478.8L1123.7,478.7L1124.3,478.7L1124.9,478.3L1125.5,478.8L1126.1,478.5L1126.7,477.7L1127.3,477.4L1127.8,477.8L1127.9,477.7L1128.5,477.3L1129.1,477.2L1129.7,477.7L1130.3,477.0L1130.9,477.1L1131.5,477.3L1132.1,476.8L1132.6,476.9L1132.7,477.3L1133.3,476.8L1133.9,476.2L1134.5,475.9L1135.1,475.2L1135.7,475.2L1136.3,474.8L1136.3,474.6L1136.9,474.3L1137.5,474.2L1138.1,473.2L1138.7,473.3L1139.3,473.2L1139.9,471.8L1140.1,472.2L1140.5,472.5L1141.1,471.3L1141.7,471.8L1142.3,471.3L1142.9,470.4L1143.0,470.9L1143.5,470.0L1144.1,470.6L1144.7,469.7L1145.3,470.1L1145.8,469.3L1145.9,468.9L1146.5,468.8L1147.1,468.1L1147.7,468.4L1148.1,467.8L1148.3,466.6L1148.9,465.9L1149.5,468.5L1150.1,465.7L1150.5,466.4L1150.7,464.6L1151.1,460.9L1151.3,459.2L1151.8,456.5L1151.9,455.4L1152.5,455.2L1153.1,456.0L1153.3,454.0L1153.7,452.6L1154.3,454.6L1154.9,452.0L1155.2,452.7L1155.5,452.1L1156.1,446.8L1156.2,446.5L1156.7,442.6L1157.1,442.3L1157.3,441.8L1157.9,441.7L1158.5,441.7L1159.0,442.9L1159.1,443.3L1159.7,442.8L1160.3,443.6L1160.9,444.0L1160.9,443.8L1161.5,443.0L1162.1,441.9L1162.7,440.4L1163.2,440.8L1163.3,442.0L1163.9,439.9L1164.5,437.8L1165.1,439.6L1165.6,437.0L1165.7,435.6L1166.3,434.4L1166.9,432.2L1166.9,430.7L1167.5,427.1L1168.1,428.2L1168.5,424.7L1168.7,424.2L1169.3,426.5L1169.9,425.1L1170.5,424.4L1171.1,423.3L1171.3,423.6L1171.7,423.3L1172.3,422.6L1172.9,423.2L1173.5,423.2L1174.1,421.3L1174.1,422.1L1174.7,422.3L1175.3,420.3L1175.9,419.5L1176.0,419.9L1176.5,419.1L1177.1,419.4L1177.7,418.2L1177.9,417.4L1178.3,418.0L1178.9,417.9L1179.4,418.7L1179.5,418.9L1180.1,419.5L1180.7,420.2L1180.7,420.2L1181.3,419.5L1181.9,419.8L1182.5,418.6L1183.1,417.7L1183.6,418.1L1183.7,417.9L1184.3,417.7L1184.9,416.5L1185.5,415.5L1186.1,415.4L1186.4,415.7L1186.7,414.5L1187.3,415.2L1187.7,413.5L1187.9,414.2L1188.5,412.1L1189.1,411.8L1189.2,411.5L1189.7,411.5L1190.3,414.0L1190.7,414.8L1190.9,415.4L1191.5,415.9L1192.1,418.2L1192.1,417.8L1192.7,418.3L1193.3,415.4L1193.9,415.3L1194.0,415.8L1194.5,415.0L1195.1,412.9L1195.7,414.9L1195.8,412.3L1196.3,408.2L1196.8,405.7L1196.9,405.2L1197.5,402.6L1197.7,399.3L1198.1,399.1L1198.7,402.0L1199.1,401.0L1199.3,400.0L1199.9,402.8L1200.5,401.8L1200.6,403.2L1201.1,400.5L1201.7,400.2L1201.7,400.1L1202.3,398.0L1202.8,396.4L1202.9,397.3L1203.5,400.6L1203.6,400.0L1204.1,401.8L1204.3,404.1L1204.7,404.5L1205.3,404.2L1205.9,406.3L1206.2,405.9L1206.5,407.6L1207.1,406.6L1207.7,406.9L1208.1,407.8L1208.3,407.2L1208.9,407.5L1209.5,410.6L1209.6,409.2L1210.1,409.6L1210.7,412.3L1211.0,411.2L1211.3,416.1L1211.5,418.1L1211.9,424.8L1211.9,425.9L1212.5,420.3L1212.8,418.2L1213.1,415.6L1213.7,411.5L1213.8,411.9L1214.3,411.9L1214.9,411.0L1215.5,410.8L1215.7,410.9L1216.1,410.9L1216.7,409.8L1217.3,410.4L1217.6,409.8L1217.9,409.5L1218.5,409.9L1219.1,409.4L1219.5,408.9L1219.7,408.3L1220.3,408.4L1220.9,408.1L1221.3,407.9L1221.5,407.6L1222.1,408.5L1222.7,408.0L1222.9,409.1L1223.3,409.3L1223.9,408.8L1224.2,410.1L1224.5,411.0L1225.1,412.4L1225.1,414.0L1225.7,414.9L1226.1,418.3L1226.3,421.9L1226.6,424.0L1226.9,427.5L1227.0,428.4L1227.5,427.8L1228.1,427.8L1228.7,428.6L1229.3,429.5L1229.3,429.2L1229.9,429.4L1230.5,429.2L1231.1,430.2L1231.7,430.9L1231.7,429.6L1232.3,426.3L1232.7,422.9L1232.9,421.5L1233.5,418.0L1233.6,416.1L1234.1,416.8L1234.7,417.2L1234.9,417.1L1235.3,416.8L1235.9,418.5L1236.5,418.3L1236.5,417.7L1237.1,416.7L1237.6,416.1L1237.7,415.7L1238.3,414.5L1238.7,413.9L1238.9,413.6L1239.5,414.8L1240.1,415.6L1240.6,416.0L1240.7,416.3L1241.3,416.2L1241.9,418.5L1242.5,419.0L1243.1,418.2L1243.1,418.9L1243.7,418.7L1244.3,418.8L1244.9,422.1L1245.5,423.0L1245.5,421.9L1246.1,422.9L1246.7,424.6L1247.3,424.3L1247.8,425.0L1247.9,425.2L1248.5,425.6L1249.1,425.7L1249.7,424.7L1249.7,425.3L1250.3,425.8L1250.9,426.1L1251.5,425.3L1251.6,426.2L1251.9,440.4L1252.1,444.1L1252.5,454.3L1252.7,457.2L1253.3,464.4L1253.3,465.9L1253.9,470.8L1254.0,474.4L1254.5,474.4L1255.1,472.8L1255.7,472.2L1256.3,473.2L1256.9,472.8L1257.2,472.7L1257.5,472.2L1258.1,472.7L1258.7,471.9L1259.3,471.6L1259.9,471.6L1260.1,471.2L1260.5,471.6L1261.1,472.0L1261.7,473.0L1262.3,472.5L1262.5,473.9L1262.9,475.5L1263.5,474.1L1264.1,474.7L1264.7,477.9L1264.8,476.8L1265.3,477.7L1265.9,478.8L1266.5,480.2L1267.1,480.2L1267.1,481.2L1267.7,479.6L1268.3,482.8L1268.9,482.3L1269.5,483.7L1269.5,483.5L1270.1,484.1L1270.7,483.8L1271.3,484.2L1271.9,484.1L1272.3,484.5L1272.5,484.8L1273.1,484.4L1273.7,485.2L1274.3,485.6L1274.9,484.9L1275.2,485.4L1275.5,486.5L1276.1,487.4L1276.7,486.2L1277.3,488.6L1277.6,488.4L1277.9,487.9L1278.5,489.9L1279.1,489.6L1279.7,491.3L1279.9,491.1L1280.3,491.1L1280.9,491.0L1281.5,491.8L1282.1,492.0L1282.7,491.8L1282.7,492.0L1283.3,491.7L1283.9,492.1L1284.5,493.1L1285.1,493.1L1285.6,493.0L1285.7,493.2L1286.3,492.6L1286.9,493.0L1287.5,493.7L1288.1,493.7L1288.4,493.3L1288.7,493.7L1289.3,493.6L1289.9,493.7L1290.5,493.9L1291.1,493.4L1291.2,493.5L1291.7,493.8L1292.3,493.9L1292.9,495.1L1293.1,495.8L1293.5,495.7L1294.1,496.3L1294.7,496.9L1295.0,497.7L1295.3,497.7L1295.9,497.6L1296.5,497.9L1297.1,496.9L1297.7,497.0L1298.3,496.7L1298.8,497.1L1298.9,497.2L1299.5,497.3L1300.1,497.4L1300.1,497.1L1300.7,497.2L1301.3,496.3L1301.9,496.4L1302.0,496.2L1302.5,496.6L1303.1,496.3L1303.7,496.5L1303.8,496.8L1304.3,497.1L1304.9,497.0L1305.5,496.8L1305.5,497.2L1306.1,497.3L1306.7,497.1L1307.3,497.4L1307.6,497.3L1307.9,497.5L1308.5,497.7L1309.1,497.1L1309.7,497.8L1309.8,497.3L1310.3,497.7L1310.9,497.6L1311.5,498.1L1312.1,499.3L1312.6,499.4L1312.7,499.7L1313.3,499.8L1313.9,500.2L1314.5,500.1L1315.1,501.1L1315.4,501.2L1315.7,501.0L1316.3,501.9L1316.9,502.6L1317.5,502.7L1318.0,502.9L1318.1,502.6L1318.7,503.6L1319.3,504.2L1319.9,504.5L1320.4,504.4L1320.5,504.7L1321.1,504.9L1321.7,504.6L1322.3,505.2L1322.8,505.0L1322.9,504.7L1323.5,504.6L1324.1,505.5L1324.7,505.6L1325.3,504.9L1325.3,505.4L1325.9,505.3L1326.5,505.2L1327.1,505.8L1327.5,505.6L1327.7,505.7L1328.3,505.7L1328.9,505.5L1329.5,506.1L1329.6,505.7L1330.1,505.5L1330.7,505.5L1331.3,505.0L1331.9,504.5L1332.5,505.1L1332.7,504.6L1333.1,504.5L1333.7,504.2L1334.3,504.1L1334.9,503.5L1335.5,503.0L1336.0,503.3L1336.1,503.7L1336.7,502.9L1337.3,504.0L1337.9,503.4L1338.4,503.6L1338.5,503.9L1339.1,503.4L1339.7,503.3L1340.3,504.1L1340.9,504.2L1340.9,503.7L1341.5,503.8L1342.1,503.7L1342.6,503.6L1342.7,503.9L1343.3,503.8L1343.9,503.2L1344.5,503.3L1344.5,503.8L1345.1,503.9L1345.7,503.8L1345.9,504.6L1346.3,505.1L1346.9,505.3L1347.3,505.7L1347.5,505.8L1348.1,505.9L1348.7,505.2L1349.1,505.6L1349.3,505.8L1349.9,506.0L1350.5,505.9L1350.8,505.4L1351.1,505.3L1351.7,505.5L1352.3,504.7L1352.3,504.2L1352.9,504.0L1353.5,504.4L1353.7,504.0L1354.1,504.5L1354.7,505.1L1355.3,505.5L1355.4,505.3L1355.9,505.8L1356.5,506.4L1357.1,506.7L1357.2,506.6L1357.7,506.8L1358.2,506.4L1358.3,506.8L1358.9,506.3L1359.3,506.1L1359.5,506.0L1360.1,507.4L1360.7,507.2L1361.3,508.0L1361.5,508.3L1361.9,509.0L1362.5,509.7L1363.1,509.8L1363.6,510.4L1363.7,509.9L1364.3,510.0L1364.9,509.9L1365.3,510.2L1365.5,510.2L1366.1,509.6L1366.7,510.2L1367.1,510.0L1367.3,509.9L1367.9,510.0L1368.5,511.0L1368.5,511.1L1369.1,512.0L1369.7,511.8L1370.0,512.2L1370.3,512.1L1370.9,511.8L1371.5,512.2L1371.8,511.8L1372.1,511.7L1372.7,511.7L1373.3,512.0L1373.5,511.4L1373.9,510.8L1374.5,511.0L1375.1,511.3L1375.2,510.8L1375.7,510.5L1376.3,510.0L1376.9,509.9L1377.0,510.1L1377.5,510.2L1378.0,511.1L1378.1,510.9L1378.7,511.9L1379.2,512.2L1379.3,511.9L1379.9,512.6L1380.5,512.9L1381.1,512.8L1381.7,513.4L1382.3,513.7L1382.7,513.8L1382.9,513.6L1383.5,513.8L1384.1,514.4L1384.7,514.7L1385.3,514.9L1385.9,515.6L1386.3,515.3L1386.5,515.4L1387.1,515.6L1387.7,515.6L1388.3,516.1L1388.9,516.3L1389.1,516.5L1389.5,516.9L1390.1,517.4L1390.7,517.5L1391.3,516.9L1391.9,517.3L1391.9,517.5L1392.5,517.2L1393.1,517.5L1393.7,517.7L1394.3,518.9L1394.5,518.5L1394.9,518.5L1395.5,518.4L1396.1,519.4L1396.7,519.8L1396.9,519.3L1397.3,519.6L1397.9,519.0L1397.9,518.8L1398.5,518.4L1399.0,518.6L1399.1,518.2L1399.7,518.7L1400.3,518.5L1400.9,518.7L1401.5,519.9L1401.8,519.6L1402.1,520.0L1402.7,519.8L1403.3,520.1L1403.9,520.4L1404.5,521.0L1404.7,520.7L1405.1,520.8L1405.7,521.0L1406.3,521.4L1406.9,521.0L1407.5,520.7L1407.5,521.3L1408.1,521.8L1408.7,521.1L1409.3,521.7L1409.9,521.2L1410.3,521.7L1410.5,521.8L1411.1,521.2L1411.7,521.6L1412.3,521.7L1412.9,521.5L1413.5,521.9L1413.9,521.6L1414.1,521.3L1414.7,521.8L1415.3,521.7L1415.9,521.5L1416.5,521.5L1417.1,521.4L1417.4,521.3L1417.7,521.4L1418.3,520.6L1418.9,520.7L1419.5,520.4L1419.6,520.2L1420.1,520.4L1420.7,519.2L1421.3,519.2L1421.7,518.9L1421.9,518.8L1422.5,516.6L1423.1,517.7L1423.1,516.7L1423.7,516.5L1424.3,515.4L1424.5,515.5L1424.9,513.0L1424.9,511.5L1425.2,506.3L1425.5,508.3L1426.1,506.8L1426.6,507.1L1426.7,505.3L1427.3,508.4L1427.9,507.2L1428.1,507.5L1428.5,507.6L1429.1,508.0L1429.5,508.5L1429.7,508.5L1430.3,509.2L1430.9,509.5L1430.9,509.7L1431.5,509.9L1432.1,509.7L1432.7,508.8L1433.3,508.9L1433.3,508.7L1433.9,508.7L1434.5,508.0L1435.1,507.5L1435.7,507.9L1435.8,507.5L1436.3,507.1L1436.9,507.1L1437.5,506.0L1438.1,506.4L1438.7,505.7L1438.7,506.3L1439.3,504.9L1439.9,505.2L1440.5,505.0L1441.1,503.7L1441.5,504.0L1441.7,503.3L1442.3,502.7L1442.9,501.7L1443.5,501.6L1444.1,502.2L1444.7,501.0L1445.1,500.6L1445.3,501.3L1445.9,498.8L1446.5,499.8L1447.1,499.3L1447.7,498.1L1448.3,496.9L1448.6,496.8L1448.9,496.6L1449.5,496.0L1450.1,495.4L1450.7,495.6L1451.3,495.1L1451.4,494.8L1451.9,494.0L1452.5,494.0L1453.1,493.8L1453.7,493.3L1454.3,492.7L1454.3,493.1L1454.9,492.7L1455.5,492.1L1456.1,492.2L1456.4,491.8L1456.7,491.5L1457.3,491.0L1457.9,491.0L1458.5,491.4L1458.5,491.0L1459.1,489.6L1459.7,489.3L1460.2,488.2L1460.3,488.6L1460.9,487.2L1461.5,487.2L1462.1,485.7L1462.1,484.5L1462.7,486.2L1463.3,484.4L1463.9,485.2L1464.5,484.9L1465.1,483.7L1465.3,483.9L1465.7,483.3L1466.3,483.8L1466.9,483.4L1467.5,483.5L1468.1,482.9L1468.4,482.0L1468.7,482.4L1469.3,480.4L1469.8,479.9L1469.9,479.7L1470.5,479.4L1471.1,477.8L1471.3,477.8L1471.7,478.0L1472.3,478.3L1472.9,478.1L1473.4,478.2L1473.5,478.3L1474.1,478.3L1474.7,478.6L1475.3,477.9L1475.5,478.5L1475.9,477.1L1476.5,476.9L1476.9,476.5L1477.1,476.4L1477.7,475.7L1478.3,475.7L1478.3,474.4L1478.9,473.1L1479.5,472.4L1480.1,472.6L1480.1,472.4L1480.7,472.2L1481.3,470.7L1481.9,470.8L1482.4,470.6L1482.5,470.1L1483.1,469.3L1483.7,470.1L1484.3,468.3L1484.8,468.9L1484.9,468.9L1485.5,468.9L1486.1,466.9L1486.7,465.8L1487.3,464.0L1487.3,464.5L1487.9,465.7L1488.5,461.8L1489.1,460.3L1489.6,461.5L1489.7,461.0L1490.3,459.9L1490.9,459.9L1491.5,457.2L1491.5,456.0L1492.1,454.7L1492.7,454.7L1493.3,453.3L1493.3,452.5L1493.9,453.0L1494.5,454.5L1494.9,454.9L1495.1,456.3L1495.7,457.1L1496.2,457.1L1496.3,457.2L1496.9,454.7L1497.5,450.2L1497.5,451.6L1498.1,450.6L1498.7,447.1L1499.0,446.2L1499.3,444.6L1499.9,446.9L1500.5,444.9L1501.1,443.7L1501.7,441.4L1501.8,442.5L1502.3,440.7L1502.9,441.3L1503.5,439.9L1504.1,439.4L1504.7,439.3L1504.7,438.5L1505.3,438.3L1505.9,438.2L1506.5,436.8L1506.9,437.1L1507.1,437.9L1507.7,436.9L1508.3,436.6L1508.9,435.1L1509.4,435.1L1509.5,434.8L1510.1,436.2L1510.7,436.2L1511.3,437.2L1511.9,437.4L1511.9,436.6L1512.5,437.3L1513.1,438.8L1513.7,439.5L1514.1,439.4L1514.3,437.9L1514.9,436.7L1515.5,437.7L1515.6,436.7L1516.1,435.3L1516.7,434.8L1517.0,433.9L1517.3,433.1L1517.9,436.4L1518.3,437.0L1518.5,438.5L1519.1,440.1L1519.4,439.3L1519.7,438.3L1520.2,434.7L1520.3,435.4L1520.7,431.0L1520.9,430.3L1521.5,428.0L1522.1,427.6L1522.7,427.5L1523.2,427.5L1523.3,426.9L1523.9,427.2L1524.5,424.1L1525.1,423.4L1525.5,423.3L1525.7,423.1L1526.3,424.2L1526.9,424.1L1527.0,424.3L1527.5,425.0L1528.1,424.9L1528.3,425.5L1528.7,425.0L1529.3,424.0L1529.9,420.8L1530.2,420.2L1530.5,419.3L1531.1,419.9L1531.7,418.1L1532.1,415.4L1532.3,415.6L1532.9,415.2L1533.4,416.8L1533.5,417.0L1534.1,416.7L1534.7,416.2L1534.9,417.6L1535.3,420.4L1535.8,422.2L1535.9,421.7L1536.5,425.6L1536.8,427.1L1537.1,424.4L1537.7,423.0L1538.3,422.5L1538.3,423.1L1538.9,420.6L1539.5,417.2L1539.6,418.4L1540.1,416.5L1540.7,417.5L1540.9,415.7L1541.3,417.3L1541.9,413.9L1542.5,413.4L1542.5,412.6L1543.1,413.8L1543.7,414.0L1544.3,414.6L1544.3,414.3L1544.9,414.5L1545.5,414.1L1546.1,415.3L1546.2,414.8L1546.7,413.9L1547.2,413.5L1547.3,413.5L1547.9,412.6L1548.1,412.0L1548.5,412.0L1549.1,412.4L1549.6,414.3L1549.7,415.1L1550.3,414.0L1550.9,415.6L1551.0,416.9L1551.5,414.7L1551.9,411.3L1552.1,412.5L1552.7,408.1L1552.8,406.5L1553.3,406.4L1553.9,409.9L1554.2,408.6L1554.5,409.5L1555.1,411.4L1555.7,411.9L1555.7,410.9L1556.3,410.6L1556.9,411.2L1557.5,411.5L1557.6,412.0L1558.1,412.3L1558.7,412.5L1559.3,412.6L1559.5,413.0L1559.9,411.9L1560.5,411.3L1560.6,410.5L1561.1,410.2L1561.7,408.8L1561.7,408.0L1562.3,409.7L1562.9,410.4L1562.9,410.4L1563.5,412.5L1564.1,412.4L1564.2,413.0L1564.7,412.4L1565.3,413.5L1565.5,412.9L1565.9,412.8L1566.5,413.4L1567.0,412.9L1567.1,412.3L1567.7,413.8L1568.3,414.7L1568.9,414.7L1568.9,415.7L1569.5,417.4L1570.1,418.4L1570.7,419.4L1570.8,418.7L1571.3,416.3L1571.7,416.1L1571.9,415.6L1572.5,413.0L1572.7,413.6L1573.1,413.0L1573.7,414.1L1574.3,413.9L1574.6,413.7L1574.9,413.6L1575.5,413.7L1576.1,413.1L1576.5,413.6L1576.7,414.1L1577.3,414.8L1577.9,416.3L1578.0,417.5L1578.5,419.3L1579.1,419.7L1579.3,420.3L1579.7,420.8L1580.3,419.5L1580.6,419.6L1580.9,419.7L1581.5,419.5L1582.1,418.3L1582.1,418.6L1582.7,420.0L1583.3,420.1L1583.6,420.5L1583.9,420.1L1584.5,420.5L1585.0,422.6L1585.1,423.3L1585.7,422.2L1586.3,423.7L1586.9,423.3L1587.4,424.3L1587.5,424.1L1588.1,425.1L1588.7,425.4L1589.3,425.3L1589.7,426.2L1589.9,426.5L1590.5,426.0L1591.1,426.3L1591.7,426.9L1592.3,427.6L1592.5,427.5L1592.9,427.6L1593.5,428.3L1594.1,428.4L1594.7,428.1L1595.3,428.5L1595.3,428.7L1595.9,429.2L1596.5,429.9L1596.9,430.5L1597.1,429.4L1597.7,431.1L1598.2,431.9L1598.3,432.3L1598.9,434.3L1599.5,434.1L1599.5,435.0L1600.1,436.2L1600.7,436.1L1601.0,438.7L1601.3,440.1L1601.9,439.0L1602.5,439.0L1602.9,439.4L1603.1,439.4L1603.7,439.4L1604.3,439.3L1604.8,440.6L1604.9,440.2L1605.5,441.4L1605.7,443.1L1606.1,442.5L1606.7,445.2L1606.7,445.7L1607.3,446.5L1607.9,445.4L1608.5,445.2L1609.1,446.3L1609.7,445.2L1610.3,445.7L1610.5,445.8L1610.9,446.4L1611.5,445.7L1612.1,445.6L1612.7,445.7L1613.3,445.8L1613.9,445.3L1614.2,446.2L1614.5,446.5L1615.1,448.5L1615.7,448.0L1616.1,449.9L1616.3,451.7L1616.9,450.2L1617.5,454.3L1618.0,453.4L1618.1,454.5L1618.7,456.3L1619.3,455.3L1619.9,458.0L1620.3,456.9L1620.5,457.0L1621.1,459.4L1621.7,459.1L1622.3,458.3L1622.7,460.0L1622.9,460.4L1623.5,460.5L1624.1,460.4L1624.7,462.9L1625.2,462.6L1625.3,463.7L1625.9,463.0L1626.5,463.1L1627.1,464.3L1627.5,465.0L1627.7,466.2L1628.3,466.0L1628.9,465.9L1629.5,467.3L1629.7,467.4L1630.1,467.6L1630.7,467.5L1631.3,468.3L1631.9,470.5L1632.2,470.2L1632.5,470.0L1633.1,470.6L1633.7,470.2L1634.3,471.3L1634.9,471.3L1635.5,471.6L1636.1,471.5L1636.5,471.7L1636.7,472.1L1637.3,471.7L1637.9,471.7L1638.5,471.9L1639.1,473.0L1639.7,472.5L1640.3,472.4L1640.7,473.0L1640.9,472.7L1641.5,473.5L1642.1,474.2L1642.7,474.0L1643.3,474.6L1643.9,475.6L1644.5,475.5L1644.5,475.9L1645.1,475.3L1645.7,476.7L1646.3,476.6L1646.9,476.4L1647.5,478.2L1648.1,476.8L1648.2,477.9L1648.7,477.2L1649.3,478.0L1649.9,479.9L1650.5,481.1L1650.5,480.8L1651.1,482.4L1651.7,481.2L1652.3,483.5L1652.9,483.3L1653.0,483.9L1653.5,484.4L1654.1,484.9L1654.7,484.4L1655.3,486.0L1655.9,485.5L1656.2,486.0L1656.5,486.2L1657.1,487.1L1657.7,486.9L1658.3,487.5L1658.9,488.1L1659.5,488.2L1659.6,488.5L1660.1,488.6L1660.7,489.2L1661.3,489.4L1661.9,489.1L1662.5,489.8L1663.0,489.8L1663.1,490.1L1663.7,489.8L1664.3,489.9L1664.9,491.3L1665.5,491.3L1666.1,490.9L1666.2,491.4L1666.7,492.1L1667.3,492.9L1667.9,492.9L1668.5,494.5L1668.6,494.1L1669.1,494.4L1669.7,495.1L1670.3,496.7L1670.9,497.6L1670.9,497.0L1671.5,496.6L1672.1,497.1L1672.7,497.9L1673.3,497.6L1673.7,498.0L1673.9,498.4L1674.5,498.1L1675.1,497.9L1675.7,498.9L1676.3,498.8L1676.6,498.9L1676.9,499.5L1677.5,499.9L1678.1,500.3L1678.7,500.2L1679.3,501.1L1679.4,500.8L1679.9,501.3L1680.5,501.1L1681.1,502.1L1681.7,501.7L1682.2,502.7L1682.3,502.2L1682.9,503.3L1683.5,504.2L1684.1,504.7L1684.7,505.3L1685.1,504.9L1685.3,504.3L1685.9,506.5L1686.5,505.9L1687.1,507.2L1687.7,507.1L1687.9,507.4L1688.3,507.6L1688.9,507.8L1689.5,508.2L1690.1,508.2L1690.7,508.0L1690.7,508.3" stroke="#2ca02c"/>
<path d="M92,542.5H1691" stroke="#d62728"/>
</g>
<path d="M87,230.4h4M87,272.4h4M87,314.4h4M87,356.4h4M87,398.4h4M87,440.4h4M87,482.4h4M87,524.4h4M87,566.4h4M87,608.4h4M87,650.4h4M87,692.4h4M87,734.4h4M87,776.4h4M87,818.4h4" stroke="#000" stroke-width="1" fill="none" shape-rendering="crispEdges"/>
<path d="M177.5,818.5v4.5M342.5,818.5v4.5M507.5,818.5v4.5M672.5,818.5v4.5M838.5,818.5v4.5M1003.5,818.5v4.5M1168.5,818.5v4.5M1333.5,818.5v4.5M1498.5,818.5v4.5M1664.5,818.5v4.5" stroke="#444" stroke-width="1" fill="none" shape-rendering="crispEdges"/>
<g font-family="'DejaVu Sans', sans-serif" font-size="12" fill="#000" text-anchor="end">
<text x="80.6" y="235.3">50</text>
<text x="80.6" y="277.3">45</text>
<text x="80.6" y="319.3">40</text>
<text x="80.6" y="361.3">35</text>
<text x="80.6" y="403.3">30</text>
<text x="80.6" y="445.3">25</text>
<text x="80.6" y="487.3">20</text>
<text x="80.6" y="529.3">15</text>
<text x="80.6" y="571.3">10</text>
<text x="80.6" y="613.3">5</text>
<text x="80.6" y="655.3">0</text>
<text x="80.6" y="697.3">−5</text>
<text x="80.6" y="739.3">−10</text>
<text x="80.6" y="780.3">−15</text>
<text x="80.6" y="822.3">−20</text>
</g>
<g font-family="'DejaVu Sans', sans-serif" font-size="12" fill="#444" text-anchor="middle" letter-spacing="0.17">
<text x="177.3" y="837.6">12:00</text>
<text x="177.3" y="852.8">10.06.2022+02:00</text>
<text x="342.5" y="837.6">00:00</text>
<text x="342.5" y="852.8">11.06.2022+02:00</text>
<text x="507.7" y="837.6">12:00</text>
<text x="672.9" y="837.6">00:00</text>
<text x="672.9" y="852.8">12.06.2022+02:00</text>
<text x="838.1" y="837.6">12:00</text>
<text x="1003.3" y="837.6">00:00</text>
<text x="1003.3" y="852.8">13.06.2022+02:00</text>
<text x="1168.5" y="837.6">12:00</text>
<text x="1333.7" y="837.6">00:00</text>
<text x="1333.7" y="852.8">14.06.2022+02:00</text>
<text x="1498.9" y="837.6">12:00</text>
<text x="1664.1" y="837.6">00:00</text>
<text x="1664.1" y="852.8">15.06.2022+02:00</text>
</g>
<text x="891.5" y="870" font-family="'DejaVu Sans', sans-serif" font-size="14" fill="#444" text-anchor="middle">Zeit</text>
<text transform="translate(54,524.5) rotate(-90)" font-family="'DejaVu Sans', sans-serif" font-size="14.6" fill="#444" stroke="#444" stroke-width="0.25" text-anchor="middle">°C</text>
<g font-family="'DejaVu Sans', sans-serif" font-size="12" fill="#444" word-spacing="0.5">
<path d="M1728,245.6h30" stroke="#1f77b4" stroke-width="2" fill="none"/>
<text x="1763" y="249.7">Temperatur in Dalian</text>
<path d="M1728,264.6h30" stroke="#ff7f0e" stroke-width="2" fill="none"/>
<text x="1763" y="268.7">Temperatur in Eupen</text>
<path d="M1728,283.6h30" stroke="#2ca02c" stroke-width="2" fill="none"/>
<text x="1763" y="287.7">Temperatur in Wien</text>
<path d="M1728,302.6h30" stroke="#d62728" stroke-width="2" fill="none"/>
<text x="1763" y="306.7">Temperatur in Fulda</text>
</g>
<rect x="1026.5" y="423.4" width="118.7" height="20.8" fill="#fff" fill-opacity="0.8"/>
<text x="1028.8" y="438.6" font-family="'Liberation Sans', sans-serif" font-size="13" fill="#2ca02c">Temperatur in Wien</text>
<path d="M970.4,433.8L975.8,439.8V444.2H1026.5V423.4H975.8V427.8Z" fill="#2ca02c" stroke="#fff" stroke-width="1"/>
<text x="979.3" y="438.6" font-family="'Liberation Sans', sans-serif" font-size="13" fill="#fff" stroke="#fff" stroke-width="0.3">25,8 °C</text>
<rect x="1026.5" y="478.6" width="126" height="20.8" fill="#fff" fill-opacity="0.8"/>
<text x="1028.8" y="493.8" font-family="'Liberation Sans', sans-serif" font-size="13" fill="#1f77b4">Temperatur in Dalian</text>
<path d="M970.4,490.3L975.8,495V499.4H1026.5V478.6H975.8V483Z" fill="#1f77b4" stroke="#fff" stroke-width="1"/>
<text x="979.3" y="493.8" font-family="'Liberation Sans', sans-serif" font-size="13" fill="#fff" stroke="#fff" stroke-width="0.3">18,9 °C</text>
<rect x="1016" y="500.6" width="126.7" height="20.6" fill="#fff" fill-opacity="0.8"/>
<text x="1018.3" y="515.7" font-family="'Liberation Sans', sans-serif" font-size="13" fill="#ff7f0e">Temperatur in Eupen</text>
<path d="M970.4,508L975.8,516.9V521.2H1016V500.6H975.8V504.9Z" fill="#ff7f0e" stroke="#444" stroke-width="1"/>
<text x="979.3" y="515.7" font-family="'Liberation Sans', sans-serif" font-size="13" fill="#444" stroke="#444" stroke-width="0">17 °C</text>
<rect x="1026.5" y="531.6" width="121.6" height="20.8" fill="#fff" fill-opacity="0.8"/>
<text x="1028.8" y="546.8" font-family="'Liberation Sans', sans-serif" font-size="13" fill="#d62728">Temperatur in Fulda</text>
<path d="M970.4,542.2L975.8,548V552.4H1026.5V531.6H975.8V536Z" fill="#d62728" stroke="#fff" stroke-width="1"/>
<text x="979.3" y="546.8" font-family="'Liberation Sans', sans-serif" font-size="13" fill="#fff" stroke="#fff" stroke-width="0.3">12,9 °C</text>
<path d="M968.8,819L974.8,825H1043.8V844.6H894.2V825H962.8Z" fill="#444" stroke="#fff" stroke-width="0"/>
<text x="969" y="839.4" font-family="'Liberation Sans', sans-serif" font-size="13" fill="#fff" stroke="#fff" stroke-width="0.35" text-anchor="middle">12.06.2022+02:00, 21:30</text>
</svg>
<svg class="ui" width="1920" height="1059" viewBox="0 0 1920 1059">
<path d="M27,28h18M27,33h18M27,38h18" stroke="#fff" stroke-width="2" fill="none"/>
<rect x="88" y="20" width="75" height="26" rx="13" fill="#fff"/>
<rect x="89.6" y="21.6" width="71.8" height="22.8" rx="11.4" fill="none" stroke="#004494" stroke-width="0.7"/>
<text x="125.4" y="40" font-family="'Liberation Sans',sans-serif" font-weight="bold" font-size="19" fill="#004494" stroke="#004494" stroke-width="1.7" stroke-linejoin="round" text-anchor="middle" textLength="59" lengthAdjust="spacingAndGlyphs">JUMO</text>
<text y="40" font-family="'Liberation Sans',sans-serif" font-style="italic" font-size="21" fill="#fff"><tspan x="170" textLength="103" lengthAdjust="spacingAndGlyphs">smartWARE</tspan><tspan x="275.4">·</tspan><tspan x="283.2" textLength="95" lengthAdjust="spacingAndGlyphs">Evaluation</tspan></text>
<circle cx="1884" cy="33" r="19.2" fill="none" stroke="#fff" stroke-width="2"/>
<circle cx="1884" cy="24.2" r="8" fill="#fff"/>
<path d="M1878.8,32.2L1884,36.8L1889.2,32.2C1893.5,34 1896.3,38.5 1897.2,43.5C1894,47.3 1889.3,49.4 1884,49.4C1878.7,49.4 1874,47.3 1870.8,43.5C1871.7,38.5 1874.5,34 1878.8,32.2Z" fill="#fff"/>
<path d="M1875.9,44.2V47.6M1891.8,44.2V47.6" stroke="#18376f" stroke-width="1.1" fill="none"/>
<path d="M34,86.8L27.6,91.7L34,96.6M28.4,91.7H40.4C46.2,91.7 46.2,99.2 40.4,99.2H38.4" stroke="#fff" stroke-width="3.1" fill="none" stroke-linecap="round" stroke-linejoin="round"/>
<circle cx="285" cy="146.7" r="2.1" fill="#212121"/><circle cx="285" cy="152.9" r="2.1" fill="#212121"/><circle cx="285" cy="159.1" r="2.1" fill="#212121"/>
<defs><filter id="esh" x="-20%" y="-20%" width="150%" height="150%"><feGaussianBlur stdDeviation="2.3"/></filter></defs>
<ellipse cx="1033" cy="108.8" rx="36.3" ry="39.4" fill="none" stroke="rgba(75,75,75,.95)" stroke-width="4" filter="url(#esh)"/>
<ellipse cx="1029.2" cy="105" rx="36.3" ry="39.4" fill="none" stroke="#f0000c" stroke-width="3.4"/>
<path d="m500 450c-83 0-150-67-150-150 0-83 67-150 150-150 83 0 150 67 150 150 0 83-67 150-150 150z m400 150h-120c-16 0-34 13-39 29l-31 93c-6 15-23 28-40 28h-340c-16 0-34-13-39-28l-31-94c-6-15-23-28-40-28h-120c-55 0-100-45-100-100v-450c0-55 45-100 100-100h800c55 0 100 45 100 100v450c0 55-45 100-100 100z m-400-550c-138 0-250 112-250 250 0 138 112 250 250 250 138 0 250-112 250-250 0-138-112-250-250-250z m365 380c-19 0-35 16-35 35 0 19 16 35 35 35 19 0 35-16 35-35 0-19-16-35-35-35z" transform="matrix(0.03180 0 0 -0.03225 1566.100 213.988)" fill="#c7c7c7"/>
<path d="m786 296v-267q0-15-11-26t-25-10h-214v214h-143v-214h-214q-15 0-25 10t-11 26v267q0 1 0 2t0 2l321 264 321-264q1-1 1-4z m124 39l-34-41q-5-5-12-6h-2q-7 0-12 3l-386 322-386-322q-7-4-13-4-7 2-12 7l-35 41q-4 5-3 13t6 12l401 334q18 15 42 15t43-15l136-114v109q0 8 5 13t13 5h107q8 0 13-5t5-13v-227l122-102q5-5 6-12t-4-13z" transform="matrix(0.03124 0 0 -0.03142 1615.438 213.977)" fill="#c7c7c7"/>
<g fill="#c7c7c7">
<rect x="1660.9" y="196.4" width="2.2" height="2.2"/><rect x="1666.2" y="196.4" width="2.2" height="2.2"/>
<path d="M1671.2,195.9H1676.6V192.7L1682,197.6L1676.6,202.5V199.2H1671.2Z"/>
<rect x="1671.6" y="207" width="2.2" height="2.2"/><rect x="1676.9" y="207" width="2.2" height="2.2"/>
<path d="M1668.9,206.5H1663.5V203.4L1658.1,208.2L1663.5,213.2V209.8H1668.9Z"/>
<rect x="1694" y="192.2" width="4.2" height="4.2"/><rect x="1702.9" y="192.2" width="4.2" height="4.2"/>
<circle cx="1713.7" cy="194.5" r="4.75"/>
<rect x="1711.9" y="201.3" width="4.1" height="4"/><rect x="1711.9" y="210.1" width="4.1" height="4"/>
<path d="M1734.2,202.9L1741.9,195H1766V210.8H1741.9Z"/>
</g>
<path d="M1774.2,195.7L1779.5,190.4H1805.9V200.9H1779.5ZM1774.2,210.2L1779.5,204.9H1805.9V215.4H1779.5Z" fill="#7c7c7c"/>
<path d="M1817.8,208.1L1827.2,198.3L1834.2,205.9L1842,197.3" stroke="#c7c7c7" stroke-width="2.5" fill="none" stroke-linejoin="round"/>
<g fill="#c7c7c7"><circle cx="1817.8" cy="208.1" r="2.8"/><circle cx="1827.2" cy="198.3" r="2.8"/><circle cx="1834.2" cy="205.9" r="2.8"/><circle cx="1842" cy="197.3" r="2.8"/></g>
<path d="M12 3c-4.97 0-9 4.03-9 9s4.03 9 9 9c.83 0 1.5-.67 1.5-1.5 0-.39-.15-.74-.39-1.01-.23-.26-.38-.61-.38-.99 0-.83.67-1.5 1.5-1.5H16c2.76 0 5-2.24 5-5 0-4.42-4.03-8-9-8zm-5.5 9c-.83 0-1.5-.67-1.5-1.5S5.67 9 6.5 9 8 9.67 8 10.5 7.33 12 6.5 12zm3-4C8.67 8 8 7.33 8 6.5S8.67 5 9.5 5s1.5.67 1.5 1.5S10.33 8 9.5 8zm5 0c-.83 0-1.5-.67-1.5-1.5S13.67 5 14.5 5s1.5.67 1.5 1.5S15.33 8 14.5 8zm3 4c-.83 0-1.5-.67-1.5-1.5S16.67 9 17.5 9s1.5.67 1.5 1.5-.67 1.5-1.5 1.5z" transform="matrix(1.35000 0 0 1.32778 1853.950 187.017)" fill="#000"/>
<path d="M13 3c-4.97 0-9 4.03-9 9H1l3.89 3.89.07.14L9 12H6c0-3.87 3.13-7 7-7s7 3.13 7 7-3.13 7-7 7c-1.93 0-3.68-.79-4.94-2.06l-1.42 1.42C8.27 19.99 10.51 21 13 21c4.97 0 9-4.03 9-9s-4.03-9-9-9zm-1 5v5l4.28 2.54.72-1.21-3.5-2.08V8H12z" transform="matrix(0.95714 0 0 0.98333 955.993 94.250)" fill="#fff"/>
<g fill="none" stroke="#fff">
<path d="M1025.8,98.9H1021.6V115.4H1036.5V98.9H1032.3" stroke-width="1.2"/>
<path d="M1024.2,103.3H1033.6M1024.2,105.6H1033.6M1024.2,108.2H1033.6M1024.2,110.5H1030" stroke-width="1.1"/>
</g>
<path d="M1025.8,100.6V97.9H1027.9C1027.9,95.6 1030.3,95.6 1030.3,97.9H1032.4V100.6Z" fill="#fff"/>
<path d="M1089.3,96.1H1093V103.2H1097.6L1091.1,109.9L1084.3,103.2H1089.3Z" fill="#fff"/>
<path d="M1080.9,107.6H1083.1V113.6H1098.9V107.6H1101.1V116H1080.9Z" fill="#fff"/>
<rect x="1084.5" y="111.1" width="13.2" height="1.8" fill="#fff"/>
</svg>
</body></html>
